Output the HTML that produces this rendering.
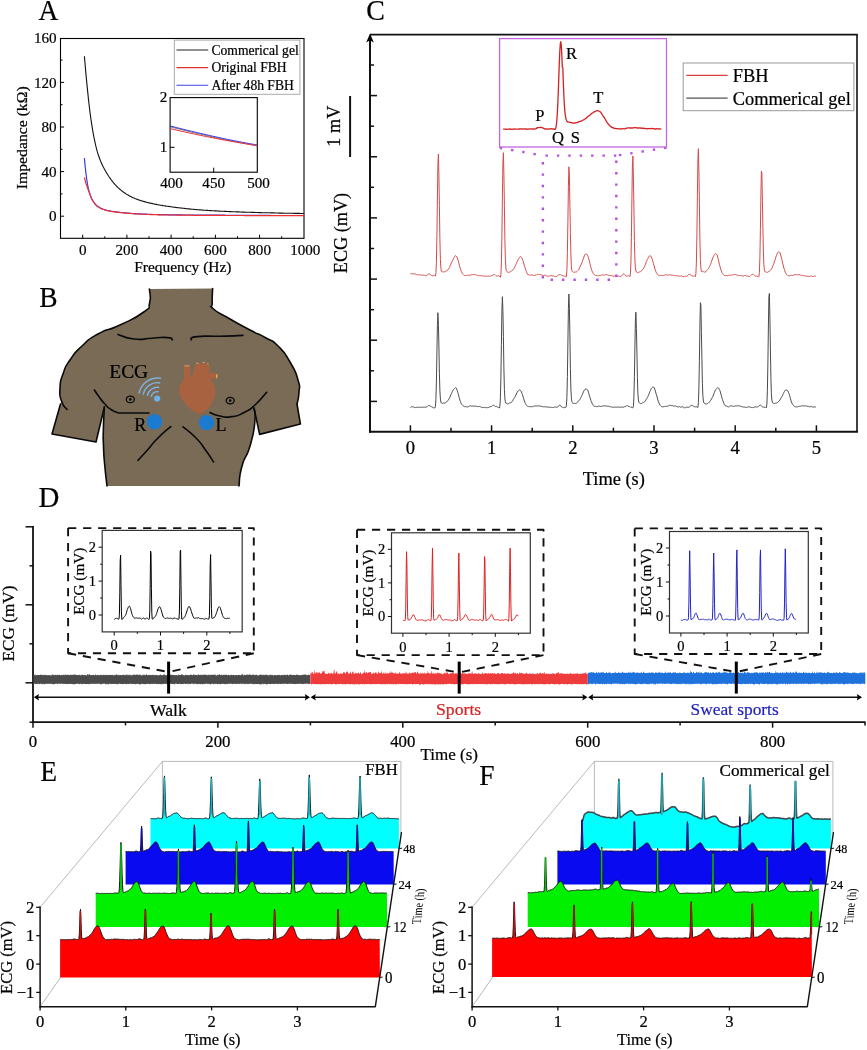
<!DOCTYPE html>
<html lang="en">
<head>
<meta charset="utf-8">
<title>Figure: FBH ECG electrodes</title>
<style>
html,body{margin:0;padding:0;background:#fff;}
body{width:867px;height:1050px;overflow:hidden;font-family:"Liberation Serif", "DejaVu Serif", serif;}
svg{display:block;}
svg text{font-family:"Liberation Serif", "DejaVu Serif", serif;stroke-width:0.22px;}
</style>
</head>
<body>
<svg width="867" height="1050" viewBox="0 0 867 1050" font-family='"Liberation Serif", "DejaVu Serif", serif'>
<rect width="867" height="1050" fill="#fff"/>
<!-- panel_a -->
<g>
<text transform="translate(38.6 19.8) scale(0.94 1)" font-size="29.2" text-anchor="start" fill="#000" stroke="#000" >A</text>
<rect x="60.5" y="38.5" width="243.5" height="199.8" fill="none" stroke="#000" stroke-width="1.1" />
<line x1="82.7" y1="238.3" x2="82.7" y2="234.7" stroke="#000" stroke-width="1" />
<text transform="translate(82.7 254.6) scale(0.97 1)" font-size="15.6" text-anchor="middle" fill="#000" stroke="#000" >0</text>
<line x1="104.8" y1="238.3" x2="104.8" y2="236.3" stroke="#000" stroke-width="1" />
<line x1="126.9" y1="238.3" x2="126.9" y2="234.7" stroke="#000" stroke-width="1" />
<text transform="translate(126.9 254.6) scale(0.97 1)" font-size="15.6" text-anchor="middle" fill="#000" stroke="#000" >200</text>
<line x1="149" y1="238.3" x2="149" y2="236.3" stroke="#000" stroke-width="1" />
<line x1="171.1" y1="238.3" x2="171.1" y2="234.7" stroke="#000" stroke-width="1" />
<text transform="translate(171.1 254.6) scale(0.97 1)" font-size="15.6" text-anchor="middle" fill="#000" stroke="#000" >400</text>
<line x1="193.2" y1="238.3" x2="193.2" y2="236.3" stroke="#000" stroke-width="1" />
<line x1="215.4" y1="238.3" x2="215.4" y2="234.7" stroke="#000" stroke-width="1" />
<text transform="translate(215.4 254.6) scale(0.97 1)" font-size="15.6" text-anchor="middle" fill="#000" stroke="#000" >600</text>
<line x1="237.5" y1="238.3" x2="237.5" y2="236.3" stroke="#000" stroke-width="1" />
<line x1="259.6" y1="238.3" x2="259.6" y2="234.7" stroke="#000" stroke-width="1" />
<text transform="translate(259.6 254.6) scale(0.97 1)" font-size="15.6" text-anchor="middle" fill="#000" stroke="#000" >800</text>
<line x1="281.7" y1="238.3" x2="281.7" y2="236.3" stroke="#000" stroke-width="1" />
<text transform="translate(305.3 254.6) scale(0.97 1)" font-size="15.6" text-anchor="middle" fill="#000" stroke="#000" >1000</text>
<line x1="60.5" y1="216.2" x2="64.1" y2="216.2" stroke="#000" stroke-width="1" />
<text transform="translate(56.6 221.4) scale(0.97 1)" font-size="15.6" text-anchor="end" fill="#000" stroke="#000" >0</text>
<line x1="60.5" y1="193.9" x2="62.5" y2="193.9" stroke="#000" stroke-width="1" />
<line x1="60.5" y1="171.6" x2="64.1" y2="171.6" stroke="#000" stroke-width="1" />
<text transform="translate(56.6 176.8) scale(0.97 1)" font-size="15.6" text-anchor="end" fill="#000" stroke="#000" >40</text>
<line x1="60.5" y1="149.3" x2="62.5" y2="149.3" stroke="#000" stroke-width="1" />
<line x1="60.5" y1="127" x2="64.1" y2="127" stroke="#000" stroke-width="1" />
<text transform="translate(56.6 132.2) scale(0.97 1)" font-size="15.6" text-anchor="end" fill="#000" stroke="#000" >80</text>
<line x1="60.5" y1="104.7" x2="62.5" y2="104.7" stroke="#000" stroke-width="1" />
<line x1="60.5" y1="82.4" x2="64.1" y2="82.4" stroke="#000" stroke-width="1" />
<text transform="translate(56.6 87.6) scale(0.97 1)" font-size="15.6" text-anchor="end" fill="#000" stroke="#000" >120</text>
<line x1="60.5" y1="60.1" x2="62.5" y2="60.1" stroke="#000" stroke-width="1" />
<text transform="translate(56.6 43) scale(0.97 1)" font-size="15.6" text-anchor="end" fill="#000" stroke="#000" >160</text>
<text transform="translate(182.8 272.1) scale(1.08 1)" font-size="14.3" text-anchor="middle" fill="#000" stroke="#000" >Frequency (Hz)</text>
<text transform="translate(27.2 137.8) rotate(-90) scale(1.1 1)" font-size="14.3" text-anchor="middle" fill="#000" stroke="#000" >Impedance (kΩ)</text>
<polyline points="84.4,56.2 85.2,65.6 86,74.6 86.8,82.9 87.6,90.9 88.4,98.6 89.2,105.8 90,112.4 90.8,118.3 91.6,123.7 92.4,128.7 93.2,133.3 94,137.5 94.8,141.4 95.6,145 96.4,148.3 97.2,151.4 98,154 98.8,156.3 99.6,158.5 100.4,160.6 101.2,162.5 102,164.3 102.8,166 103.6,167.6 104.4,169.1 105.2,170.5 106,171.9 106.8,173.2 107.6,174.5 108.4,175.8 109.2,177 110,178.1 110.8,179.3 111.6,180.3 112.4,181.4 113.2,182.4 114,183.3 114.8,184.3 115.6,185.1 116.4,186 117.2,186.8 118,187.6 118.8,188.3 119.6,189 120.4,189.7 121.2,190.4 122,191 122.8,191.6 123.6,192.2 124.4,192.8 125.2,193.3 126,193.9 126.8,194.4 127.6,194.8 128.4,195.3 129.2,195.8 130,196.2 130.8,196.6 131.6,197 132.4,197.4 133.2,197.8 134,198.1 134.8,198.5 135.6,198.8 136.4,199.1 137.2,199.4 138,199.6 138.8,199.9 139.6,200.2 140.4,200.4 141.2,200.7 142,200.9 142.8,201.2 143.6,201.4 144.4,201.6 145.2,201.9 146,202.1 146.8,202.3 147.6,202.5 148.4,202.7 149.2,202.9 150,203.1 150.8,203.3 151.6,203.4 152.4,203.6 153.2,203.8 154,204 154.8,204.1 155.6,204.3 156.4,204.4 157.2,204.6 158,204.7 158.8,204.9 159.6,205 160.4,205.2 161.2,205.3 162,205.4 162.8,205.6 163.6,205.7 164.4,205.8 165.2,205.9 166,206.1 166.8,206.2 167.6,206.3 168.4,206.4 169.2,206.5 170,206.6 170.8,206.7 171.6,206.8 172.4,207 173.2,207.1 174,207.2 174.8,207.3 175.6,207.4 176.4,207.5 177.2,207.6 178,207.7 178.8,207.8 179.6,207.9 180.4,208 181.2,208 182,208.1 182.8,208.2 183.6,208.3 184.4,208.4 185.2,208.5 186,208.6 186.8,208.7 187.6,208.8 188.4,208.9 189.2,208.9 190,209 190.8,209.1 191.6,209.2 192.4,209.3 193.2,209.3 194,209.4 194.8,209.5 195.6,209.5 196.4,209.6 197.2,209.7 198,209.7 198.8,209.8 199.6,209.9 200.4,209.9 201.2,210 202,210 202.8,210.1 203.6,210.2 204.4,210.2 205.2,210.3 206,210.3 206.8,210.4 207.6,210.4 208.4,210.5 209.2,210.5 210,210.6 210.8,210.6 211.6,210.7 212.4,210.7 213.2,210.8 214,210.8 214.8,210.9 215.6,210.9 216.4,210.9 217.2,211 218,211 218.8,211.1 219.6,211.1 220.4,211.2 221.2,211.2 222,211.2 222.8,211.3 223.6,211.3 224.4,211.4 225.2,211.4 226,211.4 226.8,211.5 227.6,211.5 228.4,211.5 229.2,211.6 230,211.6 230.8,211.6 231.6,211.7 232.4,211.7 233.2,211.7 234,211.8 234.8,211.8 235.6,211.8 236.4,211.9 237.2,211.9 238,211.9 238.8,211.9 239.6,212 240.4,212 241.2,212 242,212.1 242.8,212.1 243.6,212.1 244.4,212.1 245.2,212.2 246,212.2 246.8,212.2 247.6,212.2 248.4,212.3 249.2,212.3 250,212.3 250.8,212.3 251.6,212.4 252.4,212.4 253.2,212.4 254,212.4 254.8,212.5 255.6,212.5 256.4,212.5 257.2,212.5 258,212.5 258.8,212.6 259.6,212.6 260.4,212.6 261.2,212.6 262,212.7 262.8,212.7 263.6,212.7 264.4,212.7 265.2,212.7 266,212.8 266.8,212.8 267.6,212.8 268.4,212.8 269.2,212.8 270,212.8 270.8,212.9 271.6,212.9 272.4,212.9 273.2,212.9 274,212.9 274.8,213 275.6,213 276.4,213 277.2,213 278,213 278.8,213.1 279.6,213.1 280.4,213.1 281.2,213.1 282,213.1 282.8,213.1 283.6,213.2 284.4,213.2 285.2,213.2 286,213.2 286.8,213.2 287.6,213.2 288.4,213.2 289.2,213.3 290,213.3 290.8,213.3 291.6,213.3 292.4,213.3 293.2,213.3 294,213.4 294.8,213.4 295.6,213.4 296.4,213.4 297.2,213.4 298,213.4 298.8,213.4 299.6,213.4 300.4,213.5 301.2,213.5 302,213.5 302.8,213.5 303.6,213.5" fill="none" stroke="#111" stroke-width="1.1" stroke-linejoin="round" />
<polyline points="84.4,158.1 85.2,166.8 86,174 86.8,179.8 87.6,184.7 88.4,188.7 89.2,191.7 90,194.3 90.8,196.6 91.6,198.5 92.4,200 93.2,201.3 94,202.5 94.8,203.6 95.6,204.5 96.4,205.3 97.2,206.1 98,206.6 98.8,207.1 99.6,207.6 100.4,208 101.2,208.4 102,208.7 102.8,209.1 103.6,209.3 104.4,209.6 105.2,209.9 106,210.1 106.8,210.3 107.6,210.5 108.4,210.7 109.2,210.8 110,211 110.8,211.1 111.6,211.3 112.4,211.4 113.2,211.5 114,211.6 114.8,211.7 115.6,211.8 116.4,211.9 117.2,212 118,212.1 118.8,212.2 119.6,212.3 120.4,212.4 121.2,212.5 122,212.5 122.8,212.6 123.6,212.7 124.4,212.8 125.2,212.9 126,212.9 126.8,213 127.6,213.1 128.4,213.1 129.2,213.2 130,213.3 130.8,213.3 131.6,213.4 132.4,213.5 133.2,213.5 134,213.6 134.8,213.6 135.6,213.7 136.4,213.7 137.2,213.8 138,213.8 138.8,213.8 139.6,213.9 140.4,213.9 141.2,214 142,214 142.8,214.1 143.6,214.1 144.4,214.1 145.2,214.2 146,214.2 146.8,214.2 147.6,214.3 148.4,214.3 149.2,214.3 150,214.4 150.8,214.4 151.6,214.4 152.4,214.4 153.2,214.5 154,214.5 154.8,214.5 155.6,214.5 156.4,214.5 157.2,214.5 158,214.6 158.8,214.6 159.6,214.6 160.4,214.6 161.2,214.6 162,214.6 162.8,214.7 163.6,214.7 164.4,214.7 165.2,214.7 166,214.7 166.8,214.7 167.6,214.7 168.4,214.8 169.2,214.8 170,214.8 170.8,214.8 171.6,214.8 172.4,214.8 173.2,214.8 174,214.8 174.8,214.8 175.6,214.9 176.4,214.9 177.2,214.9 178,214.9 178.8,214.9 179.6,214.9 180.4,214.9 181.2,214.9 182,214.9 182.8,214.9 183.6,215 184.4,215 185.2,215 186,215 186.8,215 187.6,215 188.4,215 189.2,215 190,215 190.8,215 191.6,215 192.4,215 193.2,215.1 194,215.1 194.8,215.1 195.6,215.1 196.4,215.1 197.2,215.1 198,215.1 198.8,215.1 199.6,215.1 200.4,215.1 201.2,215.1 202,215.1 202.8,215.1 203.6,215.1 204.4,215.1 205.2,215.1 206,215.1 206.8,215.1 207.6,215.1 208.4,215.2 209.2,215.2 210,215.2 210.8,215.2 211.6,215.2 212.4,215.2 213.2,215.2 214,215.2 214.8,215.2 215.6,215.2 216.4,215.2 217.2,215.2 218,215.2 218.8,215.2 219.6,215.2 220.4,215.2 221.2,215.2 222,215.2 222.8,215.2 223.6,215.2 224.4,215.2 225.2,215.3 226,215.3 226.8,215.3 227.6,215.3 228.4,215.3 229.2,215.3 230,215.3 230.8,215.3 231.6,215.3 232.4,215.3 233.2,215.3 234,215.3 234.8,215.3 235.6,215.3 236.4,215.3 237.2,215.3 238,215.3 238.8,215.3 239.6,215.3 240.4,215.3 241.2,215.3 242,215.3 242.8,215.3 243.6,215.3 244.4,215.4 245.2,215.4 246,215.4 246.8,215.4 247.6,215.4 248.4,215.4 249.2,215.4 250,215.4 250.8,215.4 251.6,215.4 252.4,215.4 253.2,215.4 254,215.4 254.8,215.4 255.6,215.4 256.4,215.4 257.2,215.4 258,215.4 258.8,215.4 259.6,215.4 260.4,215.4 261.2,215.4 262,215.4 262.8,215.4 263.6,215.4 264.4,215.4 265.2,215.4 266,215.4 266.8,215.4 267.6,215.4 268.4,215.4 269.2,215.4 270,215.4 270.8,215.5 271.6,215.5 272.4,215.5 273.2,215.5 274,215.5 274.8,215.5 275.6,215.5 276.4,215.5 277.2,215.5 278,215.5 278.8,215.5 279.6,215.5 280.4,215.5 281.2,215.5 282,215.5 282.8,215.5 283.6,215.5 284.4,215.5 285.2,215.5 286,215.5 286.8,215.5 287.6,215.5 288.4,215.5 289.2,215.5 290,215.5 290.8,215.5 291.6,215.5 292.4,215.5 293.2,215.5 294,215.5 294.8,215.5 295.6,215.5 296.4,215.5 297.2,215.5 298,215.5 298.8,215.5 299.6,215.5 300.4,215.5 301.2,215.5 302,215.5 302.8,215.5 303.6,215.5" fill="none" stroke="#3a3ae8" stroke-width="1.2" stroke-linejoin="round" />
<polyline points="84.4,177.5 85.2,180.7 86,183.5 86.8,185.9 87.6,188.2 88.4,190.3 89.2,192.4 90,194.6 90.8,196.8 91.6,198.7 92.4,200.2 93.2,201.5 94,202.6 94.8,203.7 95.6,204.7 96.4,205.5 97.2,206.2 98,206.8 98.8,207.3 99.6,207.8 100.4,208.2 101.2,208.6 102,208.9 102.8,209.3 103.6,209.5 104.4,209.8 105.2,210.1 106,210.3 106.8,210.5 107.6,210.7 108.4,210.9 109.2,211 110,211.2 110.8,211.3 111.6,211.5 112.4,211.6 113.2,211.7 114,211.8 114.8,211.9 115.6,212 116.4,212.1 117.2,212.2 118,212.3 118.8,212.4 119.6,212.5 120.4,212.6 121.2,212.7 122,212.7 122.8,212.8 123.6,212.9 124.4,213 125.2,213.1 126,213.1 126.8,213.2 127.6,213.3 128.4,213.3 129.2,213.4 130,213.5 130.8,213.5 131.6,213.6 132.4,213.7 133.2,213.7 134,213.8 134.8,213.8 135.6,213.9 136.4,213.9 137.2,214 138,214 138.8,214 139.6,214.1 140.4,214.1 141.2,214.2 142,214.2 142.8,214.3 143.6,214.3 144.4,214.3 145.2,214.4 146,214.4 146.8,214.4 147.6,214.5 148.4,214.5 149.2,214.5 150,214.6 150.8,214.6 151.6,214.6 152.4,214.6 153.2,214.7 154,214.7 154.8,214.7 155.6,214.7 156.4,214.7 157.2,214.7 158,214.8 158.8,214.8 159.6,214.8 160.4,214.8 161.2,214.8 162,214.8 162.8,214.9 163.6,214.9 164.4,214.9 165.2,214.9 166,214.9 166.8,214.9 167.6,214.9 168.4,215 169.2,215 170,215 170.8,215 171.6,215 172.4,215 173.2,215 174,215 174.8,215 175.6,215.1 176.4,215.1 177.2,215.1 178,215.1 178.8,215.1 179.6,215.1 180.4,215.1 181.2,215.1 182,215.1 182.8,215.1 183.6,215.2 184.4,215.2 185.2,215.2 186,215.2 186.8,215.2 187.6,215.2 188.4,215.2 189.2,215.2 190,215.2 190.8,215.2 191.6,215.2 192.4,215.2 193.2,215.3 194,215.3 194.8,215.3 195.6,215.3 196.4,215.3 197.2,215.3 198,215.3 198.8,215.3 199.6,215.3 200.4,215.3 201.2,215.3 202,215.3 202.8,215.3 203.6,215.3 204.4,215.3 205.2,215.3 206,215.3 206.8,215.3 207.6,215.3 208.4,215.4 209.2,215.4 210,215.4 210.8,215.4 211.6,215.4 212.4,215.4 213.2,215.4 214,215.4 214.8,215.4 215.6,215.4 216.4,215.4 217.2,215.4 218,215.4 218.8,215.4 219.6,215.4 220.4,215.4 221.2,215.4 222,215.4 222.8,215.4 223.6,215.4 224.4,215.4 225.2,215.5 226,215.5 226.8,215.5 227.6,215.5 228.4,215.5 229.2,215.5 230,215.5 230.8,215.5 231.6,215.5 232.4,215.5 233.2,215.5 234,215.5 234.8,215.5 235.6,215.5 236.4,215.5 237.2,215.5 238,215.5 238.8,215.5 239.6,215.5 240.4,215.5 241.2,215.5 242,215.5 242.8,215.5 243.6,215.5 244.4,215.6 245.2,215.6 246,215.6 246.8,215.6 247.6,215.6 248.4,215.6 249.2,215.6 250,215.6 250.8,215.6 251.6,215.6 252.4,215.6 253.2,215.6 254,215.6 254.8,215.6 255.6,215.6 256.4,215.6 257.2,215.6 258,215.6 258.8,215.6 259.6,215.6 260.4,215.6 261.2,215.6 262,215.6 262.8,215.6 263.6,215.6 264.4,215.6 265.2,215.6 266,215.6 266.8,215.6 267.6,215.6 268.4,215.6 269.2,215.6 270,215.6 270.8,215.7 271.6,215.7 272.4,215.7 273.2,215.7 274,215.7 274.8,215.7 275.6,215.7 276.4,215.7 277.2,215.7 278,215.7 278.8,215.7 279.6,215.7 280.4,215.7 281.2,215.7 282,215.7 282.8,215.7 283.6,215.7 284.4,215.7 285.2,215.7 286,215.7 286.8,215.7 287.6,215.7 288.4,215.7 289.2,215.7 290,215.7 290.8,215.7 291.6,215.7 292.4,215.7 293.2,215.7 294,215.7 294.8,215.7 295.6,215.7 296.4,215.7 297.2,215.7 298,215.7 298.8,215.7 299.6,215.7 300.4,215.7 301.2,215.7 302,215.7 302.8,215.7 303.6,215.7" fill="none" stroke="#ee3030" stroke-width="1.2" stroke-linejoin="round" />
<rect x="174.3" y="40.1" width="125.6" height="54.2" fill="#fff" stroke="#aaa" stroke-width="1" />
<line x1="176.5" y1="50" x2="208.2" y2="50" stroke="#222" stroke-width="1.1" />
<text x="211.5" y="54.6" font-size="13.6" text-anchor="start" fill="#000" stroke="#000" >Commerical gel</text>
<line x1="176.5" y1="67.6" x2="208.2" y2="67.6" stroke="#e03030" stroke-width="1.1" />
<text x="211.5" y="72.2" font-size="13.6" text-anchor="start" fill="#000" stroke="#000" >Original FBH</text>
<line x1="176.5" y1="85.2" x2="208.2" y2="85.2" stroke="#4040e8" stroke-width="1.1" />
<text x="211.5" y="89.8" font-size="13.6" text-anchor="start" fill="#000" stroke="#000" >After 48h FBH</text>
<rect x="170.1" y="97.6" width="87.2" height="74.6" fill="#fff" stroke="#000" stroke-width="1.1" />
<line x1="213.7" y1="172.2" x2="213.7" y2="167.7" stroke="#000" stroke-width="1" />
<line x1="170.1" y1="147.3" x2="174.6" y2="147.3" stroke="#000" stroke-width="1" />
<text transform="translate(167.2 101.8) scale(0.97 1)" font-size="15.6" text-anchor="end" fill="#000" stroke="#000" >2</text>
<text transform="translate(167.2 152) scale(0.97 1)" font-size="15.6" text-anchor="end" fill="#000" stroke="#000" >1</text>
<text transform="translate(171.5 187.8) scale(0.97 1)" font-size="15.6" text-anchor="middle" fill="#000" stroke="#000" >400</text>
<text transform="translate(213.7 187.8) scale(0.97 1)" font-size="15.6" text-anchor="middle" fill="#000" stroke="#000" >450</text>
<text transform="translate(258.5 187.8) scale(0.97 1)" font-size="15.6" text-anchor="middle" fill="#000" stroke="#000" >500</text>
<polyline points="170.1,126.7 173.1,127.5 176.1,128.3 179.1,129 182.1,129.8 185.1,130.5 188.1,131.3 191.1,132 194.2,132.7 197.2,133.4 200.2,134.1 203.2,134.8 206.2,135.5 209.2,136.2 212.2,136.9 215.2,137.5 218.2,138.2 221.2,138.8 224.2,139.5 227.2,140.1 230.2,140.7 233.2,141.3 236.3,141.9 239.3,142.5 242.3,143.1 245.3,143.6 248.3,144.2 251.3,144.7 254.3,145.3 257.3,145.8" fill="none" stroke="#223" stroke-width="0.6" stroke-linejoin="round" />
<polyline points="170.1,125.9 173.1,126.7 176.1,127.5 179.1,128.2 182.1,129 185.1,129.7 188.1,130.5 191.1,131.2 194.2,131.9 197.2,132.6 200.2,133.3 203.2,134 206.2,134.7 209.2,135.4 212.2,136.1 215.2,136.7 218.2,137.4 221.2,138 224.2,138.7 227.2,139.3 230.2,139.9 233.2,140.5 236.3,141.1 239.3,141.7 242.3,142.3 245.3,142.8 248.3,143.4 251.3,143.9 254.3,144.5 257.3,145" fill="none" stroke="#3a3ae8" stroke-width="1.0" stroke-linejoin="round" />
<polyline points="170.1,128.6 173.1,129.3 176.1,130 179.1,130.7 182.1,131.4 185.1,132 188.1,132.7 191.1,133.4 194.2,134 197.2,134.6 200.2,135.3 203.2,135.9 206.2,136.5 209.2,137.1 212.2,137.7 215.2,138.3 218.2,138.9 221.2,139.5 224.2,140 227.2,140.6 230.2,141.1 233.2,141.7 236.3,142.2 239.3,142.7 242.3,143.2 245.3,143.7 248.3,144.2 251.3,144.7 254.3,145.2 257.3,145.7" fill="none" stroke="#ee3030" stroke-width="1.0" stroke-linejoin="round" />
</g>
<!-- panel_b -->
<g>
<text transform="translate(39.2 307.2) scale(0.94 1)" font-size="29.2" text-anchor="start" fill="#000" stroke="#000" >B</text>
<path d="M149.4 289 C149.5 293.7 151.7 295.2 149.6 303 C147.5 310.8 152.9 305.2 143 312.5 C133.1 319.8 135 317.8 120 325 C105 332.2 110.7 327 98 334 C85.3 341 91.3 337.3 82 346 C72.7 354.7 76.3 350.7 70 360 C63.7 369.3 66.3 364.7 63 374 C59.7 383.3 60.5 379 60 388 C59.5 397 61 396.7 61.5 401 L60.5 404 L52 434 L96 442 L104 408 L104.4 407 C104.1 414 103.7 415 103.4 428 C103.1 441 103 433.3 103.5 446 C104 458.7 103.6 452.7 104.8 466 C106 479.3 106.3 479.3 107 486 L239 486 L239 486 C240 479.3 238.3 479.3 242 466 C245.7 452.7 245.7 460.7 250 446 C254.3 431.3 253.5 434.7 254.8 422 C256.1 409.3 254.3 412.7 254 408 L259.6 434.4 L300.4 424 L297 404 L297 404 C297.7 400 298.7 400 299 392 C299.3 384 301 390 298 380 C295 370 296.7 373.3 290 362 C283.3 350.7 286 354 278 346 C270 338 275.3 343.3 266 338 C256.7 332.7 262 336.3 250 330 C238 323.7 242.2 326 230 319 C217.8 312 219.4 314.3 213.5 309 C207.6 303.7 212.5 309.8 212.2 303 C211.9 296.2 212.5 293.4 212.6 288.6 Z" fill="#7a6b56" stroke="none"/>
<path d="M149.4 289 C149.5 293.7 151.7 295.2 149.6 303 C147.5 310.8 152.9 305.2 143 312.5 C133.1 319.8 135 317.8 120 325 C105 332.2 110.7 327 98 334 C85.3 341 91.3 337.3 82 346 C72.7 354.7 76.3 350.7 70 360 C63.7 369.3 66.3 364.7 63 374 C59.7 383.3 60.5 379 60 388 C59.5 397 59.2 393.8 61.5 401 C63.8 408.2 65.2 406.7 67 409.5" fill="none" stroke="#0a0a0a" stroke-width="1.6" stroke-linecap="round" stroke-linejoin="round"/>
<path d="M60.5 404 L52 434 L96 442 L104.4 407" fill="none" stroke="#0a0a0a" stroke-width="1.6" stroke-linecap="round" stroke-linejoin="round"/>
<path d="M104.4 407 C104.1 414 103.7 415 103.4 428 C103.1 441 103 433.3 103.5 446 C104 458.7 103.6 452.7 104.8 466 C106 479.3 106.3 479.3 107 486" fill="none" stroke="#0a0a0a" stroke-width="1.6" stroke-linecap="round" stroke-linejoin="round"/>
<path d="M239 486 C240 479.3 238.3 479.3 242 466 C245.7 452.7 245.7 460.7 250 446 C254.3 431.3 253.5 434.7 254.8 422 C256.1 409.3 254.3 412.7 254 408" fill="none" stroke="#0a0a0a" stroke-width="1.6" stroke-linecap="round" stroke-linejoin="round"/>
<path d="M254 408 L259.6 434.4 L300.4 424 L297 404" fill="none" stroke="#0a0a0a" stroke-width="1.6" stroke-linecap="round" stroke-linejoin="round"/>
<path d="M297 404 C297.7 400 298.7 400 299 392 C299.3 384 301 390 298 380 C295 370 296.7 373.3 290 362 C283.3 350.7 286 354 278 346 C270 338 275.3 343.3 266 338 C256.7 332.7 262 336.3 250 330 C238 323.7 242.2 326 230 319 C217.8 312 219.4 314.3 213.5 309 C207.6 303.7 212.5 309.8 212.2 303 C211.9 296.2 212.5 293.4 212.6 288.6" fill="none" stroke="#0a0a0a" stroke-width="1.6" stroke-linecap="round" stroke-linejoin="round"/>
<path d="M118 334.4 C123.3 335.9 122.7 337.7 134 339 C145.3 340.3 140.8 338.7 152 338.2 C163.2 337.7 160.7 337 167.5 337.6 C174.3 338.2 170.8 339.2 172.4 340" fill="none" stroke="#0a0a0a" stroke-width="1.6" stroke-linecap="round" stroke-linejoin="round"/>
<path d="M191 339.8 C193 338.7 187.3 337.8 197 336.6 C206.7 335.4 204.7 336.6 220 336.2 C235.3 335.8 235.3 335.7 243 335.4" fill="none" stroke="#0a0a0a" stroke-width="1.6" stroke-linecap="round" stroke-linejoin="round"/>
<path d="M94.4 390 C95.8 392 95.2 391.5 98.5 396 C101.8 400.5 100.2 399 104.4 403.5 C108.6 408 106.3 406.3 111 409.5 C115.7 412.7 116 411.8 118.5 413 L149 413" fill="none" stroke="#0a0a0a" stroke-width="1.6" stroke-linecap="round" stroke-linejoin="round"/>
<path d="M210 412.6 C213.3 413.7 212.7 414.7 220 416 C227.3 417.3 224 417.8 232 416.6 C240 415.4 236.3 416.4 244 412.5 C251.7 408.6 247.5 411.7 255 405 C262.5 398.3 262.7 396.6 266.6 392.4" fill="none" stroke="#0a0a0a" stroke-width="1.6" stroke-linecap="round" stroke-linejoin="round"/>
<path d="M170.8 426.6 C166.5 430.4 165.9 430 158 438 C150.1 446 153.7 443 147 450.5 C140.3 458 141 457.1 138 460.4" fill="none" stroke="#0a0a0a" stroke-width="1.6" stroke-linecap="round" stroke-linejoin="round"/>
<path d="M183 426.8 C187.3 430.5 188.5 430.3 196 438 C203.5 445.7 199.6 442 205.5 450 C211.4 458 210.9 458 213.6 462" fill="none" stroke="#0a0a0a" stroke-width="1.6" stroke-linecap="round" stroke-linejoin="round"/>
<ellipse cx="130.3" cy="399.4" rx="4" ry="3.3" fill="none" stroke="#0a0a0a" stroke-width="1.3"/>
<circle cx="130.3" cy="399.4" r="1.3" fill="#0a0a0a"/>
<ellipse cx="230.2" cy="400.6" rx="4" ry="3.3" fill="none" stroke="#0a0a0a" stroke-width="1.3"/>
<circle cx="230.2" cy="400.6" r="1.3" fill="#0a0a0a"/>
<path d="M183.9 366.2 L190 365.4 L190.3 376.2 L192.2 377.3 L193.5 371 L195.6 364.2 L199 362.6 L201 365 L203 362.2 L205.6 363 L206.2 365.4 L208.4 363.8 L209.6 366.4 L209.4 372.6 L216.6 373.6 L217 378.4 L209.8 379 C213 382 215 386 215.2 390.5 C215.4 397 212.6 403.5 208.6 408 C205.6 411.2 202.4 413.4 199.8 413.9 C196.4 413.4 193 411.4 190 408.6 C185.4 404.2 181 398.8 179.4 393.4 C178.4 389.4 179.2 385 182.2 381.8 C183.2 380.6 184 379.4 184 377.8 Z" fill="#a8623f"/>
<rect x="184.3" y="365.2" width="5.2" height="1.3" rx="0.5" fill="#cf9468"/>
<rect x="196.2" y="362.8" width="2.4" height="1.1" rx="0.5" fill="#cf9468"/>
<rect x="202.4" y="362.0" width="2.6" height="1.1" rx="0.5" fill="#cf9468"/>
<rect x="206.6" y="363.4" width="2.2" height="1.1" rx="0.5" fill="#cf9468"/>
<rect x="216.0" y="374.0" width="1.4" height="4.2" rx="0.5" fill="#e8a848"/>
<circle cx="157.2" cy="398.5" r="3.1" fill="#6db1ea"/>
<path d="M151 396.8 A6.3 6.9 0 0 1 158.5 391.8" fill="none" stroke="#7cb2e0" stroke-width="1.4"/>
<path d="M147.2 395.8 A10.3 11.2 0 0 1 159.3 387.5" fill="none" stroke="#7cb2e0" stroke-width="1.4"/>
<path d="M143.1 394.7 A14.5 15.8 0 0 1 160.2 383" fill="none" stroke="#7cb2e0" stroke-width="1.4"/>
<path d="M138.9 393.5 A18.9 20.5 0 0 1 161.1 378.4" fill="none" stroke="#7cb2e0" stroke-width="1.4"/>
<circle cx="154.4" cy="421.7" r="7.7" fill="#1b7bd0"/>
<circle cx="206.6" cy="422.6" r="7.7" fill="#1b7bd0"/>
<text transform="translate(109.3 377.6) scale(1.08 1)" font-size="18" text-anchor="start" fill="#000" stroke="#000" >ECG</text>
<text x="134.2" y="430.5" font-size="18" text-anchor="start" fill="#000" stroke="#000" >R</text>
<text x="215.4" y="430.6" font-size="18" text-anchor="start" fill="#000" stroke="#000" >L</text>
</g>
<!-- panel_c -->
<g>
<text transform="translate(366.3 20.4) scale(0.95 1)" font-size="29.4" text-anchor="start" fill="#000" stroke="#000" >C</text>
<line x1="370" y1="432.7" x2="370" y2="37.6" stroke="#111" stroke-width="2" />
<path d="M370 33.5 L366.2 42.5 L370 40.3 L373.8 42.5 Z" fill="#000"/>
<line x1="369" y1="431.7" x2="858" y2="431.7" stroke="#111" stroke-width="2" />
<line x1="370" y1="34.6" x2="857.8" y2="34.6" stroke="#111" stroke-width="1.6" />
<line x1="857" y1="34.6" x2="857" y2="431.7" stroke="#111" stroke-width="1.6" />
<line x1="370" y1="401.4" x2="377" y2="401.4" stroke="#111" stroke-width="1.5" />
<line x1="370" y1="370.8" x2="374" y2="370.8" stroke="#111" stroke-width="1.5" />
<line x1="370" y1="340.2" x2="377" y2="340.2" stroke="#111" stroke-width="1.5" />
<line x1="370" y1="309.7" x2="374" y2="309.7" stroke="#111" stroke-width="1.5" />
<line x1="370" y1="279.1" x2="377" y2="279.1" stroke="#111" stroke-width="1.5" />
<line x1="370" y1="248.5" x2="374" y2="248.5" stroke="#111" stroke-width="1.5" />
<line x1="370" y1="217.9" x2="377" y2="217.9" stroke="#111" stroke-width="1.5" />
<line x1="370" y1="187.3" x2="374" y2="187.3" stroke="#111" stroke-width="1.5" />
<line x1="370" y1="156.8" x2="377" y2="156.8" stroke="#111" stroke-width="1.5" />
<line x1="370" y1="126.2" x2="374" y2="126.2" stroke="#111" stroke-width="1.5" />
<line x1="370" y1="95.6" x2="377" y2="95.6" stroke="#111" stroke-width="1.5" />
<line x1="370" y1="65" x2="374" y2="65" stroke="#111" stroke-width="1.5" />
<line x1="410.4" y1="431.7" x2="410.4" y2="425.3" stroke="#111" stroke-width="1.5" />
<text x="410.4" y="454.4" font-size="18.6" text-anchor="middle" fill="#000" stroke="#000" >0</text>
<line x1="451" y1="431.7" x2="451" y2="427.7" stroke="#111" stroke-width="1.5" />
<line x1="491.6" y1="431.7" x2="491.6" y2="425.3" stroke="#111" stroke-width="1.5" />
<text x="491.6" y="454.4" font-size="18.6" text-anchor="middle" fill="#000" stroke="#000" >1</text>
<line x1="532.2" y1="431.7" x2="532.2" y2="427.7" stroke="#111" stroke-width="1.5" />
<line x1="572.8" y1="431.7" x2="572.8" y2="425.3" stroke="#111" stroke-width="1.5" />
<text x="572.8" y="454.4" font-size="18.6" text-anchor="middle" fill="#000" stroke="#000" >2</text>
<line x1="613.4" y1="431.7" x2="613.4" y2="427.7" stroke="#111" stroke-width="1.5" />
<line x1="654" y1="431.7" x2="654" y2="425.3" stroke="#111" stroke-width="1.5" />
<text x="654" y="454.4" font-size="18.6" text-anchor="middle" fill="#000" stroke="#000" >3</text>
<line x1="694.6" y1="431.7" x2="694.6" y2="427.7" stroke="#111" stroke-width="1.5" />
<line x1="735.2" y1="431.7" x2="735.2" y2="425.3" stroke="#111" stroke-width="1.5" />
<text x="735.2" y="454.4" font-size="18.6" text-anchor="middle" fill="#000" stroke="#000" >4</text>
<line x1="775.8" y1="431.7" x2="775.8" y2="427.7" stroke="#111" stroke-width="1.5" />
<line x1="816.4" y1="431.7" x2="816.4" y2="425.3" stroke="#111" stroke-width="1.5" />
<text x="816.4" y="454.4" font-size="18.6" text-anchor="middle" fill="#000" stroke="#000" >5</text>
<text x="613.8" y="485" font-size="18.4" text-anchor="middle" fill="#000" stroke="#000" >Time (s)</text>
<text transform="translate(347.3 233) rotate(-90)" font-size="18.2" text-anchor="middle" fill="#000" stroke="#000" >ECG (mV)</text>
<line x1="350.1" y1="96" x2="350.1" y2="157" stroke="#111" stroke-width="2" />
<text transform="translate(340.4 126.2) rotate(-90)" font-size="18.2" text-anchor="middle" fill="#000" stroke="#000" >1 mV</text>
<rect x="683.2" y="63" width="170.7" height="47.7" fill="#fff" stroke="#999" stroke-width="1" />
<line x1="686.3" y1="75.4" x2="727.6" y2="75.4" stroke="#d84040" stroke-width="1.1" />
<line x1="686.3" y1="98.1" x2="727.6" y2="98.1" stroke="#555" stroke-width="1.1" />
<text x="732.8" y="81.6" font-size="18.4" text-anchor="start" fill="#000" stroke="#000" >FBH</text>
<text x="732.8" y="104.8" font-size="18.4" text-anchor="start" fill="#000" stroke="#000" >Commerical gel</text>
<polyline points="410.4,273.5 410.9,273.6 411.4,273.6 411.9,273.7 412.4,273.8 412.9,274 413.4,274 413.9,274 414.4,273.8 414.9,273.7 415.4,274 415.9,274.2 416.4,274.7 416.9,274.6 417.4,274.8 417.9,274.9 418.4,274.8 418.9,274.8 419.4,274.7 419.9,274.8 420.4,274.9 420.9,275 421.4,275.1 421.9,275.2 422.4,275.2 422.9,275.2 423.4,275 423.9,275.1 424.4,275.2 424.9,275.4 425.4,275.9 425.9,275.8 426.4,275.8 426.9,275.4 427.4,274.9 427.9,274.6 428.4,274 428.9,273.8 429.4,273.9 429.9,274 430.4,274.6 430.9,275.1 431.4,275.3 431.9,275.8 432.4,275.9 432.9,275.8 433.4,275.7 433.9,275.4 434.4,275.3 434.9,275.7 435.4,276.1 435.9,273.5 436.4,262.4 436.9,236.9 437.4,198.9 437.9,164.4 438.4,154 438.9,175.1 439.4,205.5 439.9,239.7 440.4,259.6 440.9,267.9 441.4,271 441.9,271.7 442.4,271.8 442.9,272.1 443.4,271.9 443.9,271.9 444.4,271.9 444.9,271.6 445.4,271.4 445.9,271.1 446.4,271 446.9,270.8 447.4,270.2 447.9,269.9 448.4,269.2 448.9,268.2 449.4,267.6 449.9,266.4 450.4,265.2 450.9,264.1 451.4,262.8 451.9,261.9 452.4,260.9 452.9,259.8 453.4,258.7 453.9,257.6 454.4,256.7 454.9,256.2 455.4,255.8 455.9,255.7 456.4,256.2 456.9,257.1 457.4,258 457.9,259.6 458.4,261.4 458.9,263.2 459.4,265.3 459.9,267.1 460.4,268.6 460.9,270.2 461.4,271.6 461.9,272.8 462.4,273.6 462.9,274.3 463.4,274.7 463.9,275.2 464.4,275.4 464.9,275.6 465.4,275.6 465.9,275.5 466.4,275.5 466.9,275.4 467.4,275.3 467.9,275.4 468.4,275.3 468.9,275.2 469.4,275.4 469.9,275.2 470.4,275.2 470.9,275 471.4,274.7 471.9,274.8 472.4,274.8 472.9,274.8 473.4,274.6 473.9,274.5 474.4,274.5 474.9,274.5 475.4,274.8 475.9,275 476.4,274.9 476.9,275.2 477.4,275.4 477.9,275.5 478.4,275.7 478.9,275.8 479.4,275.5 479.9,275.6 480.4,275.6 480.9,275.6 481.4,275.8 481.9,275.7 482.4,275.8 482.9,276 483.4,275.9 483.9,276.2 484.4,276.2 484.9,276.1 485.4,276.2 485.9,276.2 486.4,276.2 486.9,276.2 487.4,276.2 487.9,276.2 488.4,276.2 488.9,276.2 489.4,276.4 489.9,276.1 490.4,276.1 490.9,276.1 491.4,275.7 491.9,276 492.4,275.6 492.9,274.9 493.4,274.7 493.9,274.3 494.4,274.3 494.9,274.6 495.4,275.1 495.9,275.6 496.4,276 496.9,276.1 497.4,276 497.9,275.7 498.4,275.6 498.9,275.8 499.4,276 499.9,276.8 500.4,277.2 500.9,274.5 501.4,262.9 501.9,236.4 502.4,197.8 502.9,162.7 503.4,152.7 503.9,174.3 504.4,205.5 504.9,239.8 505.4,259.8 505.9,268 506.4,270.7 506.9,271.6 507.4,271.9 507.9,272.3 508.4,272.4 508.9,272.4 509.4,272.2 509.9,272 510.4,271.7 510.9,271.3 511.4,271.1 511.9,270.7 512.4,270.5 512.9,270.1 513.4,269.3 513.9,268.6 514.4,267.5 514.9,266.5 515.4,265.7 515.9,264.4 516.4,263.4 516.9,262.2 517.4,261.1 517.9,260.1 518.4,259.1 518.9,258.4 519.4,257.5 519.9,256.9 520.4,256.5 520.9,256.7 521.4,257.3 521.9,258 522.4,259.4 522.9,260.5 523.4,262.1 523.9,264 524.4,265.7 524.9,267.2 525.4,268.9 525.9,270.2 526.4,271.6 526.9,272.9 527.4,273.9 527.9,274.6 528.4,274.7 528.9,275 529.4,275 529.9,275 530.4,275.1 530.9,275.2 531.4,275 531.9,275 532.4,275.1 532.9,274.9 533.4,275.3 533.9,275.4 534.4,275.3 534.9,275.5 535.4,275.1 535.9,275.1 536.4,275.1 536.9,274.6 537.4,274.5 537.9,274.4 538.4,274.2 538.9,274.5 539.4,274.5 539.9,274.5 540.4,274.6 540.9,274.8 541.4,274.9 541.9,275 542.4,275.4 542.9,275.2 543.4,275.5 543.9,275.4 544.4,275.3 544.9,275.5 545.4,275.4 545.9,275.6 546.4,275.9 546.9,276 547.4,276.2 547.9,276.3 548.4,276.1 548.9,276.1 549.4,276.1 549.9,276 550.4,275.7 550.9,275.8 551.4,275.7 551.9,275.9 552.4,276 552.9,275.8 553.4,275.9 553.9,276 554.4,276.3 554.9,276.6 555.4,276.7 555.9,276.6 556.4,276.6 556.9,276.2 557.4,275.7 557.9,275.6 558.4,275.2 558.9,275 559.4,274.5 559.9,274.3 560.4,274.5 560.9,274.7 561.4,275.3 561.9,275.7 562.4,275.7 562.9,275.8 563.4,275.9 563.9,275.9 564.4,276.1 564.9,276.2 565.4,276.8 565.9,277.1 566.4,276.6 566.9,270.3 567.4,252.5 567.9,221.5 568.4,186.6 568.9,166.8 569.4,175 569.9,205.4 570.4,232.6 570.9,255.8 571.4,266.8 571.9,270.6 572.4,271.5 572.9,271.8 573.4,272.2 573.9,272.3 574.4,272.1 574.9,272.2 575.4,272.1 575.9,272 576.4,272 576.9,271.6 577.4,271.1 577.9,270.5 578.4,270.1 578.9,269.4 579.4,268.2 579.9,267.1 580.4,266 580.9,264.9 581.4,264.1 581.9,262.8 582.4,261.3 582.9,260 583.4,258.3 583.9,257 584.4,255.8 584.9,254.8 585.4,254.1 585.9,253.9 586.4,254.1 586.9,254.4 587.4,255.1 587.9,256.1 588.4,257.4 588.9,259.2 589.4,261.3 589.9,263.4 590.4,265.6 590.9,267.4 591.4,269.2 591.9,270.6 592.4,271.9 592.9,272.8 593.4,273.6 593.9,274.2 594.4,274.8 594.9,275.2 595.4,275.4 595.9,275.7 596.4,275.5 596.9,275.6 597.4,275.7 597.9,275.8 598.4,275.8 598.9,275.8 599.4,275.6 599.9,275.5 600.4,275.6 600.9,275.3 601.4,275.2 601.9,275 602.4,274.9 602.9,274.8 603.4,274.9 603.9,275.1 604.4,275.1 604.9,275.1 605.4,275 605.9,274.5 606.4,274.5 606.9,274.5 607.4,274.9 607.9,275.2 608.4,275.3 608.9,275.2 609.4,275.3 609.9,275.4 610.4,275.5 610.9,275.5 611.4,275.4 611.9,275.6 612.4,275.8 612.9,276.1 613.4,276.3 613.9,276.2 614.4,276 614.9,275.9 615.4,275.7 615.9,275.9 616.4,276 616.9,276.1 617.4,276.2 617.9,276 618.4,276.1 618.9,276.3 619.4,276.3 619.9,276.5 620.4,276.6 620.9,276.4 621.4,276.1 621.9,275.5 622.4,274.9 622.9,274.3 623.4,273.9 623.9,274.1 624.4,274.3 624.9,274.8 625.4,275.4 625.9,275.8 626.4,276.1 626.9,276.1 627.4,276 627.9,275.7 628.4,275.7 628.9,275.7 629.4,276.1 629.9,276.7 630.4,273.9 630.9,263 631.4,237.6 631.9,200 632.4,166 632.9,156 633.4,176.9 633.9,207 634.4,240.5 634.9,260.1 635.4,268.1 635.9,271 636.4,271.9 636.9,272.2 637.4,272.6 637.9,272.7 638.4,272.4 638.9,272.4 639.4,272 639.9,271.9 640.4,271.9 640.9,271.4 641.4,270.9 641.9,270.3 642.4,269.7 642.9,269.3 643.4,268.7 643.9,267.8 644.4,266.9 644.9,265.7 645.4,264.3 645.9,262.9 646.4,261.6 646.9,260.5 647.4,259.4 647.9,258.5 648.4,257.5 648.9,256.5 649.4,255.9 649.9,255.6 650.4,255.9 650.9,256.2 651.4,257 651.9,258.4 652.4,259.7 652.9,261.5 653.4,263.6 653.9,265.1 654.4,267 654.9,269 655.4,270.2 655.9,271.6 656.4,272.8 656.9,273.4 657.4,274.5 657.9,274.8 658.4,275.2 658.9,275.5 659.4,275.4 659.9,275.7 660.4,275.5 660.9,275.6 661.4,275.4 661.9,275.5 662.4,275.6 662.9,275.4 663.4,275.5 663.9,275.5 664.4,275.2 664.9,275.1 665.4,274.8 665.9,274.6 666.4,274.7 666.9,274.9 667.4,275.1 667.9,275.1 668.4,275 668.9,274.9 669.4,274.7 669.9,275 670.4,275.2 670.9,275.2 671.4,275.2 671.9,275 672.4,275.1 672.9,275.2 673.4,275.4 673.9,275.5 674.4,275.5 674.9,275.7 675.4,275.8 675.9,276 676.4,275.8 676.9,275.5 677.4,275.7 677.9,275.8 678.4,276 678.9,276.3 679.4,276.2 679.9,276.1 680.4,276.1 680.9,275.9 681.4,276 681.9,276.1 682.4,276.4 682.9,276.6 683.4,276.7 683.9,276.8 684.4,276.6 684.9,276.4 685.4,276.3 685.9,276.2 686.4,276.3 686.9,276.3 687.4,275.7 687.9,275.4 688.4,274.8 688.9,274.2 689.4,274.3 689.9,274.3 690.4,274.6 690.9,275.3 691.4,275.6 691.9,275.7 692.4,276 692.9,276.1 693.4,276.1 693.9,276.2 694.4,276 694.9,276.2 695.4,276.4 695.9,273.8 696.4,262 696.9,235.1 697.4,195.5 697.9,159.2 698.4,148.7 698.9,170.8 699.4,203.3 699.9,238.7 700.4,259.5 700.9,268.4 701.4,271.1 701.9,271.9 702.4,271.7 702.9,271.7 703.4,271.7 703.9,271.7 704.4,272.1 704.9,271.9 705.4,271.9 705.9,271.6 706.4,270.9 706.9,270.5 707.4,269.9 707.9,269.2 708.4,268.6 708.9,267.8 709.4,266.6 709.9,265.9 710.4,264.6 710.9,263.2 711.4,261.8 711.9,260.2 712.4,259 712.9,257.7 713.4,256.5 713.9,255.5 714.4,254.6 714.9,254 715.4,253.6 715.9,253.6 716.4,253.9 716.9,254.7 717.4,256 717.9,257.8 718.4,259.8 718.9,262.1 719.4,264.3 719.9,266.3 720.4,268 720.9,269.7 721.4,271.1 721.9,272.5 722.4,273.4 722.9,274.1 723.4,274.6 723.9,275 724.4,275.5 724.9,275.7 725.4,275.6 725.9,275.5 726.4,275.5 726.9,275.5 727.4,275.7 727.9,275.6 728.4,275.3 728.9,275.2 729.4,275.2 729.9,275.2 730.4,275.3 730.9,275.3 731.4,275.1 731.9,274.9 732.4,275 732.9,274.8 733.4,274.7 733.9,274.6 734.4,274.5 734.9,274.4 735.4,274.5 735.9,274.7 736.4,274.7 736.9,275.1 737.4,275.2 737.9,275.4 738.4,275.5 738.9,275.5 739.4,275.6 739.9,275.4 740.4,275.6 740.9,275.6 741.4,275.6 741.9,276 742.4,276 742.9,276 743.4,276.1 743.9,275.8 744.4,275.5 744.9,275.6 745.4,275.5 745.9,275.6 746.4,275.9 746.9,276.1 747.4,276 747.9,276.1 748.4,276.6 748.9,276.4 749.4,276.6 749.9,276.3 750.4,275.8 750.9,275.3 751.4,274.8 751.9,274.4 752.4,274.4 752.9,274.4 753.4,274.6 753.9,275.1 754.4,275.5 754.9,276 755.4,276.2 755.9,276.3 756.4,276.2 756.9,276.1 757.4,276.3 757.9,276.5 758.4,277 758.9,276.8 759.4,272.3 759.9,257.5 760.4,229.5 760.9,194.8 761.4,171.1 761.9,173.8 762.4,200.2 762.9,227.1 763.4,252.2 763.9,264.9 764.4,269.9 764.9,271.4 765.4,272 765.9,272.2 766.4,272.2 766.9,272.2 767.4,272.3 767.9,272.1 768.4,271.8 768.9,271.7 769.4,271 769.9,270.6 770.4,270.3 770.9,269.7 771.4,269 771.9,268.2 772.4,267.2 772.9,265.8 773.4,264.7 773.9,263.3 774.4,261.9 774.9,260.4 775.4,258.7 775.9,257 776.4,255.5 776.9,254.2 777.4,253.2 777.9,252.5 778.4,251.8 778.9,251.6 779.4,252 779.9,252.7 780.4,254 780.9,255.8 781.4,257.6 781.9,259.6 782.4,262.1 782.9,264.1 783.4,266 783.9,268.1 784.4,269.5 784.9,271.2 785.4,272.7 785.9,273.5 786.4,274.4 786.9,274.9 787.4,275 787.9,275.5 788.4,275.8 788.9,275.9 789.4,275.9 789.9,275.6 790.4,275.4 790.9,275.4 791.4,275.4 791.9,275.3 792.4,275.5 792.9,275.3 793.4,275.2 793.9,275.1 794.4,274.8 794.9,274.6 795.4,274.5 795.9,274.6 796.4,274.6 796.9,274.8 797.4,274.8 797.9,274.9 798.4,274.7 798.9,274.7 799.4,274.7 799.9,274.8 800.4,275.2 800.9,275.3 801.4,275.3 801.9,275.4 802.4,275.4 802.9,275.6 803.4,275.7 803.9,275.6 804.4,275.9 804.9,275.9 805.4,276 805.9,276.1 806.4,276.1 806.9,276.4 807.4,276.3 807.9,276.4 808.4,276.5 808.9,276.2 809.4,276.5 809.9,276.3 810.4,276.2 810.9,276.2 811.4,276 811.9,276.2 812.4,276.5 812.9,276.4 813.4,276.4 813.9,276.4 814.4,276 814.9,276.2 815.4,276.2 815.9,276.1" fill="none" stroke="#d44a4a" stroke-width="1.0" stroke-linejoin="round" />
<polyline points="410.4,407.7 410.9,407.2 411.4,406.8 411.9,406.5 412.4,406.7 412.9,407 413.4,407 413.9,407.2 414.4,407.4 414.9,407.3 415.4,407.6 415.9,407.4 416.4,407.4 416.9,407.3 417.4,407.3 417.9,407.2 418.4,407.2 418.9,407.3 419.4,407.2 419.9,407.5 420.4,407.5 420.9,407.4 421.4,407.3 421.9,407.1 422.4,407.2 422.9,407.1 423.4,407.2 423.9,407.2 424.4,407.1 424.9,407.3 425.4,407.3 425.9,407.2 426.4,407.1 426.9,406.9 427.4,406.4 427.9,406.1 428.4,405.6 428.9,405.4 429.4,405.5 429.9,405.8 430.4,406.2 430.9,406.4 431.4,406.6 431.9,407.1 432.4,407.1 432.9,407.5 433.4,407.8 433.9,407.5 434.4,408.1 434.9,408 435.4,406.5 435.9,399.6 436.4,382.1 436.9,354 437.4,325.4 437.9,312.7 438.4,324.3 438.9,345 439.4,373.2 439.9,390.9 440.4,399.1 440.9,402 441.4,403.1 441.9,403.2 442.4,403.4 442.9,403.4 443.4,403 443.9,403.2 444.4,403.1 444.9,402.9 445.4,402.9 445.9,402.5 446.4,402.1 446.9,401.8 447.4,401 447.9,400.5 448.4,400 448.9,399.1 449.4,398.2 449.9,397.2 450.4,396 450.9,394.7 451.4,393.7 451.9,392.5 452.4,391.6 452.9,390.5 453.4,389.6 453.9,389.2 454.4,388.6 454.9,388.1 455.4,387.7 455.9,387.8 456.4,388.2 456.9,389.6 457.4,391.2 457.9,392.7 458.4,394.7 458.9,396.5 459.4,398.3 459.9,400.1 460.4,401.4 460.9,402.9 461.4,403.9 461.9,404.6 462.4,405.2 462.9,405.7 463.4,406 463.9,406.2 464.4,406.6 464.9,406.6 465.4,406.5 465.9,406.8 466.4,406.8 466.9,406.7 467.4,406.9 467.9,407 468.4,406.7 468.9,406.4 469.4,406.1 469.9,405.8 470.4,405.8 470.9,405.9 471.4,406.1 471.9,406.1 472.4,406.1 472.9,406.1 473.4,406.1 473.9,406.2 474.4,406.2 474.9,406.3 475.4,406.1 475.9,406 476.4,406.3 476.9,406.2 477.4,406.5 477.9,406.6 478.4,406.5 478.9,406.4 479.4,406.4 479.9,406.6 480.4,406.7 480.9,407.1 481.4,407.3 481.9,407.3 482.4,407.5 482.9,407.5 483.4,407.4 483.9,407.5 484.4,407.4 484.9,407.5 485.4,407.6 485.9,407.6 486.4,407.7 486.9,407.7 487.4,407.6 487.9,407.7 488.4,407.5 488.9,407.4 489.4,407.1 489.9,406.9 490.4,406.6 490.9,406.5 491.4,406.5 491.9,406 492.4,405.8 492.9,405.3 493.4,405.2 493.9,405.5 494.4,405.7 494.9,406 495.4,406.4 495.9,406.7 496.4,406.6 496.9,406.7 497.4,406.9 497.9,407.1 498.4,407.4 498.9,407.8 499.4,408 499.9,406.2 500.4,397.8 500.9,377.2 501.4,344.3 501.9,311.1 502.4,296.7 502.9,310.6 503.4,336.3 503.9,368.7 504.4,389.4 504.9,398.8 505.4,401.8 505.9,403.2 506.4,403.3 506.9,403.5 507.4,403.9 507.9,403.7 508.4,403.7 508.9,403.4 509.4,403.1 509.9,403 510.4,402.9 510.9,402.6 511.4,402.5 511.9,401.9 512.4,401.2 512.9,400.5 513.4,399.3 513.9,398.7 514.4,397.8 514.9,397.1 515.4,396.3 515.9,395 516.4,394 516.9,392.8 517.4,391.9 517.9,391.1 518.4,390.7 518.9,390.3 519.4,390 519.9,390.1 520.4,390.4 520.9,390.9 521.4,391.9 521.9,393.2 522.4,394.5 522.9,396.1 523.4,397.8 523.9,399.4 524.4,400.9 524.9,402.5 525.4,403.5 525.9,404.4 526.4,405.3 526.9,405.8 527.4,406.2 527.9,406.5 528.4,406.6 528.9,406.5 529.4,406.7 529.9,406.5 530.4,406.5 530.9,406.7 531.4,406.7 531.9,406.7 532.4,406.8 532.9,406.5 533.4,406.3 533.9,406.3 534.4,406.1 534.9,406 535.4,406 535.9,405.7 536.4,405.9 536.9,406 537.4,406 537.9,405.9 538.4,405.9 538.9,405.9 539.4,405.8 539.9,406.2 540.4,406.2 540.9,406.3 541.4,406.3 541.9,406.4 542.4,406.5 542.9,406.5 543.4,406.9 543.9,406.6 544.4,406.7 544.9,406.9 545.4,406.8 545.9,406.9 546.4,407 546.9,406.9 547.4,407 547.9,407.1 548.4,407.2 548.9,407.2 549.4,407.2 549.9,407.3 550.4,407.3 550.9,407.2 551.4,407.3 551.9,407.5 552.4,407.4 552.9,407.6 553.4,407.5 553.9,407.3 554.4,407 554.9,407.1 555.4,407.2 555.9,407 556.4,407.1 556.9,407.3 557.4,407 557.9,406.8 558.4,406.5 558.9,405.6 559.4,405.2 559.9,405.2 560.4,405.4 560.9,406.1 561.4,406.7 561.9,407.1 562.4,407.3 562.9,407.5 563.4,407.6 563.9,407.7 564.4,407.7 564.9,407.2 565.4,407.4 565.9,407.4 566.4,405.6 566.9,397.4 567.4,376.4 567.9,343 568.4,308.7 568.9,294 569.4,308.4 569.9,334.7 570.4,368.3 570.9,389 571.4,398.3 571.9,401.6 572.4,402.6 572.9,403.4 573.4,403.4 573.9,403.5 574.4,403.4 574.9,403.3 575.4,403.5 575.9,403.3 576.4,403.2 576.9,402.8 577.4,402.4 577.9,401.7 578.4,401.1 578.9,400.7 579.4,400 579.9,399.4 580.4,398.5 580.9,397.5 581.4,396.5 581.9,395.5 582.4,394.3 582.9,393.1 583.4,391.8 583.9,391 584.4,390.1 584.9,389.4 585.4,389.2 585.9,388.9 586.4,389.1 586.9,389.3 587.4,389.7 587.9,390.6 588.4,392.1 588.9,393.7 589.4,395.6 589.9,397.3 590.4,398.9 590.9,400.6 591.4,401.6 591.9,402.9 592.4,404.1 592.9,404.8 593.4,405.6 593.9,406 594.4,406.3 594.9,406.3 595.4,406.3 595.9,406.6 596.4,406.6 596.9,406.6 597.4,406.6 597.9,406.4 598.4,406.2 598.9,406.3 599.4,406.2 599.9,406.2 600.4,406.5 600.9,406.2 601.4,406.3 601.9,406.3 602.4,406 602.9,406 603.4,406 603.9,405.9 604.4,405.8 604.9,405.8 605.4,405.9 605.9,405.9 606.4,406.1 606.9,406.3 607.4,406.2 607.9,406.1 608.4,406.2 608.9,406.3 609.4,406.6 609.9,406.7 610.4,406.7 610.9,406.8 611.4,406.8 611.9,407.1 612.4,407.3 612.9,407.4 613.4,407.3 613.9,407.2 614.4,407.1 614.9,407 615.4,407.2 615.9,407.1 616.4,407.2 616.9,407.1 617.4,407 617.9,407 618.4,407 618.9,407.2 619.4,407.3 619.9,407.3 620.4,407.3 620.9,407.1 621.4,407.1 621.9,407.1 622.4,407.1 622.9,407.2 623.4,407.2 623.9,407.2 624.4,406.8 624.9,406.7 625.4,406.6 625.9,406.1 626.4,405.9 626.9,405.6 627.4,405.7 627.9,406.2 628.4,406.2 628.9,406.5 629.4,406.6 629.9,406.7 630.4,406.9 630.9,407.4 631.4,407.2 631.9,407.3 632.4,407.9 632.9,407.8 633.4,406.1 633.9,397.2 634.4,376.8 634.9,347.1 635.4,320.1 635.9,312.2 636.4,328.6 636.9,351 637.4,377.6 637.9,393.4 638.4,399.9 638.9,402.3 639.4,402.9 639.9,403.2 640.4,403.6 640.9,403.6 641.4,403.6 641.9,403.3 642.4,402.9 642.9,402.6 643.4,402.4 643.9,402.2 644.4,401.8 644.9,401.5 645.4,400.8 645.9,399.9 646.4,399.1 646.9,398.4 647.4,397.5 647.9,396.7 648.4,395.4 648.9,394.2 649.4,392.8 649.9,391.5 650.4,390.6 650.9,389.2 651.4,388.4 651.9,387.8 652.4,387.4 652.9,387.1 653.4,387.1 653.9,387.2 654.4,387.9 654.9,389.5 655.4,391.2 655.9,393 656.4,394.7 656.9,396.4 657.4,398.1 657.9,399.9 658.4,401.6 658.9,402.9 659.4,404 659.9,404.8 660.4,405.6 660.9,406.1 661.4,406.5 661.9,406.8 662.4,406.8 662.9,406.8 663.4,406.8 663.9,406.6 664.4,406.5 664.9,406.6 665.4,406.3 665.9,406.2 666.4,406.4 666.9,406.3 667.4,406.3 667.9,406.1 668.4,405.9 668.9,405.5 669.4,405.3 669.9,405.4 670.4,405.4 670.9,405.4 671.4,405.5 671.9,405.6 672.4,405.6 672.9,405.8 673.4,406 673.9,405.9 674.4,406 674.9,406.1 675.4,406 675.9,406.1 676.4,406.4 676.9,406.6 677.4,406.8 677.9,406.9 678.4,406.9 678.9,406.7 679.4,406.6 679.9,406.8 680.4,407 680.9,407.1 681.4,407 681.9,406.9 682.4,406.8 682.9,406.9 683.4,407.2 683.9,407.6 684.4,407.8 684.9,407.9 685.4,407.8 685.9,407.3 686.4,407.1 686.9,407.2 687.4,407.3 687.9,407.4 688.4,407.3 688.9,407.3 689.4,407.1 689.9,406.6 690.4,406.2 690.9,405.6 691.4,405.4 691.9,405.4 692.4,405.5 692.9,405.9 693.4,406.1 693.9,406.5 694.4,406.8 694.9,406.9 695.4,406.8 695.9,406.6 696.4,406.7 696.9,406.9 697.4,407.5 697.9,407.4 698.4,402.7 698.9,388.2 699.4,360.4 699.9,326.1 700.4,302.7 700.9,305.2 701.4,331.7 701.9,358.3 702.4,383.5 702.9,396.3 703.4,401.2 703.9,403 704.4,403.3 704.9,403.7 705.4,403.9 705.9,403.9 706.4,404 706.9,403.8 707.4,403.6 707.9,403.4 708.4,403 708.9,402.5 709.4,402.1 709.9,401.4 710.4,400.7 710.9,400.1 711.4,399.1 711.9,398.1 712.4,397.4 712.9,396.2 713.4,395.1 713.9,393.7 714.4,392.4 714.9,391.2 715.4,390.1 715.9,389.4 716.4,388.7 716.9,388.2 717.4,387.9 717.9,387.8 718.4,387.9 718.9,388.5 719.4,389.6 719.9,390.6 720.4,392.1 720.9,394 721.4,395.7 721.9,397.7 722.4,399.4 722.9,400.8 723.4,402.2 723.9,403.4 724.4,404.6 724.9,405.4 725.4,405.7 725.9,406 726.4,406 726.9,406.2 727.4,406.5 727.9,406.9 728.4,407 728.9,406.7 729.4,406.4 729.9,406.1 730.4,405.8 730.9,405.9 731.4,405.9 731.9,405.8 732.4,406.1 732.9,406.2 733.4,406.3 733.9,406.5 734.4,406.3 734.9,406.1 735.4,405.9 735.9,405.8 736.4,405.8 736.9,406 737.4,405.9 737.9,405.8 738.4,405.7 738.9,405.5 739.4,405.9 739.9,406 740.4,406.2 740.9,406.4 741.4,406.5 741.9,406.6 742.4,406.9 742.9,406.8 743.4,407 743.9,407.1 744.4,407 744.9,407.3 745.4,407.3 745.9,407.4 746.4,407.4 746.9,407.3 747.4,407.1 747.9,407.1 748.4,406.8 748.9,406.9 749.4,407 749.9,406.9 750.4,407.2 750.9,407.3 751.4,407.4 751.9,407.5 752.4,407.6 752.9,407.5 753.4,407.4 753.9,407.2 754.4,407.1 754.9,407.1 755.4,406.9 755.9,406.9 756.4,407 756.9,407 757.4,407.1 757.9,406.6 758.4,406.6 758.9,405.9 759.4,405.4 759.9,405.4 760.4,405.1 760.9,405.5 761.4,406.1 761.9,406.5 762.4,406.8 762.9,407.1 763.4,407.1 763.9,407.1 764.4,407.3 764.9,407 765.4,407.3 765.9,407.7 766.4,407.6 766.9,403.8 767.4,390.3 767.9,363 768.4,326 768.9,296.6 769.4,293.4 769.9,318.2 770.4,348 770.9,377.6 771.4,393.8 771.9,400.2 772.4,402.2 772.9,403.1 773.4,403.4 773.9,403.5 774.4,403.5 774.9,403.5 775.4,403.2 775.9,403.3 776.4,403.1 776.9,402.8 777.4,402.6 777.9,402.2 778.4,401.8 778.9,401.5 779.4,400.9 779.9,400 780.4,399.1 780.9,398.2 781.4,397.4 781.9,396.6 782.4,395.7 782.9,394.5 783.4,393.6 783.9,392.4 784.4,391.4 784.9,391 785.4,390.2 785.9,390 786.4,390.1 786.9,390 787.4,390.4 787.9,391.1 788.4,392.2 788.9,393.4 789.4,394.8 789.9,396.6 790.4,398.3 790.9,400.1 791.4,401.8 791.9,403 792.4,404.2 792.9,404.7 793.4,405.3 793.9,405.9 794.4,406.2 794.9,406.6 795.4,406.8 795.9,406.8 796.4,406.8 796.9,406.9 797.4,406.8 797.9,406.8 798.4,406.6 798.9,406.5 799.4,406.3 799.9,406.4 800.4,406.2 800.9,406.1 801.4,406 801.9,405.8 802.4,405.7 802.9,405.7 803.4,405.9 803.9,405.9 804.4,406 804.9,406.1 805.4,405.9 805.9,405.9 806.4,406.1 806.9,406 807.4,406.2 807.9,406.4 808.4,406.4 808.9,406.6 809.4,406.8 809.9,406.7 810.4,406.7 810.9,406.6 811.4,406.4 811.9,406.7 812.4,407.1 812.9,407.2 813.4,407.1 813.9,407 814.4,406.9 814.9,406.8 815.4,407 815.9,407" fill="none" stroke="#4a4a4a" stroke-width="1.0" stroke-linejoin="round" />
<polyline points="616.3,155.6 542.9,155.6 542.9,279.7 616.3,279.7 616.3,155.6" fill="none" stroke="#b450e0" stroke-width="2.4" stroke-linejoin="round" stroke-dasharray="2.4 9"/>
<line x1="499.8" y1="147.8" x2="542.9" y2="155.6" stroke="#b450e0" stroke-width="2.4" stroke-dasharray="2.4 9"/>
<line x1="666.4" y1="147.8" x2="616.3" y2="155.6" stroke="#b450e0" stroke-width="2.4" stroke-dasharray="2.4 9"/>
<rect x="499.6" y="38.6" width="166.9" height="108.4" fill="#fff" stroke="#c465e2" stroke-width="1.3" />
<polyline points="503.3,128.8 503.8,129.1 504.3,129.1 504.8,129.1 505.3,129.2 505.8,129.3 506.3,129.2 506.8,129.3 507.3,129.2 507.8,129.2 508.3,129.3 508.8,129.2 509.3,129 509.8,129 510.3,128.9 510.8,129.1 511.3,129.3 511.8,129.3 512.3,129.4 512.8,129.2 513.3,129.1 513.8,129 514.3,129 514.8,129.1 515.3,129.1 515.8,129.1 516.3,129.1 516.8,129.1 517.3,129.1 517.8,129.2 518.3,129.1 518.8,129.1 519.3,128.9 519.8,129 520.3,128.8 520.8,128.9 521.3,129 521.8,129 522.3,129.1 522.8,129.1 523.3,128.9 523.8,128.8 524.3,128.8 524.8,128.9 525.3,129 525.8,129 526.3,129 526.8,129.1 527.3,129.1 527.8,129.3 528.3,129.2 528.8,129.1 529.3,128.9 529.8,128.8 530.3,128.8 530.8,128.9 531.3,129 531.8,129.1 532.3,129.1 532.8,129 533.3,129.1 533.8,128.9 534.3,128.8 534.8,129 535.3,128.8 535.8,128.9 536.3,128.6 536.8,128 537.3,127.9 537.8,127.6 538.3,127.7 538.8,127.6 539.3,127.5 539.8,127.4 540.3,127.4 540.8,127.4 541.3,127.5 541.8,127.6 542.3,127.7 542.8,128 543.3,128.1 543.8,128.4 544.3,128.6 544.8,128.9 545.3,129.1 545.8,129 546.3,129.1 546.8,129 547.3,129 547.8,129.2 548.3,129 548.8,129.1 549.3,129 549.8,128.9 550.3,128.9 550.8,128.8 551.3,128.7 551.8,128.9 552.3,128.9 552.8,129 553.3,129 553.8,129.1 554.3,129.1 554.8,129.4 555.3,129.1 555.8,127.9 556.3,125.6 556.8,120.8 557.3,113.6 557.8,103.7 558.3,91.2 558.8,77.2 559.3,63.1 559.8,51.3 560.3,43.7 560.8,41.7 561.3,45.7 561.8,54.6 562.3,67 562.8,67.5 563.3,82 563.8,94.3 564.3,103.8 564.8,110.7 565.3,115.2 565.8,118.1 566.3,119.8 566.8,120.8 567.3,121.6 567.8,122 568.3,122.1 568.8,122.2 569.3,122.2 569.8,122.4 570.3,122.5 570.8,122.6 571.3,122.6 571.8,122.6 572.3,122.8 572.8,123.1 573.3,123.1 573.8,123.2 574.3,123.1 574.8,122.9 575.3,123 575.8,122.8 576.3,122.7 576.8,122.6 577.3,122.3 577.8,122.3 578.3,122.1 578.8,121.7 579.3,121.6 579.8,121.5 580.3,121.4 580.8,121.4 581.3,121.2 581.8,120.8 582.3,120.5 582.8,120.2 583.3,120 583.8,119.7 584.3,119.4 584.8,119 585.3,118.8 585.8,118.4 586.3,118.1 586.8,117.5 587.3,117 587.8,116.6 588.3,116.1 588.8,115.8 589.3,115.6 589.8,115.1 590.3,114.8 590.8,114.3 591.3,113.7 591.8,113.4 592.3,113 592.8,112.8 593.3,112.4 593.8,112.1 594.3,111.8 594.8,111.6 595.3,111.4 595.8,111.2 596.3,111 596.8,110.7 597.3,110.6 597.8,110.7 598.3,110.8 598.8,111 599.3,111.3 599.8,111.5 600.3,111.9 600.8,112.4 601.3,113.1 601.8,113.9 602.3,114.8 602.8,115.6 603.3,116.3 603.8,117 604.3,117.7 604.8,118.6 605.3,119.2 605.8,120.2 606.3,121.2 606.8,122 607.3,122.8 607.8,123.5 608.3,124 608.8,124.7 609.3,125.2 609.8,125.7 610.3,126.2 610.8,126.5 611.3,127.1 611.8,127.4 612.3,127.5 612.8,127.7 613.3,127.9 613.8,128.1 614.3,128.3 614.8,128.4 615.3,128.4 615.8,128.5 616.3,128.6 616.8,128.7 617.3,128.8 617.8,128.7 618.3,128.7 618.8,128.8 619.3,128.8 619.8,128.9 620.3,129 620.8,128.9 621.3,129 621.8,128.8 622.3,128.7 622.8,128.7 623.3,128.7 623.8,128.8 624.3,128.8 624.8,128.8 625.3,128.6 625.8,128.5 626.3,128.3 626.8,128.1 627.3,128.1 627.8,127.9 628.3,127.9 628.8,127.9 629.3,127.9 629.8,128 630.3,128.1 630.8,127.9 631.3,128.1 631.8,127.9 632.3,127.9 632.8,128 633.3,127.9 633.8,127.9 634.3,127.7 634.8,127.7 635.3,127.7 635.8,127.7 636.3,127.8 636.8,127.9 637.3,128 637.8,127.9 638.3,128.1 638.8,127.9 639.3,127.9 639.8,128 640.3,128 640.8,128.1 641.3,128.2 641.8,128.4 642.3,128.2 642.8,128.4 643.3,128.2 643.8,128.3 644.3,128.4 644.8,128.5 645.3,128.6 645.8,128.6 646.3,128.7 646.8,128.6 647.3,128.8 647.8,128.7 648.3,128.7 648.8,128.6 649.3,128.5 649.8,128.6 650.3,128.7 650.8,128.7 651.3,128.5 651.8,128.5 652.3,128.5 652.8,128.6 653.3,128.7 653.8,128.7 654.3,128.9 654.8,129 655.3,128.9 655.8,129 656.3,128.9 656.8,128.7 657.3,128.8 657.8,128.8 658.3,128.8 658.8,128.7 659.3,128.8 659.8,129 660.3,129 660.8,129.2 661.3,129.2" fill="none" stroke="#d42020" stroke-width="1.3" stroke-linejoin="round" />
<text x="566" y="58.8" font-size="16.5" text-anchor="start" fill="#000" stroke="#000" >R</text>
<text x="593.3" y="102.6" font-size="16.5" text-anchor="start" fill="#000" stroke="#000" >T</text>
<text x="535.2" y="121.2" font-size="16.5" text-anchor="start" fill="#000" stroke="#000" >P</text>
<text x="552" y="143" font-size="16.5" text-anchor="start" fill="#000" stroke="#000" >Q</text>
<text x="570.8" y="143" font-size="16.5" text-anchor="start" fill="#000" stroke="#000" >S</text>
</g>
<!-- panel_d -->
<g>
<text transform="translate(38.6 506.5) scale(0.99 1)" font-size="29.2" text-anchor="start" fill="#000" stroke="#000" >D</text>
<line x1="33" y1="525.9" x2="33" y2="723.1" stroke="#111" stroke-width="1.8" />
<line x1="32.1" y1="722.2" x2="865.6" y2="722.2" stroke="#111" stroke-width="1.8" />
<line x1="25.5" y1="526.8" x2="33" y2="526.8" stroke="#111" stroke-width="1.5" />
<line x1="29.5" y1="565.8" x2="33" y2="565.8" stroke="#111" stroke-width="1.5" />
<line x1="25.5" y1="604.8" x2="33" y2="604.8" stroke="#111" stroke-width="1.5" />
<line x1="29.5" y1="643.8" x2="33" y2="643.8" stroke="#111" stroke-width="1.5" />
<line x1="25.5" y1="682.8" x2="33" y2="682.8" stroke="#111" stroke-width="1.5" />
<line x1="29.5" y1="722.2" x2="33" y2="722.2" stroke="#111" stroke-width="1.5" />
<line x1="33" y1="722.2" x2="33" y2="727.7" stroke="#111" stroke-width="1.5" />
<text transform="translate(33 747) scale(1.03 1)" font-size="16.3" text-anchor="middle" fill="#000" stroke="#000" >0</text>
<line x1="125.5" y1="722.2" x2="125.5" y2="725.4" stroke="#111" stroke-width="1.5" />
<line x1="217.9" y1="722.2" x2="217.9" y2="727.7" stroke="#111" stroke-width="1.5" />
<text transform="translate(217.9 747) scale(1.03 1)" font-size="16.3" text-anchor="middle" fill="#000" stroke="#000" >200</text>
<line x1="310.4" y1="722.2" x2="310.4" y2="725.4" stroke="#111" stroke-width="1.5" />
<line x1="402.8" y1="722.2" x2="402.8" y2="727.7" stroke="#111" stroke-width="1.5" />
<text transform="translate(402.8 747) scale(1.03 1)" font-size="16.3" text-anchor="middle" fill="#000" stroke="#000" >400</text>
<line x1="495.2" y1="722.2" x2="495.2" y2="725.4" stroke="#111" stroke-width="1.5" />
<line x1="587.7" y1="722.2" x2="587.7" y2="727.7" stroke="#111" stroke-width="1.5" />
<text transform="translate(587.7 747) scale(1.03 1)" font-size="16.3" text-anchor="middle" fill="#000" stroke="#000" >600</text>
<line x1="680.1" y1="722.2" x2="680.1" y2="725.4" stroke="#111" stroke-width="1.5" />
<line x1="772.6" y1="722.2" x2="772.6" y2="727.7" stroke="#111" stroke-width="1.5" />
<text transform="translate(772.6 747) scale(1.03 1)" font-size="16.3" text-anchor="middle" fill="#000" stroke="#000" >800</text>
<line x1="865" y1="722.2" x2="865" y2="725.4" stroke="#111" stroke-width="1.5" />
<text x="449.3" y="759.6" font-size="17" text-anchor="middle" fill="#000" stroke="#000" >Time (s)</text>
<text transform="translate(13.6 623.5) rotate(-90)" font-size="17.2" text-anchor="middle" fill="#000" stroke="#000" >ECG (mV)</text>
<polygon points="33.6,674.4 34.1,675.2 34.6,675.1 35.1,673.8 35.6,675.4 36.1,675.2 36.6,675.1 37.1,675.2 37.6,675.1 38.1,674.8 38.6,674.9 39.1,675.1 39.6,675 40.1,675.1 40.6,674.6 41.1,674.7 41.6,675 42.1,674.5 42.6,675.4 43.1,675 43.6,674.7 44.1,675.2 44.6,675 45.1,674.5 45.6,675 46.1,675.4 46.6,675 47.1,675 47.6,675.3 48.1,675.1 48.6,675.3 49.1,675.1 49.6,675.3 50.1,675.2 50.6,675.3 51.1,675.4 51.6,675.2 52.1,674.6 52.6,674.5 53.1,674.6 53.6,675.3 54.1,674.7 54.6,675.3 55.1,675.3 55.6,674.8 56.1,674.8 56.6,675.3 57.1,675.3 57.6,674.4 58.1,674.7 58.6,675 59.1,675 59.6,674.7 60.1,675.1 60.6,675.2 61.1,675.3 61.6,674.7 62.1,674.9 62.6,675.3 63.1,675.2 63.6,674.5 64.1,674.6 64.6,674.9 65.1,675.4 65.6,674.1 66.1,674.9 66.6,675.1 67.1,674.5 67.6,674.8 68.1,675.1 68.6,675.1 69.1,675.1 69.6,675 70.1,675.2 70.6,674.6 71.1,674.8 71.6,675 72.1,675 72.6,675 73.1,674.3 73.6,675 74.1,674.3 74.6,674.9 75.1,674.3 75.6,674.8 76.1,675 76.6,675.1 77.1,674.9 77.6,674.9 78.1,675.3 78.6,675.1 79.1,675.2 79.6,674.6 80.1,674.8 80.6,675.4 81.1,675.2 81.6,674.9 82.1,674.6 82.6,674.7 83.1,675.1 83.6,674.9 84.1,675.4 84.6,674.4 85.1,675 85.6,674.9 86.1,675.4 86.6,675.4 87.1,674.3 87.6,674.1 88.1,675.4 88.6,674.2 89.1,674.2 89.6,674.2 90.1,674.9 90.6,675.2 91.1,675.1 91.6,675.1 92.1,675.3 92.6,675 93.1,675.3 93.6,674.5 94.1,675.3 94.6,675.3 95.1,674.3 95.6,674.7 96.1,675.4 96.6,675.1 97.1,675.3 97.6,674.4 98.1,675.2 98.6,675.1 99.1,675.3 99.6,674.9 100.1,674.8 100.6,675.2 101.1,674.5 101.6,674.9 102.1,675.4 102.6,675.1 103.1,675.3 103.6,674.5 104.1,674.8 104.6,675.2 105.1,675.3 105.6,674.6 106.1,675 106.6,675.1 107.1,675.2 107.6,675.1 108.1,675.1 108.6,674.8 109.1,675 109.6,675.1 110.1,674.9 110.6,674.7 111.1,674.9 111.6,675.1 112.1,675.2 112.6,674.7 113.1,674.8 113.6,675.4 114.1,675.2 114.6,675.3 115.1,675 115.6,675 116.1,674.3 116.6,674.5 117.1,674.4 117.6,675.4 118.1,674.8 118.6,675.2 119.1,674.8 119.6,675.2 120.1,675.1 120.6,675 121.1,675 121.6,675.2 122.1,675.3 122.6,674.7 123.1,675.3 123.6,674.5 124.1,674.5 124.6,675.3 125.1,675.3 125.6,675.3 126.1,674.4 126.6,674.6 127.1,675.4 127.6,674.5 128.1,674.7 128.6,675 129.1,675.4 129.6,674.4 130.1,674.4 130.6,675.2 131.1,675.4 131.6,675.2 132.1,674.5 132.6,675.3 133.1,675.2 133.6,674.4 134.1,674.4 134.6,674.4 135.1,675.2 135.6,674.7 136.1,674.6 136.6,674.8 137.1,674.6 137.6,674.6 138.1,674.7 138.6,675.3 139.1,674.6 139.6,674.5 140.1,675.4 140.6,674.2 141.1,675.4 141.6,675.2 142.1,675.2 142.6,675.3 143.1,674.3 143.6,675.2 144.1,674.2 144.6,675 145.1,675.2 145.6,675.2 146.1,674.5 146.6,674 147.1,675.2 147.6,675 148.1,675.2 148.6,675 149.1,674.7 149.6,675 150.1,675.1 150.6,674.8 151.1,675 151.6,675.3 152.1,675 152.6,674.8 153.1,675.3 153.6,674.6 154.1,674.7 154.6,675.4 155.1,675.3 155.6,674.8 156.1,674.9 156.6,674.9 157.1,675.2 157.6,674.9 158.1,675.4 158.6,675.3 159.1,675.1 159.6,675.3 160.1,674.5 160.6,674.4 161.1,674.9 161.6,675.3 162.1,675.2 162.6,675.2 163.1,674.5 163.6,675 164.1,674.6 164.6,674.3 165.1,675.1 165.6,675.3 166.1,675.4 166.6,674.8 167.1,675.3 167.6,675 168.1,674.7 168.6,674.7 169.1,675.1 169.6,674.9 170.1,674.5 170.6,674.7 171.1,675.1 171.6,674.8 172.1,675.1 172.6,675.1 173.1,674.4 173.6,675.2 174.1,674.9 174.6,675.2 175.1,675 175.6,675.3 176.1,675.1 176.6,675.1 177.1,675.4 177.6,675.4 178.1,674.3 178.6,675.3 179.1,674.4 179.6,674.9 180.1,675 180.6,675.3 181.1,675 181.6,673.8 182.1,674.4 182.6,674.7 183.1,674.8 183.6,675.3 184.1,675.4 184.6,675.2 185.1,675.2 185.6,674.5 186.1,674.9 186.6,674.9 187.1,675.3 187.6,675.1 188.1,674.7 188.6,675.3 189.1,675.2 189.6,675.3 190.1,674.3 190.6,674.9 191.1,674.8 191.6,674.7 192.1,675.3 192.6,675.2 193.1,674.4 193.6,674.5 194.1,674.3 194.6,675.3 195.1,674.8 195.6,675.1 196.1,675.3 196.6,674.8 197.1,675.2 197.6,674.9 198.1,675.2 198.6,673.9 199.1,674.7 199.6,674.9 200.1,675.1 200.6,674.8 201.1,674.4 201.6,675.3 202.1,674.6 202.6,675.2 203.1,674.4 203.6,674.7 204.1,675 204.6,674.6 205.1,675.1 205.6,674.4 206.1,674.4 206.6,674.9 207.1,675.3 207.6,675.3 208.1,674.6 208.6,674.7 209.1,675.4 209.6,674.6 210.1,675.2 210.6,674.7 211.1,675.1 211.6,674.6 212.1,674.6 212.6,675.1 213.1,675 213.6,674.8 214.1,674.9 214.6,674.5 215.1,674.1 215.6,675.3 216.1,675.4 216.6,675.4 217.1,675.3 217.6,674.8 218.1,675.2 218.6,674.6 219.1,674.6 219.6,673.9 220.1,675.1 220.6,675.2 221.1,675 221.6,674.4 222.1,675 222.6,675.3 223.1,675.1 223.6,674.7 224.1,674.8 224.6,674.9 225.1,674.6 225.6,675.2 226.1,674.4 226.6,674.7 227.1,675.2 227.6,675.2 228.1,674.9 228.6,674.5 229.1,675.2 229.6,675.2 230.1,675 230.6,675.3 231.1,675 231.6,674.6 232.1,675.2 232.6,675.1 233.1,675.1 233.6,674.7 234.1,675 234.6,675.4 235.1,675 235.6,675.2 236.1,674.8 236.6,675 237.1,675.4 237.6,675.1 238.1,675.1 238.6,674.9 239.1,674.9 239.6,674.7 240.1,675.3 240.6,675.3 241.1,674.3 241.6,675.4 242.1,673.3 242.6,674.6 243.1,675.3 243.6,675.4 244.1,674.5 244.6,674.7 245.1,675 245.6,675.3 246.1,675.1 246.6,674.6 247.1,675 247.6,674.3 248.1,674.8 248.6,674.7 249.1,674.9 249.6,674.2 250.1,674.2 250.6,675 251.1,675 251.6,675.1 252.1,675.2 252.6,674.5 253.1,674.3 253.6,674.6 254.1,675.3 254.6,675.2 255.1,674.8 255.6,674.9 256.1,674.7 256.6,674.6 257.1,675.2 257.6,675.4 258.1,675.3 258.6,675.4 259.1,674.8 259.6,675.1 260.1,675.2 260.6,674.1 261.1,674.9 261.6,674.4 262.1,675.4 262.6,674.8 263.1,674.4 263.6,675.2 264.1,674.5 264.6,675.2 265.1,675.1 265.6,674.6 266.1,674.9 266.6,675 267.1,673.9 267.6,675.4 268.1,675.3 268.6,675.2 269.1,675.2 269.6,675.3 270.1,674.6 270.6,675 271.1,674.4 271.6,675.2 272.1,675.2 272.6,674.6 273.1,675.4 273.6,675.4 274.1,675 274.6,674.9 275.1,675 275.6,675.3 276.1,674.9 276.6,675.3 277.1,674.7 277.6,675.3 278.1,675.1 278.6,675.1 279.1,675.3 279.6,674.7 280.1,675.2 280.6,675.4 281.1,675.1 281.6,675 282.1,674.7 282.6,675.3 283.1,675.2 283.6,674.7 284.1,675.1 284.6,674.8 285.1,674.6 285.6,675.4 286.1,674.8 286.6,675.2 287.1,674.7 287.6,674.2 288.1,675.4 288.6,675.3 289.1,675.3 289.6,674.5 290.1,675 290.6,674 291.1,674.8 291.6,675.2 292.1,674.8 292.6,675.2 293.1,674.7 293.6,675.1 294.1,675.1 294.6,675 295.1,675.2 295.6,675.2 296.1,675.1 296.6,674.5 297.1,674.2 297.6,675.2 298.1,675 298.6,675 299.1,675.1 299.6,675.2 300.1,675.3 300.6,675.3 301.1,675.1 301.6,675 302.1,674.7 302.6,675.2 303.1,674.6 303.6,674.8 304.1,674.8 304.6,674.2 305.1,675.3 305.6,674 306.1,675.3 306.6,674.4 307.1,675.4 307.6,674.7 308.1,675.2 308.6,674.2 309.1,675.1 309.6,675.1 310.1,674.8 310.1,684.2 309.6,683.7 309.1,683.8 308.6,684 308.1,683.9 307.6,683.6 307.1,684 306.6,683.6 306.1,683.6 305.6,684 305.1,683.8 304.6,683.8 304.1,683.7 303.6,684.3 303.1,683.8 302.6,684.1 302.1,683.9 301.6,683.9 301.1,683.7 300.6,683.6 300.1,683.9 299.6,683.8 299.1,683.7 298.6,683.8 298.1,684.1 297.6,684 297.1,683.8 296.6,683.8 296.1,684 295.6,684.2 295.1,683.8 294.6,684.1 294.1,684.1 293.6,683.9 293.1,683.7 292.6,683.9 292.1,683.9 291.6,683.7 291.1,683.6 290.6,683.8 290.1,684.1 289.6,683.7 289.1,683.8 288.6,683.7 288.1,683.9 287.6,683.9 287.1,684.1 286.6,683.9 286.1,683.6 285.6,683.7 285.1,683.8 284.6,684 284.1,683.6 283.6,683.8 283.1,684.3 282.6,683.8 282.1,683.7 281.6,684 281.1,683.8 280.6,684.1 280.1,683.9 279.6,683.7 279.1,683.7 278.6,683.8 278.1,684.3 277.6,684 277.1,684 276.6,683.7 276.1,683.7 275.6,684 275.1,683.7 274.6,683.9 274.1,683.7 273.6,684.2 273.1,684 272.6,683.7 272.1,684 271.6,683.8 271.1,684 270.6,684.3 270.1,683.9 269.6,684 269.1,684 268.6,683.8 268.1,683.9 267.6,683.9 267.1,684.3 266.6,684.4 266.1,684.5 265.6,684.1 265.1,683.8 264.6,684 264.1,683.7 263.6,684.4 263.1,683.8 262.6,683.7 262.1,683.7 261.6,684.4 261.1,684.2 260.6,684.5 260.1,684 259.6,684.5 259.1,684 258.6,684.1 258.1,683.8 257.6,684 257.1,684.1 256.6,683.9 256.1,684 255.6,683.9 255.1,683.7 254.6,683.9 254.1,684.2 253.6,684.3 253.1,684.2 252.6,683.9 252.1,683.6 251.6,683.8 251.1,683.9 250.6,683.8 250.1,683.8 249.6,683.7 249.1,683.7 248.6,684.3 248.1,683.8 247.6,683.8 247.1,684.2 246.6,683.8 246.1,684 245.6,683.8 245.1,684 244.6,684.4 244.1,683.6 243.6,683.8 243.1,683.7 242.6,683.6 242.1,684.4 241.6,684.1 241.1,683.6 240.6,683.7 240.1,683.8 239.6,684 239.1,683.8 238.6,684 238.1,683.8 237.6,683.9 237.1,683.8 236.6,683.8 236.1,684.3 235.6,683.7 235.1,683.9 234.6,683.7 234.1,683.9 233.6,683.6 233.1,683.9 232.6,684.3 232.1,683.9 231.6,683.8 231.1,683.7 230.6,683.9 230.1,683.6 229.6,684 229.1,683.6 228.6,683.7 228.1,683.7 227.6,683.9 227.1,684.2 226.6,683.7 226.1,683.9 225.6,683.9 225.1,684.5 224.6,684.1 224.1,683.8 223.6,683.8 223.1,684 222.6,683.8 222.1,683.9 221.6,683.8 221.1,684 220.6,684.2 220.1,684.2 219.6,684 219.1,683.9 218.6,683.8 218.1,684 217.6,684.4 217.1,684 216.6,683.7 216.1,683.7 215.6,683.9 215.1,683.7 214.6,683.8 214.1,684.3 213.6,684.4 213.1,683.6 212.6,683.9 212.1,683.6 211.6,684.3 211.1,683.8 210.6,684.5 210.1,684.3 209.6,684.1 209.1,683.7 208.6,684 208.1,683.8 207.6,684 207.1,683.7 206.6,683.6 206.1,683.8 205.6,684.1 205.1,683.6 204.6,684.5 204.1,683.8 203.6,683.9 203.1,684 202.6,684.5 202.1,683.9 201.6,683.9 201.1,683.7 200.6,684.4 200.1,684 199.6,683.7 199.1,684.2 198.6,683.8 198.1,684.2 197.6,684 197.1,683.9 196.6,684.5 196.1,683.7 195.6,683.8 195.1,683.6 194.6,683.7 194.1,683.9 193.6,684.3 193.1,683.8 192.6,683.7 192.1,683.6 191.6,683.8 191.1,683.6 190.6,684.1 190.1,684.3 189.6,683.7 189.1,684.1 188.6,684.4 188.1,683.6 187.6,683.7 187.1,683.9 186.6,683.7 186.1,684.1 185.6,683.9 185.1,683.9 184.6,683.6 184.1,683.7 183.6,683.8 183.1,684.3 182.6,683.9 182.1,684.1 181.6,683.9 181.1,683.9 180.6,684.2 180.1,683.9 179.6,683.7 179.1,683.8 178.6,683.9 178.1,684 177.6,684.1 177.1,684 176.6,683.7 176.1,683.6 175.6,683.8 175.1,683.7 174.6,684.6 174.1,684.2 173.6,683.9 173.1,683.7 172.6,684 172.1,684.2 171.6,683.7 171.1,683.9 170.6,684 170.1,683.6 169.6,683.7 169.1,683.7 168.6,684.7 168.1,683.8 167.6,684.6 167.1,683.9 166.6,683.8 166.1,684.3 165.6,683.8 165.1,683.8 164.6,684 164.1,683.7 163.6,684 163.1,684.3 162.6,684 162.1,683.7 161.6,684.2 161.1,684.5 160.6,684 160.1,684.1 159.6,683.9 159.1,683.9 158.6,684.3 158.1,683.8 157.6,684.1 157.1,683.9 156.6,683.7 156.1,684.4 155.6,683.6 155.1,683.9 154.6,683.9 154.1,683.7 153.6,683.8 153.1,683.8 152.6,684 152.1,684.2 151.6,683.9 151.1,683.8 150.6,683.8 150.1,684.2 149.6,684.2 149.1,683.7 148.6,683.7 148.1,684 147.6,683.9 147.1,683.8 146.6,683.7 146.1,684.3 145.6,684 145.1,684.5 144.6,684 144.1,684.1 143.6,684.1 143.1,684.3 142.6,683.7 142.1,683.9 141.6,683.7 141.1,684.1 140.6,683.9 140.1,684.7 139.6,684.5 139.1,684.2 138.6,683.8 138.1,684 137.6,683.7 137.1,684.3 136.6,683.8 136.1,683.8 135.6,683.9 135.1,684.7 134.6,683.8 134.1,683.8 133.6,684.1 133.1,684.1 132.6,683.9 132.1,684.1 131.6,684.3 131.1,683.6 130.6,683.7 130.1,683.8 129.6,683.8 129.1,684.2 128.6,684 128.1,683.9 127.6,684.1 127.1,683.7 126.6,684 126.1,684.4 125.6,683.7 125.1,684.1 124.6,683.8 124.1,683.8 123.6,684.2 123.1,683.9 122.6,683.9 122.1,684 121.6,684.1 121.1,684.1 120.6,683.9 120.1,683.8 119.6,683.8 119.1,683.6 118.6,684.1 118.1,684.1 117.6,684.2 117.1,683.9 116.6,684.2 116.1,683.9 115.6,683.8 115.1,684 114.6,683.7 114.1,684.3 113.6,683.7 113.1,684.1 112.6,684.1 112.1,683.7 111.6,684.1 111.1,684 110.6,684.1 110.1,683.7 109.6,683.8 109.1,683.7 108.6,683.9 108.1,684.9 107.6,683.8 107.1,683.8 106.6,684.4 106.1,683.8 105.6,684.5 105.1,684 104.6,683.6 104.1,683.6 103.6,683.7 103.1,683.9 102.6,683.7 102.1,683.7 101.6,684.5 101.1,684.1 100.6,684.5 100.1,683.8 99.6,683.7 99.1,683.8 98.6,683.6 98.1,683.7 97.6,683.9 97.1,683.7 96.6,683.9 96.1,683.6 95.6,684 95.1,683.7 94.6,684 94.1,683.7 93.6,683.8 93.1,683.7 92.6,683.8 92.1,683.8 91.6,683.7 91.1,684.1 90.6,683.8 90.1,683.9 89.6,684.3 89.1,683.8 88.6,684.2 88.1,683.9 87.6,683.9 87.1,683.9 86.6,684 86.1,684.1 85.6,684.2 85.1,683.7 84.6,684 84.1,683.7 83.6,683.7 83.1,684.1 82.6,684 82.1,684.3 81.6,684.2 81.1,683.8 80.6,683.6 80.1,684.1 79.6,683.9 79.1,684.2 78.6,683.7 78.1,683.8 77.6,683.8 77.1,683.6 76.6,684.1 76.1,683.8 75.6,683.9 75.1,684.1 74.6,684.6 74.1,684.2 73.6,684.1 73.1,684.5 72.6,684.1 72.1,683.9 71.6,683.9 71.1,683.9 70.6,683.8 70.1,684.1 69.6,684 69.1,683.7 68.6,683.9 68.1,683.7 67.6,684.2 67.1,683.9 66.6,683.9 66.1,683.9 65.6,683.9 65.1,683.8 64.6,683.9 64.1,683.7 63.6,684.2 63.1,683.6 62.6,683.9 62.1,683.8 61.6,683.6 61.1,683.6 60.6,683.9 60.1,683.9 59.6,683.7 59.1,683.6 58.6,683.8 58.1,683.7 57.6,683.9 57.1,684 56.6,683.6 56.1,683.7 55.6,683.7 55.1,683.7 54.6,683.9 54.1,684.4 53.6,683.8 53.1,684.4 52.6,683.9 52.1,683.9 51.6,683.7 51.1,683.8 50.6,684.1 50.1,683.7 49.6,683.8 49.1,684.1 48.6,683.7 48.1,683.8 47.6,683.9 47.1,683.7 46.6,683.8 46.1,683.8 45.6,684 45.1,683.8 44.6,684.5 44.1,683.8 43.6,683.7 43.1,684.2 42.6,684.1 42.1,684.5 41.6,683.9 41.1,683.6 40.6,683.7 40.1,683.8 39.6,684.5 39.1,683.8 38.6,683.8 38.1,683.7 37.6,684.5 37.1,683.6 36.6,683.9 36.1,684.1 35.6,684.1 35.1,683.8 34.6,683.7 34.1,683.8 33.6,683.9" fill="#4b4b4b" stroke="none" stroke-width="1" />
<polygon points="310.3,673.4 310.8,673.1 311.3,673.9 311.8,671.2 312.3,672.9 312.8,671.6 313.3,674.3 313.8,674.1 314.3,672.9 314.8,669.2 315.3,673.2 315.8,673.5 316.3,672.4 316.8,672.1 317.3,671.9 317.8,674.1 318.3,672.5 318.8,672.7 319.3,672.5 319.8,672.2 320.3,673.4 320.8,674.1 321.3,673.2 321.8,673.4 322.3,672.3 322.8,670.4 323.3,671.4 323.8,671.2 324.3,670.4 324.8,673.2 325.3,673.4 325.8,674.2 326.3,673.9 326.8,673.6 327.3,673.9 327.8,674.2 328.3,672.6 328.8,673.1 329.3,674.2 329.8,673.1 330.3,673.3 330.8,674.1 331.3,672 331.8,673.8 332.3,673.7 332.8,673.3 333.3,674.1 333.8,670.5 334.3,668.9 334.8,673.4 335.3,673.9 335.8,672.8 336.3,672.3 336.8,670.7 337.3,672.6 337.8,674.2 338.3,674 338.8,673.1 339.3,674.2 339.8,674.1 340.3,672.7 340.8,673.7 341.3,674.2 341.8,673.2 342.3,673.4 342.8,673.9 343.3,671.7 343.8,672.6 344.3,672.3 344.8,672.6 345.3,674.1 345.8,673.4 346.3,671.9 346.8,671.5 347.3,671.8 347.8,671.6 348.3,673.5 348.8,674 349.3,673.4 349.8,673.3 350.3,672.1 350.8,671.5 351.3,674 351.8,673.9 352.3,671.3 352.8,672.6 353.3,670.9 353.8,674.1 354.3,673.5 354.8,673.7 355.3,673.6 355.8,672.2 356.3,673.2 356.8,673 357.3,673.9 357.8,672.7 358.3,672.9 358.8,671.9 359.3,673.4 359.8,674 360.3,672.1 360.8,672.4 361.3,674.3 361.8,674.2 362.3,673.9 362.8,673.4 363.3,672.5 363.8,673 364.3,669.4 364.8,673.3 365.3,671.9 365.8,673.4 366.3,672.1 366.8,672.3 367.3,673.6 367.8,673.3 368.3,672.1 368.8,672.8 369.3,672.3 369.8,672.3 370.3,671.9 370.8,672 371.3,674.2 371.8,673.9 372.3,673.3 372.8,673.7 373.3,673.5 373.8,671.9 374.3,673.1 374.8,673.9 375.3,671.8 375.8,672.8 376.3,674.1 376.8,671.7 377.3,674 377.8,674.3 378.3,671.3 378.8,672.6 379.3,673.2 379.8,673 380.3,672.6 380.8,673.6 381.3,670.2 381.8,673.2 382.3,673.3 382.8,674.2 383.3,673.3 383.8,672.1 384.3,674.2 384.8,672.9 385.3,671.5 385.8,674.2 386.3,673.2 386.8,673.4 387.3,672.6 387.8,673.9 388.3,673.2 388.8,673.6 389.3,672.6 389.8,673 390.3,673.8 390.8,670.5 391.3,673.4 391.8,671.2 392.3,672.6 392.8,672.7 393.3,673.3 393.8,673.3 394.3,673 394.8,673.8 395.3,671.6 395.8,673.7 396.3,673.9 396.8,673.2 397.3,674.1 397.8,672.7 398.3,674 398.8,673.8 399.3,672.2 399.8,672.6 400.3,672.8 400.8,674.2 401.3,673.2 401.8,674.3 402.3,672.5 402.8,673.7 403.3,673.5 403.8,672.7 404.3,672.9 404.8,673.9 405.3,673.7 405.8,671.2 406.3,672.4 406.8,673.5 407.3,673.5 407.8,673.7 408.3,673.4 408.8,673.8 409.3,672.9 409.8,672 410.3,673.6 410.8,673.4 411.3,673.2 411.8,673.1 412.3,672.4 412.8,672.5 413.3,672.6 413.8,673.3 414.3,671.8 414.8,673.2 415.3,672.1 415.8,672.1 416.3,673.2 416.8,674 417.3,671.2 417.8,672.1 418.3,673.2 418.8,673.6 419.3,674 419.8,673.4 420.3,674.2 420.8,672 421.3,673.8 421.8,673 422.3,672.5 422.8,674.1 423.3,673.2 423.8,673.6 424.3,672.1 424.8,674.1 425.3,672.9 425.8,674.1 426.3,672.7 426.8,673.8 427.3,673.6 427.8,670.7 428.3,673.3 428.8,672.8 429.3,673.9 429.8,672.7 430.3,674 430.8,672.7 431.3,670.2 431.8,673.5 432.3,673.8 432.8,672.8 433.3,672.5 433.8,674.2 434.3,673.7 434.8,673 435.3,672.7 435.8,673.7 436.3,673.6 436.8,673.7 437.3,673.2 437.8,672 438.3,673.3 438.8,673.1 439.3,673.4 439.8,672.5 440.3,673.4 440.8,673.6 441.3,673.2 441.8,674.1 442.3,674.3 442.8,674.2 443.3,673.5 443.8,674 444.3,672.2 444.8,673.4 445.3,672.2 445.8,674.1 446.3,671.2 446.8,674.1 447.3,672.1 447.8,672.8 448.3,674.2 448.8,674 449.3,673.5 449.8,674.1 450.3,673.7 450.8,672.2 451.3,673.8 451.8,673 452.3,672.3 452.8,673.3 453.3,672.8 453.8,673.8 454.3,673.5 454.8,673.5 455.3,673.1 455.8,674.1 456.3,673.1 456.8,673.5 457.3,673.5 457.8,674.3 458.3,673.5 458.8,673.9 459.3,672.6 459.8,671 460.3,673.4 460.8,672.1 461.3,674.1 461.8,673.3 462.3,673.1 462.8,673.6 463.3,674 463.8,672.7 464.3,672.9 464.8,674.1 465.3,673.5 465.8,673.2 466.3,674.1 466.8,674.1 467.3,674.2 467.8,673.5 468.3,672.7 468.8,673.9 469.3,673.4 469.8,672.7 470.3,673.7 470.8,673.4 471.3,674.1 471.8,672.2 472.3,671.2 472.8,674.1 473.3,673.8 473.8,674.1 474.3,673.6 474.8,673.2 475.3,673.8 475.8,673 476.3,673.5 476.8,674.1 477.3,673.9 477.8,673.9 478.3,673.1 478.8,673.5 479.3,673.2 479.8,674.2 480.3,674.2 480.8,673.8 481.3,674 481.8,673.7 482.3,673.8 482.8,671.7 483.3,674.1 483.8,673.7 484.3,674.1 484.8,672.7 485.3,673.4 485.8,672.9 486.3,672.9 486.8,673.4 487.3,674 487.8,673.4 488.3,672.8 488.8,673.8 489.3,673.6 489.8,673.8 490.3,673.6 490.8,672.7 491.3,674.1 491.8,673.1 492.3,673.6 492.8,673 493.3,673.6 493.8,673.5 494.3,673 494.8,673.6 495.3,674 495.8,673.8 496.3,673.7 496.8,674.3 497.3,673.6 497.8,673.1 498.3,672.7 498.8,673.2 499.3,673.5 499.8,674 500.3,674.2 500.8,673.4 501.3,673.1 501.8,672.9 502.3,673.2 502.8,673 503.3,673.9 503.8,673.4 504.3,673.3 504.8,673.4 505.3,674.2 505.8,673.1 506.3,674.1 506.8,673.8 507.3,673.7 507.8,672.7 508.3,673.8 508.8,673.6 509.3,673.7 509.8,674.2 510.3,674 510.8,673.4 511.3,673.5 511.8,673.9 512.3,673.4 512.8,673 513.3,672 513.8,673.1 514.3,672.7 514.8,674.1 515.3,672.1 515.8,673.8 516.3,674 516.8,673.7 517.3,672.8 517.8,673.6 518.3,674.2 518.8,674.3 519.3,672.9 519.8,672.2 520.3,673.1 520.8,673.4 521.3,672.3 521.8,673.6 522.3,674 522.8,672.7 523.3,673.2 523.8,674 524.3,673.5 524.8,674.2 525.3,673 525.8,674.1 526.3,673.1 526.8,672.6 527.3,673.7 527.8,674.1 528.3,674 528.8,674.1 529.3,673.6 529.8,672.9 530.3,674.3 530.8,673.1 531.3,674.2 531.8,673.7 532.3,674.1 532.8,672.5 533.3,674.3 533.8,673.6 534.3,674 534.8,674.1 535.3,674 535.8,674.2 536.3,674.2 536.8,673.4 537.3,672.7 537.8,673.6 538.3,673.7 538.8,674.2 539.3,673.4 539.8,673.1 540.3,672.3 540.8,673.1 541.3,673.9 541.8,673.6 542.3,673 542.8,673.8 543.3,673.2 543.8,673.4 544.3,671.8 544.8,673.6 545.3,674.1 545.8,674.2 546.3,673.3 546.8,673.6 547.3,673.8 547.8,674.2 548.3,673.5 548.8,673.9 549.3,674.2 549.8,673.8 550.3,673.7 550.8,674.1 551.3,674 551.8,673.8 552.3,674.2 552.8,672.4 553.3,673.8 553.8,673.2 554.3,673.4 554.8,674.3 555.3,674.3 555.8,673.7 556.3,672.7 556.8,673.6 557.3,673 557.8,672.8 558.3,671.4 558.8,673 559.3,674.2 559.8,673.5 560.3,673.7 560.8,673 561.3,673 561.8,674 562.3,673.3 562.8,673.6 563.3,674.2 563.8,673.3 564.3,673.9 564.8,673.4 565.3,674.1 565.8,673.4 566.3,674.1 566.8,674.2 567.3,673.3 567.8,673.8 568.3,674.2 568.8,673.5 569.3,673.8 569.8,674 570.3,672.4 570.8,673.5 571.3,674.1 571.8,673.5 572.3,674.3 572.8,673.6 573.3,673.5 573.8,673.9 574.3,673.2 574.8,674.3 575.3,673.7 575.8,673.5 576.3,673.4 576.8,673.8 577.3,673.2 577.8,673.4 578.3,674 578.8,674 579.3,674 579.8,674.2 580.3,673 580.8,673.9 581.3,673.4 581.8,673.9 582.3,673.2 582.8,673.6 583.3,672.8 583.8,674 584.3,672.8 584.8,673.5 585.3,673.6 585.8,671.3 586.3,674.3 586.8,673.3 587.3,674.1 587.8,673.7 587.8,684.5 587.3,684 586.8,684.4 586.3,684.4 585.8,684.3 585.3,683.8 584.8,683.9 584.3,684.2 583.8,684.1 583.3,684.4 582.8,683.9 582.3,683.9 581.8,684.4 581.3,684.3 580.8,684.1 580.3,684.1 579.8,683.9 579.3,684.6 578.8,684.3 578.3,684 577.8,684.1 577.3,684.3 576.8,684.3 576.3,683.9 575.8,684.2 575.3,684 574.8,683.9 574.3,684.1 573.8,683.9 573.3,683.8 572.8,684.4 572.3,684.2 571.8,684.2 571.3,684.4 570.8,684.4 570.3,683.8 569.8,684.3 569.3,683.9 568.8,683.9 568.3,683.9 567.8,684.7 567.3,684.2 566.8,683.9 566.3,684.2 565.8,684.1 565.3,684.1 564.8,684.4 564.3,684.2 563.8,684.3 563.3,683.9 562.8,684 562.3,683.8 561.8,684 561.3,684 560.8,684.3 560.3,684.1 559.8,683.9 559.3,685 558.8,684 558.3,684.4 557.8,683.9 557.3,683.9 556.8,684.2 556.3,684.3 555.8,684 555.3,684.1 554.8,684.2 554.3,684.4 553.8,684.2 553.3,684.2 552.8,684 552.3,683.9 551.8,683.8 551.3,683.9 550.8,684 550.3,683.9 549.8,684.7 549.3,683.9 548.8,684.2 548.3,683.9 547.8,683.8 547.3,683.9 546.8,684.3 546.3,683.9 545.8,684.1 545.3,684.4 544.8,684.5 544.3,683.9 543.8,684.6 543.3,684.2 542.8,684 542.3,684 541.8,684 541.3,684.3 540.8,684 540.3,683.9 539.8,684.2 539.3,684 538.8,684 538.3,684.2 537.8,684.2 537.3,684.3 536.8,684 536.3,684 535.8,684 535.3,683.9 534.8,684.5 534.3,684.2 533.8,683.9 533.3,683.8 532.8,684.5 532.3,684.6 531.8,684.3 531.3,684.2 530.8,684.1 530.3,684.1 529.8,684 529.3,684.2 528.8,684 528.3,684.1 527.8,684.4 527.3,684 526.8,683.9 526.3,684.3 525.8,684 525.3,683.9 524.8,684.8 524.3,683.9 523.8,684.5 523.3,683.9 522.8,684.2 522.3,684.3 521.8,684.2 521.3,684.3 520.8,683.8 520.3,684.3 519.8,684.1 519.3,683.9 518.8,683.9 518.3,683.9 517.8,684 517.3,684 516.8,684.4 516.3,684.1 515.8,684.2 515.3,684.1 514.8,684.4 514.3,684.3 513.8,684.1 513.3,684.5 512.8,684.1 512.3,684 511.8,684.2 511.3,683.8 510.8,684 510.3,684.3 509.8,684 509.3,684.2 508.8,684 508.3,684.1 507.8,684.1 507.3,683.8 506.8,683.8 506.3,684.3 505.8,684.4 505.3,684.2 504.8,683.8 504.3,684.8 503.8,684.2 503.3,683.9 502.8,683.8 502.3,684.3 501.8,683.8 501.3,684.1 500.8,684.2 500.3,684.1 499.8,683.9 499.3,684.2 498.8,684.2 498.3,684.2 497.8,683.9 497.3,684.2 496.8,684.2 496.3,683.9 495.8,684 495.3,684 494.8,684 494.3,684.3 493.8,683.8 493.3,684.3 492.8,684.4 492.3,683.8 491.8,684 491.3,684.1 490.8,684.7 490.3,684.2 489.8,683.8 489.3,684.1 488.8,684.1 488.3,683.9 487.8,684.7 487.3,683.9 486.8,684.2 486.3,684.1 485.8,684.3 485.3,684.3 484.8,684 484.3,684.2 483.8,684 483.3,684.2 482.8,684.1 482.3,683.9 481.8,683.8 481.3,684.2 480.8,684.3 480.3,684 479.8,684 479.3,683.9 478.8,684.1 478.3,684.3 477.8,683.9 477.3,684.1 476.8,684.2 476.3,684.1 475.8,684 475.3,684.1 474.8,683.8 474.3,684.6 473.8,684.1 473.3,683.8 472.8,684.3 472.3,684.3 471.8,684.2 471.3,683.9 470.8,683.9 470.3,684.2 469.8,683.9 469.3,684 468.8,684.8 468.3,684.2 467.8,684.1 467.3,684.2 466.8,684.4 466.3,683.8 465.8,684.1 465.3,684 464.8,683.8 464.3,684.1 463.8,684.2 463.3,683.9 462.8,684.3 462.3,684.5 461.8,684.8 461.3,684 460.8,683.9 460.3,683.9 459.8,685 459.3,683.9 458.8,684.3 458.3,683.9 457.8,684.4 457.3,684.5 456.8,684.1 456.3,684 455.8,683.9 455.3,684.3 454.8,684.2 454.3,684.6 453.8,683.9 453.3,684.3 452.8,683.9 452.3,683.9 451.8,684 451.3,684.2 450.8,684 450.3,683.8 449.8,683.8 449.3,684 448.8,683.8 448.3,684.3 447.8,683.8 447.3,684.3 446.8,684.1 446.3,684.3 445.8,684.5 445.3,683.8 444.8,684.1 444.3,684.3 443.8,684.5 443.3,684 442.8,685 442.3,683.9 441.8,684.3 441.3,684 440.8,684.1 440.3,684.8 439.8,684.3 439.3,684 438.8,684.7 438.3,683.9 437.8,684.6 437.3,684.2 436.8,683.9 436.3,684.2 435.8,684.3 435.3,684.9 434.8,684.3 434.3,684.5 433.8,684.2 433.3,684.1 432.8,684.2 432.3,684.5 431.8,684 431.3,684.4 430.8,684.3 430.3,684.3 429.8,684 429.3,684.1 428.8,684.3 428.3,684.3 427.8,684.2 427.3,683.9 426.8,684.2 426.3,683.8 425.8,683.9 425.3,684.4 424.8,684 424.3,684.2 423.8,684.7 423.3,684.3 422.8,684.4 422.3,684.2 421.8,684.1 421.3,684.1 420.8,684.2 420.3,684.4 419.8,684.9 419.3,684.8 418.8,684 418.3,684 417.8,684 417.3,684 416.8,683.9 416.3,683.9 415.8,683.9 415.3,684.5 414.8,683.9 414.3,683.9 413.8,683.9 413.3,684.1 412.8,684.4 412.3,684.8 411.8,684.1 411.3,684 410.8,684.1 410.3,684.1 409.8,684 409.3,684.1 408.8,684 408.3,684.2 407.8,683.9 407.3,684.3 406.8,684 406.3,684.5 405.8,684.3 405.3,684.1 404.8,684 404.3,684.3 403.8,684 403.3,684 402.8,684.3 402.3,683.9 401.8,683.9 401.3,683.9 400.8,683.9 400.3,684.1 399.8,684.3 399.3,683.8 398.8,683.8 398.3,684.7 397.8,683.9 397.3,683.8 396.8,684.1 396.3,684.4 395.8,684.3 395.3,684.4 394.8,684.1 394.3,683.9 393.8,684 393.3,684.6 392.8,684.2 392.3,684 391.8,684.6 391.3,684 390.8,684.1 390.3,683.9 389.8,684.3 389.3,684.2 388.8,683.8 388.3,684.2 387.8,684.4 387.3,683.9 386.8,683.8 386.3,684.2 385.8,684.3 385.3,684.2 384.8,684.3 384.3,684.3 383.8,683.9 383.3,684.2 382.8,684.1 382.3,684.6 381.8,684.4 381.3,684 380.8,684.3 380.3,684 379.8,684.2 379.3,684 378.8,683.9 378.3,684.1 377.8,683.9 377.3,684 376.8,684 376.3,684.2 375.8,684.1 375.3,684.5 374.8,683.8 374.3,684 373.8,684 373.3,684.3 372.8,683.9 372.3,684.1 371.8,684.4 371.3,684 370.8,684.2 370.3,684.6 369.8,684 369.3,684 368.8,683.9 368.3,684 367.8,684.3 367.3,683.9 366.8,684.1 366.3,683.9 365.8,684 365.3,684.2 364.8,684.5 364.3,684.3 363.8,683.8 363.3,683.9 362.8,684.2 362.3,684.6 361.8,684.1 361.3,684.1 360.8,683.9 360.3,684 359.8,684.3 359.3,684.2 358.8,684.6 358.3,684.4 357.8,683.8 357.3,683.9 356.8,684.2 356.3,684.2 355.8,684.4 355.3,683.8 354.8,684.2 354.3,684.5 353.8,684.7 353.3,684 352.8,684.3 352.3,683.9 351.8,684.1 351.3,684 350.8,684.3 350.3,684.2 349.8,684.5 349.3,684 348.8,684 348.3,684.1 347.8,684.2 347.3,684 346.8,684.1 346.3,684 345.8,684.3 345.3,684.7 344.8,684.3 344.3,684 343.8,683.9 343.3,684.6 342.8,684.1 342.3,684.5 341.8,683.9 341.3,683.9 340.8,683.9 340.3,683.8 339.8,684.1 339.3,684 338.8,684.4 338.3,683.9 337.8,683.8 337.3,684.1 336.8,684.3 336.3,684.6 335.8,684.3 335.3,684.4 334.8,684.1 334.3,684.1 333.8,683.8 333.3,684 332.8,683.9 332.3,683.9 331.8,685.1 331.3,684 330.8,684.1 330.3,684.3 329.8,683.9 329.3,683.8 328.8,684.2 328.3,684.2 327.8,684.1 327.3,684.1 326.8,683.9 326.3,683.9 325.8,684.2 325.3,684.2 324.8,684.4 324.3,683.9 323.8,684 323.3,683.9 322.8,684.3 322.3,683.9 321.8,683.9 321.3,684.5 320.8,684.2 320.3,684.2 319.8,684.3 319.3,684 318.8,683.9 318.3,684.3 317.8,684.2 317.3,683.9 316.8,683.9 316.3,684.5 315.8,684.2 315.3,683.9 314.8,683.9 314.3,683.9 313.8,684.1 313.3,684.4 312.8,683.8 312.3,683.8 311.8,684.3 311.3,684.4 310.8,683.9 310.3,684.1" fill="#ee3c3c" stroke="none" stroke-width="1" />
<polygon points="587.8,672.7 588.3,672.6 588.8,673.4 589.3,672.9 589.8,672.1 590.3,672.9 590.8,672 591.3,672.5 591.8,671.9 592.3,672.4 592.8,672.6 593.3,672.1 593.8,672.8 594.3,673.2 594.8,672.5 595.3,673.1 595.8,673.3 596.3,671.2 596.8,672.8 597.3,673.4 597.8,672.4 598.3,672.2 598.8,672.4 599.3,672.3 599.8,673.3 600.3,673.2 600.8,671.8 601.3,673.1 601.8,672 602.3,671.8 602.8,672.9 603.3,671.5 603.8,672.8 604.3,672.9 604.8,673.2 605.3,672.9 605.8,673 606.3,671.9 606.8,672.6 607.3,673.3 607.8,673.1 608.3,672.3 608.8,673.1 609.3,673 609.8,671.6 610.3,673.3 610.8,672.4 611.3,673.4 611.8,673.2 612.3,672.7 612.8,672.9 613.3,673.1 613.8,673 614.3,672.9 614.8,672 615.3,671.4 615.8,673.3 616.3,672.8 616.8,673 617.3,672.9 617.8,672.9 618.3,672.9 618.8,671.5 619.3,672.6 619.8,672.9 620.3,672.5 620.8,673.2 621.3,673 621.8,672.8 622.3,671.3 622.8,672.5 623.3,672.6 623.8,673 624.3,672.9 624.8,672.5 625.3,672.9 625.8,672.7 626.3,672.8 626.8,673.1 627.3,673 627.8,672.6 628.3,672.2 628.8,672.6 629.3,672.7 629.8,672.6 630.3,673.2 630.8,671.2 631.3,672.7 631.8,673.1 632.3,673.1 632.8,671.5 633.3,672.6 633.8,671.7 634.3,672.9 634.8,672.1 635.3,672.7 635.8,673.2 636.3,672.7 636.8,672.3 637.3,673.1 637.8,672.5 638.3,672.7 638.8,672.6 639.3,673 639.8,673.1 640.3,673.3 640.8,672.2 641.3,673.1 641.8,671.6 642.3,673.3 642.8,673.3 643.3,671.1 643.8,673.1 644.3,672.3 644.8,672.9 645.3,672.9 645.8,672.9 646.3,673.1 646.8,673.2 647.3,672.6 647.8,673.3 648.3,672.5 648.8,673 649.3,672.6 649.8,672.4 650.3,672.9 650.8,673 651.3,672.5 651.8,672.5 652.3,671.9 652.8,673.1 653.3,672.5 653.8,673.1 654.3,673.3 654.8,673.2 655.3,672.2 655.8,672.5 656.3,672.7 656.8,672.4 657.3,672.8 657.8,672.9 658.3,672.5 658.8,672.6 659.3,672.9 659.8,671.2 660.3,673 660.8,672.7 661.3,672.5 661.8,673 662.3,672.6 662.8,673 663.3,673 663.8,673.2 664.3,672.7 664.8,673 665.3,671 665.8,672.9 666.3,672.7 666.8,673.2 667.3,673.1 667.8,672.6 668.3,672.6 668.8,672.3 669.3,672.4 669.8,672.7 670.3,672.3 670.8,672.6 671.3,672.9 671.8,673.4 672.3,672.4 672.8,672.9 673.3,672.5 673.8,672.2 674.3,673 674.8,672.2 675.3,672.3 675.8,672.3 676.3,673.4 676.8,672.9 677.3,672.5 677.8,673.3 678.3,673.2 678.8,672.8 679.3,672.6 679.8,672.8 680.3,673.2 680.8,672.6 681.3,673.1 681.8,673.1 682.3,673 682.8,672.9 683.3,673.3 683.8,672.1 684.3,673.1 684.8,671.7 685.3,673.3 685.8,673 686.3,672.4 686.8,673.4 687.3,672.5 687.8,672.7 688.3,672.7 688.8,673.1 689.3,673.4 689.8,672.3 690.3,670 690.8,672.9 691.3,672.1 691.8,672 692.3,673.3 692.8,673 693.3,671.8 693.8,671.7 694.3,673.4 694.8,672.9 695.3,673 695.8,673.3 696.3,672.3 696.8,671.6 697.3,672.8 697.8,672.6 698.3,672.5 698.8,672.4 699.3,671.5 699.8,673.3 700.3,673 700.8,672.2 701.3,671.9 701.8,673 702.3,672.9 702.8,673.4 703.3,673.3 703.8,673.2 704.3,671.9 704.8,672.9 705.3,671.5 705.8,672.5 706.3,672.4 706.8,672 707.3,672.2 707.8,673.2 708.3,671.9 708.8,672.7 709.3,672.8 709.8,673.3 710.3,672.3 710.8,672.7 711.3,673.2 711.8,672.9 712.3,672.1 712.8,672.9 713.3,672.6 713.8,672.3 714.3,673.1 714.8,673.1 715.3,673.2 715.8,672.3 716.3,671.4 716.8,673.1 717.3,672.5 717.8,673.1 718.3,671.3 718.8,673 719.3,671.6 719.8,672.4 720.3,673.4 720.8,672.3 721.3,673.3 721.8,672.5 722.3,672.7 722.8,672.8 723.3,672 723.8,672.7 724.3,672.4 724.8,670.9 725.3,672.1 725.8,672.7 726.3,672.6 726.8,672 727.3,673.4 727.8,672.5 728.3,673 728.8,673.2 729.3,673 729.8,671.1 730.3,673 730.8,670.8 731.3,673 731.8,672.4 732.3,673.1 732.8,673.1 733.3,672.6 733.8,672.7 734.3,673 734.8,673.2 735.3,672.7 735.8,672.6 736.3,672.6 736.8,672.2 737.3,672.3 737.8,673.2 738.3,671.8 738.8,672.5 739.3,673 739.8,672.9 740.3,672.6 740.8,672.9 741.3,673.3 741.8,672.8 742.3,672.2 742.8,673.3 743.3,673.4 743.8,672.7 744.3,670.9 744.8,672.3 745.3,671.9 745.8,673.4 746.3,673.3 746.8,672.8 747.3,672.4 747.8,671.7 748.3,672.6 748.8,672.5 749.3,673 749.8,672.5 750.3,672.9 750.8,673.2 751.3,673.2 751.8,672.4 752.3,672.7 752.8,673.4 753.3,672.5 753.8,673 754.3,672.5 754.8,672.6 755.3,672 755.8,673.1 756.3,672.1 756.8,672.5 757.3,672.9 757.8,672.1 758.3,673.4 758.8,673 759.3,673.4 759.8,671.7 760.3,672.8 760.8,673 761.3,672.6 761.8,672.4 762.3,672.6 762.8,672.8 763.3,672.2 763.8,672.4 764.3,673.2 764.8,673 765.3,671.9 765.8,672.6 766.3,672.3 766.8,673.2 767.3,672.3 767.8,671.8 768.3,673.2 768.8,672.1 769.3,672.1 769.8,671.8 770.3,673.1 770.8,672.7 771.3,672.4 771.8,673.4 772.3,672.7 772.8,673.2 773.3,673.2 773.8,673.1 774.3,673.3 774.8,672.7 775.3,673.3 775.8,670.2 776.3,672.9 776.8,672.4 777.3,672.1 777.8,673.2 778.3,672.8 778.8,672.7 779.3,672.7 779.8,673.3 780.3,672.7 780.8,672 781.3,673.2 781.8,672.9 782.3,672 782.8,673.3 783.3,672 783.8,673.4 784.3,673.2 784.8,672 785.3,672.8 785.8,673.2 786.3,672.1 786.8,671.6 787.3,672.3 787.8,673.2 788.3,672.9 788.8,672.1 789.3,672.9 789.8,672.8 790.3,672.6 790.8,671.2 791.3,673.3 791.8,672.7 792.3,672.3 792.8,673 793.3,672 793.8,672.5 794.3,672.9 794.8,672.9 795.3,672.2 795.8,671.4 796.3,671.2 796.8,672.5 797.3,672.5 797.8,673.2 798.3,672.7 798.8,672.8 799.3,673.2 799.8,671.9 800.3,673 800.8,673.1 801.3,672.5 801.8,673 802.3,673.1 802.8,673.2 803.3,671.9 803.8,671.5 804.3,673.3 804.8,672.7 805.3,672.9 805.8,672.2 806.3,672.8 806.8,672.7 807.3,673.4 807.8,672.5 808.3,672.8 808.8,673.1 809.3,672.4 809.8,672.8 810.3,673.2 810.8,673.2 811.3,673.1 811.8,672.9 812.3,670.7 812.8,672.9 813.3,673.1 813.8,673.3 814.3,671.6 814.8,673 815.3,673.4 815.8,673.2 816.3,673.3 816.8,671.2 817.3,672.8 817.8,672.9 818.3,672.8 818.8,672.1 819.3,673.2 819.8,672.1 820.3,672.1 820.8,672.8 821.3,673.1 821.8,672 822.3,672.9 822.8,672.8 823.3,672.7 823.8,673 824.3,672.6 824.8,672.6 825.3,672.7 825.8,673.4 826.3,673.3 826.8,672.7 827.3,671.6 827.8,672.6 828.3,672.2 828.8,672.5 829.3,672.3 829.8,673.2 830.3,672.9 830.8,673 831.3,672.7 831.8,673.1 832.3,672.9 832.8,673.3 833.3,673.1 833.8,671.9 834.3,673.3 834.8,672.3 835.3,673.4 835.8,672.2 836.3,672.5 836.8,672.3 837.3,672.8 837.8,673 838.3,673.1 838.8,673 839.3,672.3 839.8,672 840.3,672.9 840.8,672.4 841.3,673.3 841.8,672.8 842.3,672.7 842.8,673.4 843.3,671.9 843.8,672.6 844.3,671.8 844.8,672.5 845.3,672.5 845.8,672.5 846.3,673.3 846.8,671.8 847.3,672.8 847.8,672.6 848.3,672.6 848.8,672.9 849.3,673.2 849.8,672.8 850.3,673.4 850.8,672.3 851.3,673.2 851.8,673.3 852.3,672.7 852.8,672.6 853.3,672.7 853.8,672.6 854.3,672.1 854.8,673.2 855.3,672.7 855.8,672.7 856.3,672.7 856.8,673.3 857.3,673.3 857.8,672.9 858.3,673.3 858.8,673.4 859.3,672.4 859.8,672.8 860.3,672.5 860.8,672.9 861.3,673.2 861.8,672.1 862.3,672.3 862.8,673.3 863.3,673.4 863.8,672.1 864.3,671.8 864.8,673.3 865.3,673.2 865.3,683.6 864.8,683.8 864.3,684.3 863.8,683.7 863.3,683.6 862.8,683.7 862.3,683.5 861.8,683.7 861.3,683.8 860.8,684.6 860.3,683.9 859.8,683.7 859.3,683.8 858.8,683.7 858.3,684 857.8,683.6 857.3,683.7 856.8,683.7 856.3,684 855.8,683.7 855.3,683.6 854.8,683.7 854.3,683.5 853.8,684.2 853.3,683.8 852.8,684.2 852.3,684 851.8,683.9 851.3,683.6 850.8,684.2 850.3,683.6 849.8,683.6 849.3,683.8 848.8,683.5 848.3,684.2 847.8,684 847.3,684.2 846.8,683.8 846.3,683.5 845.8,684.2 845.3,683.8 844.8,684.4 844.3,684.3 843.8,684.2 843.3,684.5 842.8,683.9 842.3,684 841.8,683.6 841.3,683.8 840.8,683.6 840.3,684.4 839.8,683.8 839.3,684 838.8,684.6 838.3,683.7 837.8,683.8 837.3,683.7 836.8,683.6 836.3,683.8 835.8,684.1 835.3,683.9 834.8,683.6 834.3,683.9 833.8,684 833.3,683.7 832.8,683.8 832.3,683.9 831.8,683.7 831.3,683.9 830.8,684.4 830.3,683.9 829.8,683.6 829.3,683.8 828.8,683.7 828.3,683.8 827.8,683.9 827.3,684.3 826.8,684.6 826.3,683.9 825.8,683.7 825.3,684.1 824.8,683.7 824.3,684 823.8,684.7 823.3,683.6 822.8,683.8 822.3,684.5 821.8,684.1 821.3,684.7 820.8,683.7 820.3,684.1 819.8,683.8 819.3,683.6 818.8,683.6 818.3,683.6 817.8,683.6 817.3,684 816.8,683.5 816.3,683.8 815.8,683.6 815.3,683.8 814.8,683.9 814.3,683.9 813.8,683.5 813.3,683.7 812.8,684.2 812.3,683.6 811.8,683.8 811.3,683.7 810.8,684.6 810.3,683.9 809.8,683.9 809.3,683.8 808.8,684.3 808.3,684.2 807.8,683.6 807.3,683.7 806.8,683.5 806.3,684 805.8,683.7 805.3,683.7 804.8,683.5 804.3,684.1 803.8,684 803.3,684.3 802.8,683.5 802.3,683.5 801.8,684 801.3,684.1 800.8,683.6 800.3,684 799.8,683.8 799.3,683.7 798.8,683.8 798.3,683.9 797.8,683.8 797.3,683.7 796.8,684.4 796.3,683.8 795.8,683.7 795.3,684.1 794.8,683.5 794.3,683.6 793.8,684.4 793.3,683.8 792.8,683.8 792.3,683.8 791.8,684.2 791.3,683.6 790.8,683.8 790.3,683.9 789.8,683.9 789.3,684.2 788.8,683.9 788.3,683.6 787.8,684.3 787.3,684.8 786.8,683.5 786.3,683.7 785.8,684.4 785.3,684.5 784.8,683.6 784.3,683.6 783.8,683.9 783.3,683.9 782.8,683.6 782.3,684.2 781.8,684 781.3,683.6 780.8,684.2 780.3,683.7 779.8,683.6 779.3,684.4 778.8,683.8 778.3,683.7 777.8,684 777.3,684.9 776.8,684.1 776.3,684.4 775.8,684.2 775.3,683.7 774.8,683.6 774.3,684 773.8,684 773.3,683.7 772.8,683.7 772.3,684.5 771.8,684.1 771.3,683.9 770.8,684.4 770.3,683.6 769.8,683.8 769.3,684.2 768.8,683.9 768.3,684.2 767.8,684.2 767.3,684.3 766.8,683.7 766.3,683.5 765.8,683.9 765.3,683.8 764.8,683.9 764.3,683.9 763.8,683.9 763.3,683.7 762.8,684.2 762.3,683.8 761.8,683.9 761.3,683.6 760.8,683.6 760.3,683.6 759.8,684.6 759.3,684.4 758.8,684.1 758.3,684.5 757.8,683.8 757.3,683.8 756.8,684.1 756.3,684.1 755.8,683.7 755.3,683.8 754.8,684.3 754.3,684.5 753.8,684.4 753.3,684.2 752.8,683.9 752.3,683.9 751.8,683.6 751.3,683.9 750.8,684 750.3,684.3 749.8,683.6 749.3,683.6 748.8,684.3 748.3,683.9 747.8,683.8 747.3,683.9 746.8,683.7 746.3,684.1 745.8,684.3 745.3,684.1 744.8,683.8 744.3,684.2 743.8,683.5 743.3,684.1 742.8,683.7 742.3,684.2 741.8,684.3 741.3,684.2 740.8,683.7 740.3,684.3 739.8,684.1 739.3,684.1 738.8,683.9 738.3,683.8 737.8,683.8 737.3,684.5 736.8,683.6 736.3,684.4 735.8,683.7 735.3,684 734.8,684 734.3,683.8 733.8,684 733.3,683.7 732.8,683.5 732.3,683.6 731.8,683.8 731.3,683.9 730.8,683.9 730.3,683.7 729.8,683.7 729.3,683.6 728.8,683.5 728.3,683.7 727.8,684.4 727.3,684.2 726.8,684.3 726.3,683.7 725.8,683.9 725.3,684.1 724.8,683.5 724.3,684 723.8,683.9 723.3,683.5 722.8,683.6 722.3,683.8 721.8,684.2 721.3,684.2 720.8,684 720.3,683.6 719.8,683.8 719.3,683.9 718.8,683.9 718.3,683.7 717.8,684.1 717.3,683.9 716.8,683.9 716.3,684.4 715.8,683.7 715.3,684.4 714.8,684.3 714.3,683.7 713.8,684.1 713.3,684.5 712.8,684.4 712.3,683.9 711.8,684.1 711.3,683.7 710.8,683.6 710.3,683.8 709.8,683.7 709.3,684 708.8,683.6 708.3,684.3 707.8,683.5 707.3,683.6 706.8,684.4 706.3,684.1 705.8,684.3 705.3,683.8 704.8,683.6 704.3,683.9 703.8,683.6 703.3,684.1 702.8,683.5 702.3,683.8 701.8,684.1 701.3,684.2 700.8,683.6 700.3,684.7 699.8,683.7 699.3,684 698.8,683.7 698.3,683.5 697.8,683.7 697.3,683.9 696.8,683.9 696.3,683.6 695.8,684.1 695.3,683.7 694.8,683.6 694.3,684.2 693.8,684.2 693.3,683.7 692.8,684 692.3,683.8 691.8,684.6 691.3,683.7 690.8,684.5 690.3,683.8 689.8,684.8 689.3,683.5 688.8,684.7 688.3,683.6 687.8,684.2 687.3,683.6 686.8,684.2 686.3,683.9 685.8,684.5 685.3,684 684.8,683.6 684.3,683.9 683.8,683.5 683.3,683.7 682.8,683.7 682.3,684.3 681.8,683.5 681.3,684.1 680.8,684.4 680.3,683.8 679.8,683.7 679.3,684 678.8,683.9 678.3,684.5 677.8,683.8 677.3,683.9 676.8,684.6 676.3,683.7 675.8,684.3 675.3,683.6 674.8,683.9 674.3,683.6 673.8,683.7 673.3,683.6 672.8,683.9 672.3,683.6 671.8,684.2 671.3,683.9 670.8,684 670.3,683.8 669.8,684.3 669.3,683.6 668.8,684 668.3,683.6 667.8,683.6 667.3,683.7 666.8,683.5 666.3,683.8 665.8,683.7 665.3,684 664.8,683.8 664.3,684 663.8,683.6 663.3,683.7 662.8,683.8 662.3,684.3 661.8,683.6 661.3,683.6 660.8,683.7 660.3,683.6 659.8,683.6 659.3,684 658.8,683.6 658.3,683.8 657.8,683.9 657.3,683.7 656.8,683.7 656.3,683.6 655.8,683.8 655.3,685.1 654.8,684.2 654.3,683.8 653.8,683.6 653.3,684.7 652.8,683.6 652.3,683.7 651.8,683.8 651.3,684.1 650.8,683.7 650.3,683.6 649.8,683.7 649.3,684.6 648.8,683.8 648.3,684.6 647.8,684 647.3,684.2 646.8,683.8 646.3,684.3 645.8,684.4 645.3,683.5 644.8,683.8 644.3,683.6 643.8,683.8 643.3,684.1 642.8,684.4 642.3,683.7 641.8,683.9 641.3,683.9 640.8,684.3 640.3,684.1 639.8,683.7 639.3,684 638.8,683.7 638.3,683.6 637.8,683.9 637.3,683.8 636.8,684 636.3,684.2 635.8,684 635.3,685 634.8,684 634.3,683.7 633.8,684.4 633.3,683.8 632.8,684.1 632.3,683.8 631.8,684.3 631.3,683.6 630.8,683.8 630.3,684.4 629.8,683.5 629.3,683.7 628.8,684.2 628.3,684 627.8,683.5 627.3,683.7 626.8,683.6 626.3,683.9 625.8,683.5 625.3,684.2 624.8,684.4 624.3,684.1 623.8,684.2 623.3,683.8 622.8,683.7 622.3,684.4 621.8,683.9 621.3,683.7 620.8,684.2 620.3,683.9 619.8,684.8 619.3,683.6 618.8,683.6 618.3,683.6 617.8,684.3 617.3,683.7 616.8,683.7 616.3,683.5 615.8,683.8 615.3,683.6 614.8,683.6 614.3,683.9 613.8,684 613.3,683.6 612.8,683.7 612.3,683.6 611.8,684 611.3,684.7 610.8,684.1 610.3,683.8 609.8,684.2 609.3,683.9 608.8,683.5 608.3,684 607.8,683.7 607.3,683.6 606.8,683.9 606.3,684.5 605.8,683.9 605.3,683.7 604.8,684 604.3,684.5 603.8,684 603.3,683.6 602.8,684.3 602.3,684.5 601.8,683.8 601.3,683.7 600.8,683.8 600.3,684.2 599.8,684.1 599.3,683.9 598.8,683.8 598.3,684 597.8,683.8 597.3,684.1 596.8,683.6 596.3,683.8 595.8,684.3 595.3,684.8 594.8,683.6 594.3,683.7 593.8,683.5 593.3,683.6 592.8,684.2 592.3,683.9 591.8,683.9 591.3,684.3 590.8,683.6 590.3,683.5 589.8,683.9 589.3,683.6 588.8,684.6 588.3,683.9 587.8,683.7" fill="#1f72dc" stroke="none" stroke-width="1" />
<line x1="35.8" y1="697.2" x2="308" y2="697.2" stroke="#111" stroke-width="1.4" />
<path d="M33.8 697.2 l5.2 -3.3 l-0.9 3.3 l0.9 3.3 Z" fill="#000"/>
<path d="M310 697.2 l-5.2 -3.3 l0.9 3.3 l-0.9 3.3 Z" fill="#000"/>
<line x1="312.6" y1="697.2" x2="585.5" y2="697.2" stroke="#111" stroke-width="1.4" />
<path d="M310.6 697.2 l5.2 -3.3 l-0.9 3.3 l0.9 3.3 Z" fill="#000"/>
<path d="M587.5 697.2 l-5.2 -3.3 l0.9 3.3 l-0.9 3.3 Z" fill="#000"/>
<line x1="590.1" y1="697.2" x2="860" y2="697.2" stroke="#111" stroke-width="1.4" />
<path d="M588.1 697.2 l5.2 -3.3 l-0.9 3.3 l0.9 3.3 Z" fill="#000"/>
<path d="M862 697.2 l-5.2 -3.3 l0.9 3.3 l-0.9 3.3 Z" fill="#000"/>
<text transform="translate(168.3 715.6) scale(1.04 1)" font-size="17" text-anchor="middle" fill="#000" stroke="#000" >Walk</text>
<text transform="translate(458.6 715.4) scale(1.04 1)" font-size="17" text-anchor="middle" fill="#d82424" stroke="#d82424" >Sports</text>
<text transform="translate(734.6 715.4) scale(1.02 1)" font-size="17" text-anchor="middle" fill="#2222c4" stroke="#2222c4" >Sweat sports</text>
<rect x="102.2" y="530.4" width="140" height="101.5" fill="#fff" stroke="#333" stroke-width="1.2" />
<line x1="114.2" y1="631.9" x2="114.2" y2="635.5" stroke="#111" stroke-width="1.0" />
<text transform="translate(114.2 650) scale(0.93 1)" font-size="15.6" text-anchor="middle" fill="#000" stroke="#000" >0</text>
<line x1="137.3" y1="631.9" x2="137.3" y2="633.9" stroke="#111" stroke-width="1.0" />
<line x1="160.5" y1="631.9" x2="160.5" y2="635.5" stroke="#111" stroke-width="1.0" />
<text transform="translate(160.5 650) scale(0.93 1)" font-size="15.6" text-anchor="middle" fill="#000" stroke="#000" >1</text>
<line x1="183.6" y1="631.9" x2="183.6" y2="633.9" stroke="#111" stroke-width="1.0" />
<line x1="206.8" y1="631.9" x2="206.8" y2="635.5" stroke="#111" stroke-width="1.0" />
<text transform="translate(206.8 650) scale(0.93 1)" font-size="15.6" text-anchor="middle" fill="#000" stroke="#000" >2</text>
<line x1="229.9" y1="631.9" x2="229.9" y2="633.9" stroke="#111" stroke-width="1.0" />
<line x1="102.2" y1="615" x2="98.6" y2="615" stroke="#111" stroke-width="1.0" />
<text transform="translate(96 619.6) scale(0.93 1)" font-size="15.6" text-anchor="end" fill="#000" stroke="#000" >0</text>
<line x1="102.2" y1="598" x2="100.2" y2="598" stroke="#111" stroke-width="1.0" />
<line x1="102.2" y1="581.1" x2="98.6" y2="581.1" stroke="#111" stroke-width="1.0" />
<text transform="translate(96 585.7) scale(0.93 1)" font-size="15.6" text-anchor="end" fill="#000" stroke="#000" >1</text>
<line x1="102.2" y1="564.2" x2="100.2" y2="564.2" stroke="#111" stroke-width="1.0" />
<line x1="102.2" y1="547.2" x2="98.6" y2="547.2" stroke="#111" stroke-width="1.0" />
<text transform="translate(96 551.8) scale(0.93 1)" font-size="15.6" text-anchor="end" fill="#000" stroke="#000" >2</text>
<text transform="translate(84 581.3) rotate(-90) scale(1.04 1)" font-size="14.6" text-anchor="middle" fill="#000" stroke="#000" >ECG (mV)</text>
<polyline points="114.2,619.1 114.6,619.2 115,618.8 115.4,618.6 115.8,618.2 116.2,618.3 116.6,618.3 117,618.4 117.4,618.7 117.8,618.6 118.2,618.9 118.6,619.2 119,618.9 119.4,614.2 119.8,592.8 120.2,560.5 120.6,555.2 121,584.7 121.4,611.1 121.8,619.3 122.2,619.5 122.6,618.8 123,618.2 123.4,617.9 123.8,617.5 124.2,617 124.6,616.5 125,615.9 125.4,615.5 125.8,614.7 126.2,613.6 126.6,612.2 127,610.6 127.4,609.4 127.8,608.4 128.2,607.4 128.6,606.7 129,606.4 129.4,606.2 129.8,606.6 130.2,607.5 130.6,608.6 131,610.4 131.4,611.9 131.8,613.4 132.2,614.7 132.6,615.6 133,616.5 133.4,617 133.8,617.6 134.2,617.9 134.6,618.2 135,618.2 135.4,618.1 135.8,618 136.2,617.9 136.6,617.9 137,617.9 137.4,618.1 137.8,618.2 138.2,618.2 138.6,618.2 139,618.2 139.4,618.1 139.8,618.2 140.2,618.2 140.6,618.3 141,618.7 141.4,619 141.8,619 142.2,618.7 142.6,618.4 143,617.9 143.4,617.9 143.8,618.4 144.2,618.5 144.6,618.9 145,619.2 145.4,618.9 145.8,618.7 146.2,618.3 146.6,617.9 147,618 147.4,618.3 147.8,618.7 148.2,619 148.6,619.3 149,619.5 149.4,618.6 149.8,611 150.2,584.1 150.6,551.1 151,553.6 151.4,588.3 151.8,612.8 152.2,618.9 152.6,619.3 153,618.6 153.4,618.2 153.8,618 154.2,617.5 154.6,617.1 155,616.6 155.4,616.2 155.8,615.5 156.2,614.6 156.6,613.5 157,612.2 157.4,611 157.8,609.6 158.2,608.6 158.6,607.7 159,607 159.4,606.8 159.8,606.8 160.2,607.4 160.6,608.1 161,609.5 161.4,610.8 161.8,612.2 162.2,613.8 162.6,615 163,616.2 163.4,617 163.8,617.4 164.2,617.8 164.6,618.2 165,618.5 165.4,618.6 165.8,618.4 166.2,618.3 166.6,617.9 167,618 167.4,618.1 167.8,617.9 168.2,618.2 168.6,618.3 169,618.4 169.4,618.4 169.8,618.3 170.2,618.3 170.6,618.1 171,618.4 171.4,618.5 171.8,618.6 172.2,618.9 172.6,618.8 173,618.7 173.4,618.4 173.8,618.2 174.2,618.2 174.6,618.1 175,618.4 175.4,618 175.8,618.2 176.2,618.6 176.6,618.7 177,619.2 177.4,619 177.8,619.1 178.2,619.1 178.6,619.2 179,619 179.4,612 179.8,586.2 180.2,551.3 180.6,550.2 181,584.5 181.4,611.4 181.8,619.2 182.2,619.3 182.6,619 183,618.7 183.4,618.2 183.8,618 184.2,617.5 184.6,617 185,616.4 185.4,615.4 185.8,614.5 186.2,613.3 186.6,612 187,610.9 187.4,609.5 187.8,608.4 188.2,607.5 188.6,606.7 189,606.5 189.4,606.6 189.8,607.1 190.2,608.1 190.6,609 191,610.2 191.4,611.6 191.8,613 192.2,614 192.6,615.3 193,616.3 193.4,617.2 193.8,618 194.2,618.2 194.6,618.3 195,618.4 195.4,618.2 195.8,618.2 196.2,618 196.6,618 197,618.2 197.4,618.1 197.8,618 198.2,617.8 198.6,617.7 199,618 199.4,618.3 199.8,618.4 200.2,618.6 200.6,618.6 201,618.6 201.4,618.6 201.8,618.7 202.2,618.6 202.6,618.6 203,618.8 203.4,618.8 203.8,619.2 204.2,619.3 204.6,619.1 205,619 205.4,618.7 205.8,618.4 206.2,618.7 206.6,618.6 207,618.6 207.4,619 207.8,619.1 208.2,619.1 208.6,619.1 209,619 209.4,615.3 209.8,597.3 210.2,565.4 210.6,554.6 211,580.6 211.4,608.3 211.8,617.9 212.2,618.6 212.6,618.4 213,618 213.4,617.9 213.8,618 214.2,617.5 214.6,617 215,616.7 215.4,615.7 215.8,614.7 216.2,613.8 216.6,612.6 217,611.4 217.4,610.1 217.8,608.8 218.2,607.9 218.6,607.2 219,606.8 219.4,606.7 219.8,607.1 220.2,607.6 220.6,608.8 221,610 221.4,611.3 221.8,613 222.2,614.2 222.6,615.6 223,616.5 223.4,617.2 223.8,617.7 224.2,618 224.6,618.2 225,618.1 225.4,618.5 225.8,618.5 226.2,618.6 226.6,618.7 227,618.1 227.4,618.2 227.8,618.2 228.2,618.3 228.6,618.4 229,618.1 229.4,618.2 229.8,618.1" fill="none" stroke="#000" stroke-width="1.0" stroke-linejoin="round" />
<polyline points="68.1,528.1 253.8,528.1 253.8,653.3" fill="none" stroke="#111" stroke-width="1.9" stroke-linejoin="round" stroke-dasharray="8.2 6.8"/>
<polyline points="68.1,528.1 68.1,653.3 253.8,653.3" fill="none" stroke="#111" stroke-width="1.9" stroke-linejoin="round" stroke-dasharray="8.2 6.8"/>
<line x1="68.1" y1="653.3" x2="168.5" y2="672" stroke="#111" stroke-width="1.9" stroke-dasharray="8.2 6.8"/>
<line x1="253.8" y1="653.3" x2="168.5" y2="672" stroke="#111" stroke-width="1.9" stroke-dasharray="8.2 6.8"/>
<rect x="391.5" y="532.8" width="138.8" height="100.4" fill="#fff" stroke="#333" stroke-width="1.2" />
<line x1="402.9" y1="633.2" x2="402.9" y2="636.8" stroke="#111" stroke-width="1.0" />
<text transform="translate(402.9 651.6) scale(0.93 1)" font-size="15.6" text-anchor="middle" fill="#000" stroke="#000" >0</text>
<line x1="426" y1="633.2" x2="426" y2="635.2" stroke="#111" stroke-width="1.0" />
<line x1="449.1" y1="633.2" x2="449.1" y2="636.8" stroke="#111" stroke-width="1.0" />
<text transform="translate(449.1 651.6) scale(0.93 1)" font-size="15.6" text-anchor="middle" fill="#000" stroke="#000" >1</text>
<line x1="472.2" y1="633.2" x2="472.2" y2="635.2" stroke="#111" stroke-width="1.0" />
<line x1="495.3" y1="633.2" x2="495.3" y2="636.8" stroke="#111" stroke-width="1.0" />
<text transform="translate(495.3 651.6) scale(0.93 1)" font-size="15.6" text-anchor="middle" fill="#000" stroke="#000" >2</text>
<line x1="518.4" y1="633.2" x2="518.4" y2="635.2" stroke="#111" stroke-width="1.0" />
<line x1="391.5" y1="616.5" x2="387.9" y2="616.5" stroke="#111" stroke-width="1.0" />
<text transform="translate(385.3 621.1) scale(0.93 1)" font-size="15.6" text-anchor="end" fill="#000" stroke="#000" >0</text>
<line x1="391.5" y1="599.7" x2="389.5" y2="599.7" stroke="#111" stroke-width="1.0" />
<line x1="391.5" y1="582.9" x2="387.9" y2="582.9" stroke="#111" stroke-width="1.0" />
<text transform="translate(385.3 587.5) scale(0.93 1)" font-size="15.6" text-anchor="end" fill="#000" stroke="#000" >1</text>
<line x1="391.5" y1="566.1" x2="389.5" y2="566.1" stroke="#111" stroke-width="1.0" />
<line x1="391.5" y1="549.3" x2="387.9" y2="549.3" stroke="#111" stroke-width="1.0" />
<text transform="translate(385.3 553.9) scale(0.93 1)" font-size="15.6" text-anchor="end" fill="#000" stroke="#000" >2</text>
<text transform="translate(373.2 583.1) rotate(-90) scale(1.04 1)" font-size="14.6" text-anchor="middle" fill="#000" stroke="#000" >ECG (mV)</text>
<polyline points="402.9,620.1 403.3,620.4 403.7,620.6 404.1,620.6 404.5,620.5 404.9,620.8 405.3,619.7 405.7,609.3 406.1,579.6 406.5,551.7 406.9,563 407.3,597 407.7,616.5 408.1,620.1 408.5,620.1 408.9,619.6 409.3,619.8 409.7,619.9 410.1,619.5 410.5,619.3 410.9,618.6 411.3,617.9 411.7,617.1 412.1,616.6 412.5,615.8 412.9,614.9 413.3,614.9 413.7,614.8 414.1,615.3 414.5,616.6 414.9,617.3 415.3,618.2 415.7,619.1 416.1,619.6 416.5,620.1 416.9,620.3 417.3,620.4 417.7,620.5 418.1,620 418.5,620.1 418.9,619.9 419.3,619.9 419.7,620 420.1,620 420.5,620 420.9,619.7 421.3,619.8 421.7,619.8 422.1,619.8 422.5,620 422.9,620.2 423.3,620.3 423.7,620.4 424.1,620.7 424.5,620.7 424.9,620.6 425.3,620.8 425.7,620.7 426.1,620.4 426.5,620.6 426.9,620.3 427.3,619.9 427.7,620 428.1,619.7 428.5,619.7 428.9,619.8 429.3,620.1 429.7,620.4 430.1,620.6 430.5,620.7 430.9,620.7 431.3,617.6 431.7,600.9 432.1,566.6 432.5,548.2 432.9,572.5 433.3,605.3 433.7,618.7 434.1,620.3 434.5,620 434.9,619.9 435.3,619.8 435.7,619.8 436.1,619.3 436.5,619 436.9,618.6 437.3,618.3 437.7,617.7 438.1,616.7 438.5,616 438.9,615 439.3,614.7 439.7,614.9 440.1,615.3 440.5,616.5 440.9,617.3 441.3,618.3 441.7,619.1 442.1,619.5 442.5,620.1 442.9,620.1 443.3,620.2 443.7,620.2 444.1,619.8 444.5,619.9 444.9,619.8 445.3,619.5 445.7,619.6 446.1,619.3 446.5,619.5 446.9,619.7 447.3,619.8 447.7,619.9 448.1,619.9 448.5,620 448.9,619.9 449.3,620.1 449.7,620 450.1,620.1 450.5,620.2 450.9,620.5 451.3,620.7 451.7,620.8 452.1,620.9 452.5,620.6 452.9,620.7 453.3,620.4 453.7,620.3 454.1,619.8 454.5,619.5 454.9,619.6 455.3,619.8 455.7,620.4 456.1,620.5 456.5,620.6 456.9,620.5 457.3,620.6 457.7,616.6 458.1,597.6 458.5,564.2 458.9,553.1 459.3,580.4 459.7,609.4 460.1,619.7 460.5,620.5 460.9,620.3 461.3,619.8 461.7,619.6 462.1,619 462.5,618.8 462.9,618.6 463.3,618 463.7,617.7 464.1,616.9 464.5,615.8 464.9,615 465.3,614.7 465.7,614.5 466.1,614.8 466.5,615.7 466.9,616.3 467.3,617.3 467.7,618.3 468.1,618.9 468.5,619.8 468.9,620.1 469.3,620.3 469.7,620.4 470.1,620.1 470.5,619.9 470.9,619.7 471.3,619.5 471.7,619.4 472.1,619.4 472.5,619.4 472.9,619.3 473.3,619.6 473.7,619.9 474.1,619.7 474.5,620 474.9,620.1 475.3,620 475.7,620.3 476.1,620 476.5,619.9 476.9,619.9 477.3,620.1 477.7,620.3 478.1,620.7 478.5,620.7 478.9,620.2 479.3,620 479.7,619.4 480.1,619.3 480.5,619.6 480.9,619.9 481.3,620.2 481.7,620.6 482.1,620.6 482.5,620.7 482.9,620.7 483.3,620.2 483.7,613.2 484.1,587.5 484.5,556.6 484.9,559.4 485.3,591.6 485.7,614.9 486.1,620.9 486.5,620.6 486.9,620.1 487.3,619.8 487.7,619.7 488.1,619.5 488.5,619.1 488.9,618.5 489.3,618 489.7,617.4 490.1,616.9 490.5,616.2 490.9,615.3 491.3,614.5 491.7,614.3 492.1,614.7 492.5,615.6 492.9,616.8 493.3,618.1 493.7,618.9 494.1,619.3 494.5,620 494.9,619.8 495.3,619.7 495.7,619.9 496.1,619.6 496.5,619.8 496.9,620 497.3,619.7 497.7,619.7 498.1,619.7 498.5,619.8 498.9,619.9 499.3,620.2 499.7,620.3 500.1,620.2 500.5,620.4 500.9,620.3 501.3,620 501.7,620.2 502.1,620 502.5,620.3 502.9,620.6 503.3,620.3 503.7,620.1 504.1,620.1 504.5,619.7 504.9,619.6 505.3,619.7 505.7,619.4 506.1,619.5 506.5,619.4 506.9,619.6 507.3,619.9 507.7,620.3 508.1,620.9 508.5,621.3 508.9,618.6 509.3,602.8 509.7,568.4 510.1,548.2 510.5,571.4 510.9,604.7 511.3,619.1 511.7,621.1 512.1,620.3 512.5,619.8 512.9,619.6 513.3,619.4 513.7,619.4 514.1,619.1 514.5,618.8 514.9,618.2 515.3,617.4 515.7,616.7 516.1,615.9 516.5,615.1 516.9,614.9 517.3,615.1 517.7,615.4 518.1,616.2" fill="none" stroke="#e02020" stroke-width="1.0" stroke-linejoin="round" />
<polyline points="357,529.7 543.5,529.7 543.5,655.1" fill="none" stroke="#111" stroke-width="1.9" stroke-linejoin="round" stroke-dasharray="8.2 6.8"/>
<polyline points="357,529.7 357,655.1 543.5,655.1" fill="none" stroke="#111" stroke-width="1.9" stroke-linejoin="round" stroke-dasharray="8.2 6.8"/>
<line x1="357" y1="655.1" x2="459.2" y2="672.5" stroke="#111" stroke-width="1.9" stroke-dasharray="8.2 6.8"/>
<line x1="543.5" y1="655.1" x2="459.2" y2="672.5" stroke="#111" stroke-width="1.9" stroke-dasharray="8.2 6.8"/>
<rect x="669.5" y="531.5" width="138.8" height="101.5" fill="#fff" stroke="#333" stroke-width="1.2" />
<line x1="680.9" y1="633" x2="680.9" y2="636.6" stroke="#111" stroke-width="1.0" />
<text transform="translate(680.9 650.9) scale(0.93 1)" font-size="15.6" text-anchor="middle" fill="#000" stroke="#000" >0</text>
<line x1="704" y1="633" x2="704" y2="635" stroke="#111" stroke-width="1.0" />
<line x1="727.1" y1="633" x2="727.1" y2="636.6" stroke="#111" stroke-width="1.0" />
<text transform="translate(727.1 650.9) scale(0.93 1)" font-size="15.6" text-anchor="middle" fill="#000" stroke="#000" >1</text>
<line x1="750.2" y1="633" x2="750.2" y2="635" stroke="#111" stroke-width="1.0" />
<line x1="773.3" y1="633" x2="773.3" y2="636.6" stroke="#111" stroke-width="1.0" />
<text transform="translate(773.3 650.9) scale(0.93 1)" font-size="15.6" text-anchor="middle" fill="#000" stroke="#000" >2</text>
<line x1="796.4" y1="633" x2="796.4" y2="635" stroke="#111" stroke-width="1.0" />
<line x1="669.5" y1="616" x2="665.9" y2="616" stroke="#111" stroke-width="1.0" />
<text transform="translate(663.3 620.6) scale(0.93 1)" font-size="15.6" text-anchor="end" fill="#000" stroke="#000" >0</text>
<line x1="669.5" y1="599" x2="667.5" y2="599" stroke="#111" stroke-width="1.0" />
<line x1="669.5" y1="582" x2="665.9" y2="582" stroke="#111" stroke-width="1.0" />
<text transform="translate(663.3 586.6) scale(0.93 1)" font-size="15.6" text-anchor="end" fill="#000" stroke="#000" >1</text>
<line x1="669.5" y1="565" x2="667.5" y2="565" stroke="#111" stroke-width="1.0" />
<line x1="669.5" y1="548" x2="665.9" y2="548" stroke="#111" stroke-width="1.0" />
<text transform="translate(663.3 552.6) scale(0.93 1)" font-size="15.6" text-anchor="end" fill="#000" stroke="#000" >2</text>
<text transform="translate(651 582.2) rotate(-90) scale(1.04 1)" font-size="14.6" text-anchor="middle" fill="#000" stroke="#000" >ECG (mV)</text>
<polyline points="680.9,620.1 681.3,620.1 681.7,620.3 682.1,620.6 682.5,620.2 682.9,620.2 683.3,619.9 683.7,619.6 684.1,619.7 684.5,619.5 684.9,619.5 685.3,619.5 685.7,619.5 686.1,619.8 686.5,620 686.9,620.2 687.3,620.3 687.7,620.1 688.1,619.9 688.5,617.4 688.9,602.2 689.3,569.4 689.7,550.7 690.1,573.1 690.5,604.9 690.9,618.2 691.3,620 691.7,619.4 692.1,618.7 692.5,618.6 692.9,618.4 693.3,618.3 693.7,617.8 694.1,616.7 694.5,615.6 694.9,614.3 695.3,613.5 695.7,613.1 696.1,613 696.5,613.6 696.9,614.7 697.3,615.9 697.7,617.1 698.1,618.1 698.5,618.9 698.9,619.5 699.3,619.6 699.7,619.6 700.1,619.5 700.5,619.4 700.9,619.5 701.3,619.4 701.7,619.5 702.1,619.5 702.5,619.1 702.9,619.2 703.3,619.3 703.7,619.3 704.1,619.6 704.5,619.8 704.9,619.6 705.3,619.7 705.7,619.4 706.1,619.5 706.5,619.7 706.9,619.7 707.3,619.9 707.7,619.7 708.1,619.4 708.5,619.2 708.9,619.2 709.3,619.2 709.7,619.5 710.1,619.8 710.5,620 710.9,620.1 711.3,620 711.7,620 712.1,619.8 712.5,617.9 712.9,604.3 713.3,572.9 713.7,553 714.1,572.5 714.5,603.8 714.9,618.1 715.3,620.1 715.7,619.7 716.1,619 716.5,618.9 716.9,618.5 717.3,618.2 717.7,617.6 718.1,616.7 718.5,615.5 718.9,614.5 719.3,613.6 719.7,613.1 720.1,613.5 720.5,613.9 720.9,615 721.3,616.2 721.7,617.3 722.1,618.7 722.5,619.5 722.9,619.7 723.3,620.1 723.7,619.8 724.1,619.6 724.5,619.7 724.9,619.3 725.3,619.2 725.7,619.4 726.1,619.1 726.5,619.3 726.9,619.4 727.3,619.2 727.7,619.4 728.1,619.4 728.5,619.9 728.9,619.9 729.3,619.7 729.7,619.8 730.1,619.6 730.5,619.8 730.9,619.8 731.3,619.7 731.7,619.4 732.1,619.5 732.5,619.6 732.9,619.7 733.3,619.8 733.7,619.7 734.1,619.9 734.5,620 734.9,620.4 735.3,620.2 735.7,616 736.1,596.1 736.5,561.2 736.9,549.9 737.3,578.6 737.7,608.7 738.1,619.2 738.5,620 738.9,619.5 739.3,619 739.7,618.8 740.1,618.4 740.5,617.9 740.9,617.1 741.3,616.1 741.7,615.2 742.1,614.2 742.5,613.6 742.9,613.3 743.3,613.3 743.7,613.9 744.1,615.1 744.5,616.3 744.9,617.5 745.3,618.7 745.7,619.1 746.1,619.5 746.5,619.7 746.9,619.9 747.3,620 747.7,619.9 748.1,619.5 748.5,619.3 748.9,619.3 749.3,619.1 749.7,619.3 750.1,619.2 750.5,619.1 750.9,619.3 751.3,619.4 751.7,619.8 752.1,619.9 752.5,620 752.9,620.3 753.3,620 753.7,620 754.1,619.9 754.5,619.7 754.9,619.6 755.3,619.2 755.7,619.4 756.1,619.4 756.5,619.6 756.9,620 757.3,619.7 757.7,619.6 758.1,619.8 758.5,619.9 758.9,619.9 759.3,615.1 759.7,592.6 760.1,557.3 760.5,549.9 760.9,581.2 761.3,610.3 761.7,619.8 762.1,620.2 762.5,619.7 762.9,619.2 763.3,618.5 763.7,618.3 764.1,617.7 764.5,616.9 764.9,616.2 765.3,615.1 765.7,614.1 766.1,613.6 766.5,613.2 766.9,613.4 767.3,614.1 767.7,615.2 768.1,616.5 768.5,617.5 768.9,618.6 769.3,619.4 769.7,619.6 770.1,619.8 770.5,619.6 770.9,619.4 771.3,619.4 771.7,619.1 772.1,619 772.5,618.9 772.9,618.8 773.3,619 773.7,619.2 774.1,619.5 774.5,619.5 774.9,619.7 775.3,619.7 775.7,619.8 776.1,620.2 776.5,620.3 776.9,620.3 777.3,620.4 777.7,620.4 778.1,620.2 778.5,620.1 778.9,620 779.3,619.9 779.7,619.7 780.1,619.5 780.5,619.5 780.9,619.4 781.3,619.9 781.7,620.4 782.1,620.3 782.5,620.1 782.9,620.2 783.3,620 783.7,620.3 784.1,618.4 784.5,603.9 784.9,571 785.3,548.8 785.7,568.9 786.1,602.3 786.5,617.6 786.9,620.1 787.3,619.6 787.7,619.4 788.1,619.4 788.5,618.9 788.9,618.2 789.3,617.4 789.7,616.5 790.1,615.4 790.5,614.6 790.9,613.8 791.3,613.4 791.7,613.5 792.1,614 792.5,615.1 792.9,616 793.3,617 793.7,618 794.1,618.5 794.5,619.1 794.9,619.2 795.3,619.2 795.7,619.3 796.1,619.4" fill="none" stroke="#2222c8" stroke-width="1.0" stroke-linejoin="round" />
<polyline points="634.7,528.4 821.2,528.4 821.2,654" fill="none" stroke="#111" stroke-width="1.9" stroke-linejoin="round" stroke-dasharray="8.2 6.8"/>
<polyline points="634.7,528.4 634.7,654 821.2,654" fill="none" stroke="#111" stroke-width="1.9" stroke-linejoin="round" stroke-dasharray="8.2 6.8"/>
<line x1="634.7" y1="654" x2="736.2" y2="672" stroke="#111" stroke-width="1.9" stroke-dasharray="8.2 6.8"/>
<line x1="821.2" y1="654" x2="736.2" y2="672" stroke="#111" stroke-width="1.9" stroke-dasharray="8.2 6.8"/>
<line x1="168.6" y1="661.6" x2="168.6" y2="693.6" stroke="#000" stroke-width="3.0" />
<line x1="459.2" y1="661.6" x2="459.2" y2="693.6" stroke="#000" stroke-width="3.0" />
<line x1="736.3" y1="661.6" x2="736.3" y2="693.6" stroke="#000" stroke-width="3.0" />
</g>
<!-- panel_ef -->
<g>
<text transform="translate(40.2 781.4) scale(0.94 1)" font-size="29.2" text-anchor="start" fill="#000" stroke="#000" >E</text>
<text transform="translate(479.2 784.6) scale(0.94 1)" font-size="29.2" text-anchor="start" fill="#000" stroke="#000" >F</text>
<polyline points="40.1,907.3 162.4,761.4 400.9,761.4 400.9,833" fill="none" stroke="#b2b2b2" stroke-width="0.9" stroke-linejoin="round" />
<line x1="162.4" y1="761.4" x2="162.4" y2="832" stroke="#b2b2b2" stroke-width="0.9" />
<line x1="40.1" y1="1006.7" x2="61" y2="976.8" stroke="#b2b2b2" stroke-width="0.9" />
<text transform="translate(397.8 775.3) scale(1.03 1)" font-size="16.2" text-anchor="end" fill="#000" stroke="#000" >FBH</text>
<polygon points="150.5,848.5 150.5,818.7 150.9,818.8 151.3,818.6 151.7,818.6 152.1,818.6 152.5,818.5 152.9,818.6 153.3,818.7 153.7,818.7 154.1,818.7 154.5,818.7 154.9,818.7 155.3,818.7 155.7,818.8 156.1,818.8 156.5,818.7 156.9,818.5 157.3,818.1 157.7,818 158.1,817.8 158.5,817.9 158.9,818.2 159.3,818.3 159.7,818.3 160.1,818.5 160.5,818.4 160.9,818.4 161.3,818.4 161.7,818.4 162.1,818.5 162.5,818 162.9,814.9 163.3,806.6 163.7,792.7 164.1,779.3 164.5,775.9 164.9,785 165.3,799.6 165.7,810.7 166.1,816.2 166.5,817.7 166.9,817.6 167.3,817.3 167.7,816.9 168.1,816.7 168.5,816.4 168.9,816.3 169.3,816.3 169.7,816.2 170.1,816.1 170.5,815.8 170.9,815.4 171.3,815 171.7,814.7 172.1,814.7 172.5,814.3 172.9,814.2 173.3,813.9 173.7,813.5 174.1,813.4 174.5,813.2 174.9,813.1 175.3,813.2 175.7,813.1 176.1,812.9 176.5,812.9 176.9,812.8 177.3,813 177.7,813.5 178.1,813.8 178.5,814.3 178.9,814.7 179.3,815.1 179.7,815.6 180.1,816.1 180.5,816.5 180.9,817 181.3,817.5 181.7,817.6 182.1,817.9 182.5,817.9 182.9,818.1 183.3,818.2 183.7,818.3 184.1,818.2 184.5,818.2 184.9,818.3 185.3,818.3 185.7,818.5 186.1,818.5 186.5,818.5 186.9,818.6 187.3,818.8 187.7,818.8 188.1,818.8 188.5,818.5 188.9,818.4 189.3,818.4 189.7,818.5 190.1,818.5 190.5,818.5 190.9,818.2 191.3,818.2 191.7,818.2 192.1,818.2 192.5,818.4 192.9,818.3 193.3,818.5 193.7,818.5 194.1,818.5 194.5,818.5 194.9,818.4 195.3,818.6 195.7,818.6 196.1,818.7 196.5,818.8 196.9,818.6 197.3,818.6 197.7,818.6 198.1,818.5 198.5,818.5 198.9,818.6 199.3,818.5 199.7,818.6 200.1,818.5 200.5,818.5 200.9,818.7 201.3,818.7 201.7,818.7 202.1,818.8 202.5,818.8 202.9,818.7 203.3,818.7 203.7,818.6 204.1,818.5 204.5,818.3 204.9,818.1 205.3,818 205.7,817.9 206.1,818 206.5,818.3 206.9,818.4 207.3,818.6 207.7,818.8 208.1,818.7 208.5,818.8 208.9,818.7 209.3,818.5 209.7,816.9 210.1,811.6 210.5,800.3 210.9,785.9 211.3,776.8 211.7,779.9 212.1,792.9 212.5,806.3 212.9,814.2 213.3,817.3 213.7,817.9 214.1,817.5 214.5,817.4 214.9,817.1 215.3,816.8 215.7,816.5 216.1,816.2 216.5,816 216.9,815.8 217.3,815.6 217.7,815.5 218.1,815.3 218.5,815.1 218.9,814.8 219.3,814.6 219.7,814.3 220.1,814.2 220.5,814 220.9,813.5 221.3,813.4 221.7,813.1 222.1,812.9 222.5,812.9 222.9,812.8 223.3,812.8 223.7,812.6 224.1,812.7 224.5,812.9 224.9,813.3 225.3,813.9 225.7,814.3 226.1,814.7 226.5,815.2 226.9,815.6 227.3,816.1 227.7,816.6 228.1,817 228.5,817.2 228.9,817.6 229.3,817.8 229.7,817.8 230.1,818 230.5,818 230.9,818.1 231.3,818.3 231.7,818.5 232.1,818.5 232.5,818.5 232.9,818.4 233.3,818.4 233.7,818.5 234.1,818.4 234.5,818.4 234.9,818.4 235.3,818.3 235.7,818.2 236.1,818.2 236.5,818.3 236.9,818.2 237.3,818.2 237.7,818.3 238.1,818.4 238.5,818.5 238.9,818.5 239.3,818.7 239.7,818.6 240.1,818.4 240.5,818.5 240.9,818.3 241.3,818.3 241.7,818.5 242.1,818.6 242.5,818.6 242.9,818.7 243.3,818.6 243.7,818.5 244.1,818.5 244.5,818.4 244.9,818.6 245.3,818.4 245.7,818.6 246.1,818.5 246.5,818.4 246.9,818.4 247.3,818.4 247.7,818.5 248.1,818.6 248.5,818.6 248.9,818.6 249.3,818.6 249.7,818.5 250.1,818.4 250.5,818.5 250.9,818.5 251.3,818.5 251.7,818.6 252.1,818.5 252.5,818.6 252.9,818.5 253.3,818.3 253.7,818 254.1,817.8 254.5,817.9 254.9,817.9 255.3,818.2 255.7,818.5 256.1,818.5 256.5,818.5 256.9,818.5 257.3,818.7 257.7,818.8 258.1,817.6 258.5,812.5 258.9,801.7 259.3,787.7 259.7,778.9 260.1,781.7 260.5,794 260.9,806.8 261.3,814.4 261.7,817.4 262.1,817.8 262.5,817.7 262.9,817.4 263.3,817.2 263.7,816.9 264.1,816.7 264.5,816.4 264.9,816.1 265.3,815.9 265.7,815.7 266.1,815.6 266.5,815.3 266.9,815 267.3,814.7 267.7,814.4 268.1,814.2 268.5,813.9 268.9,813.7 269.3,813.6 269.7,813.5 270.1,813.4 270.5,813.1 270.9,813 271.3,813.1 271.7,812.8 272.1,812.8 272.5,812.7 272.9,812.6 273.3,813.2 273.7,813.7 274.1,814.2 274.5,814.9 274.9,815.3 275.3,815.7 275.7,816.4 276.1,816.9 276.5,817.3 276.9,817.6 277.3,817.8 277.7,817.9 278.1,818.2 278.5,818.3 278.9,818.5 279.3,818.4 279.7,818.4 280.1,818.5 280.5,818.4 280.9,818.4 281.3,818.3 281.7,818.2 282.1,818.2 282.5,818.2 282.9,818.4 283.3,818.3 283.7,818.2 284.1,818.3 284.5,818.1 284.9,818.3 285.3,818.4 285.7,818.3 286.1,818.3 286.5,818.3 286.9,818.4 287.3,818.7 287.7,818.6 288.1,818.6 288.5,818.4 288.9,818.1 289.3,818.4 289.7,818.5 290.1,818.6 290.5,818.7 290.9,818.7 291.3,818.6 291.7,818.6 292.1,818.8 292.5,818.8 292.9,818.8 293.3,818.9 293.7,818.7 294.1,818.7 294.5,818.8 294.9,818.8 295.3,818.9 295.7,818.8 296.1,818.7 296.5,818.7 296.9,818.6 297.3,818.5 297.7,818.6 298.1,818.6 298.5,818.7 298.9,818.9 299.3,818.8 299.7,818.8 300.1,818.8 300.5,818.9 300.9,818.7 301.3,818.5 301.7,818.4 302.1,818.1 302.5,818 302.9,818 303.3,817.9 303.7,818.1 304.1,818.1 304.5,818.2 304.9,818.4 305.3,818.5 305.7,818.4 306.1,818.5 306.5,818.5 306.9,818.4 307.3,818.3 307.7,816.2 308.1,809.1 308.5,796.3 308.9,781.7 309.3,774.9 309.7,781.4 310.1,795.7 310.5,808.4 310.9,815.2 311.3,817.6 311.7,817.7 312.1,817.5 312.5,817.3 312.9,817.1 313.3,816.7 313.7,816.5 314.1,816.2 314.5,815.9 314.9,815.8 315.3,815.6 315.7,815.6 316.1,815.2 316.5,814.9 316.9,814.6 317.3,814.2 317.7,814 318.1,813.9 318.5,813.7 318.9,813.4 319.3,813.3 319.7,813.2 320.1,813.2 320.5,813.1 320.9,812.9 321.3,812.9 321.7,812.7 322.1,812.8 322.5,813.1 322.9,813.4 323.3,813.9 323.7,814.3 324.1,814.8 324.5,815.2 324.9,815.9 325.3,816.5 325.7,817.1 326.1,817.5 326.5,817.7 326.9,817.7 327.3,817.9 327.7,818.1 328.1,818.3 328.5,818.6 328.9,818.4 329.3,818.5 329.7,818.5 330.1,818.5 330.5,818.6 330.9,818.5 331.3,818.5 331.7,818.3 332.1,818.1 332.5,818 332.9,818 333.3,818.1 333.7,818.2 334.1,818.3 334.5,818.4 334.9,818.3 335.3,818.3 335.7,818.3 336.1,818.2 336.5,818.4 336.9,818.5 337.3,818.4 337.7,818.4 338.1,818.4 338.5,818.4 338.9,818.4 339.3,818.4 339.7,818.5 340.1,818.3 340.5,818.5 340.9,818.4 341.3,818.4 341.7,818.5 342.1,818.4 342.5,818.5 342.9,818.6 343.3,818.5 343.7,818.3 344.1,818.4 344.5,818.4 344.9,818.6 345.3,818.7 345.7,818.6 346.1,818.6 346.5,818.5 346.9,818.6 347.3,818.6 347.7,818.6 348.1,818.6 348.5,818.7 348.9,818.7 349.3,818.5 349.7,818.5 350.1,818.4 350.5,818.4 350.9,818.5 351.3,818.5 351.7,818.5 352.1,818.4 352.5,818.4 352.9,818.1 353.3,818 353.7,817.9 354.1,817.9 354.5,818 354.9,818 355.3,818.2 355.7,818.2 356.1,818.2 356.5,818.5 356.9,818.5 357.3,818.6 357.7,818.6 358.1,817.9 358.5,815 358.9,806.6 359.3,792.9 359.7,779.5 360.1,776 360.5,785 360.9,799.5 361.3,810.9 361.7,816.1 362.1,817.8 362.5,817.7 362.9,817.3 363.3,817.1 363.7,816.9 364.1,816.6 364.5,816.4 364.9,816.1 365.3,815.8 365.7,815.7 366.1,815.6 366.5,815.5 366.9,815.2 367.3,815.1 367.7,814.6 368.1,814.3 368.5,814.3 368.9,814.1 369.3,814 369.7,813.7 370.1,813.4 370.5,813.2 370.9,813 371.3,812.9 371.7,812.8 372.1,812.9 372.5,812.9 372.9,813.1 373.3,813.2 373.7,813.5 374.1,814.1 374.5,814.6 374.9,814.9 375.3,815.3 375.7,815.7 376.1,816.1 376.5,816.8 376.9,817.2 377.3,817.7 377.7,818 378.1,818.1 378.5,818.2 378.9,818.2 379.3,818.2 379.7,818.4 380.1,818.3 380.5,818.2 380.9,818.2 381.3,818.3 381.7,818.4 382.1,818.4 382.5,818.4 382.9,818.4 383.3,818.3 383.7,818.3 384.1,818.2 384.5,818.1 384.9,818.2 385.3,818.3 385.7,818.3 386.1,818.2 386.5,818.3 386.9,818.2 387.3,818.1 387.7,818.1 388.1,818 388.5,818.1 388.9,818.3 389.3,818.3 389.7,818.4 390.1,818.5 390.5,818.5 390.9,818.5 391.3,818.5 391.7,818.5 392.1,818.5 392.5,818.5 392.9,818.6 393.3,818.5 393.7,818.5 394.1,818.6 394.5,818.6 394.9,818.6 395.3,818.6 395.7,818.7 396.1,818.8 396.5,818.8 396.9,818.8 397.3,818.8 397.7,818.8 398.1,818.9 398.5,818.7 398.9,818.8 398.9,848.5" fill="#00ffff" stroke="none" stroke-width="1" />
<polyline points="150.5,818.7 150.9,818.8 151.3,818.6 151.7,818.6 152.1,818.6 152.5,818.5 152.9,818.6 153.3,818.7 153.7,818.7 154.1,818.7 154.5,818.7 154.9,818.7 155.3,818.7 155.7,818.8 156.1,818.8 156.5,818.7 156.9,818.5 157.3,818.1 157.7,818 158.1,817.8 158.5,817.9 158.9,818.2 159.3,818.3 159.7,818.3 160.1,818.5 160.5,818.4 160.9,818.4 161.3,818.4 161.7,818.4 162.1,818.5 162.5,818 162.9,814.9 163.3,806.6 163.7,792.7 164.1,779.3 164.5,775.9 164.9,785 165.3,799.6 165.7,810.7 166.1,816.2 166.5,817.7 166.9,817.6 167.3,817.3 167.7,816.9 168.1,816.7 168.5,816.4 168.9,816.3 169.3,816.3 169.7,816.2 170.1,816.1 170.5,815.8 170.9,815.4 171.3,815 171.7,814.7 172.1,814.7 172.5,814.3 172.9,814.2 173.3,813.9 173.7,813.5 174.1,813.4 174.5,813.2 174.9,813.1 175.3,813.2 175.7,813.1 176.1,812.9 176.5,812.9 176.9,812.8 177.3,813 177.7,813.5 178.1,813.8 178.5,814.3 178.9,814.7 179.3,815.1 179.7,815.6 180.1,816.1 180.5,816.5 180.9,817 181.3,817.5 181.7,817.6 182.1,817.9 182.5,817.9 182.9,818.1 183.3,818.2 183.7,818.3 184.1,818.2 184.5,818.2 184.9,818.3 185.3,818.3 185.7,818.5 186.1,818.5 186.5,818.5 186.9,818.6 187.3,818.8 187.7,818.8 188.1,818.8 188.5,818.5 188.9,818.4 189.3,818.4 189.7,818.5 190.1,818.5 190.5,818.5 190.9,818.2 191.3,818.2 191.7,818.2 192.1,818.2 192.5,818.4 192.9,818.3 193.3,818.5 193.7,818.5 194.1,818.5 194.5,818.5 194.9,818.4 195.3,818.6 195.7,818.6 196.1,818.7 196.5,818.8 196.9,818.6 197.3,818.6 197.7,818.6 198.1,818.5 198.5,818.5 198.9,818.6 199.3,818.5 199.7,818.6 200.1,818.5 200.5,818.5 200.9,818.7 201.3,818.7 201.7,818.7 202.1,818.8 202.5,818.8 202.9,818.7 203.3,818.7 203.7,818.6 204.1,818.5 204.5,818.3 204.9,818.1 205.3,818 205.7,817.9 206.1,818 206.5,818.3 206.9,818.4 207.3,818.6 207.7,818.8 208.1,818.7 208.5,818.8 208.9,818.7 209.3,818.5 209.7,816.9 210.1,811.6 210.5,800.3 210.9,785.9 211.3,776.8 211.7,779.9 212.1,792.9 212.5,806.3 212.9,814.2 213.3,817.3 213.7,817.9 214.1,817.5 214.5,817.4 214.9,817.1 215.3,816.8 215.7,816.5 216.1,816.2 216.5,816 216.9,815.8 217.3,815.6 217.7,815.5 218.1,815.3 218.5,815.1 218.9,814.8 219.3,814.6 219.7,814.3 220.1,814.2 220.5,814 220.9,813.5 221.3,813.4 221.7,813.1 222.1,812.9 222.5,812.9 222.9,812.8 223.3,812.8 223.7,812.6 224.1,812.7 224.5,812.9 224.9,813.3 225.3,813.9 225.7,814.3 226.1,814.7 226.5,815.2 226.9,815.6 227.3,816.1 227.7,816.6 228.1,817 228.5,817.2 228.9,817.6 229.3,817.8 229.7,817.8 230.1,818 230.5,818 230.9,818.1 231.3,818.3 231.7,818.5 232.1,818.5 232.5,818.5 232.9,818.4 233.3,818.4 233.7,818.5 234.1,818.4 234.5,818.4 234.9,818.4 235.3,818.3 235.7,818.2 236.1,818.2 236.5,818.3 236.9,818.2 237.3,818.2 237.7,818.3 238.1,818.4 238.5,818.5 238.9,818.5 239.3,818.7 239.7,818.6 240.1,818.4 240.5,818.5 240.9,818.3 241.3,818.3 241.7,818.5 242.1,818.6 242.5,818.6 242.9,818.7 243.3,818.6 243.7,818.5 244.1,818.5 244.5,818.4 244.9,818.6 245.3,818.4 245.7,818.6 246.1,818.5 246.5,818.4 246.9,818.4 247.3,818.4 247.7,818.5 248.1,818.6 248.5,818.6 248.9,818.6 249.3,818.6 249.7,818.5 250.1,818.4 250.5,818.5 250.9,818.5 251.3,818.5 251.7,818.6 252.1,818.5 252.5,818.6 252.9,818.5 253.3,818.3 253.7,818 254.1,817.8 254.5,817.9 254.9,817.9 255.3,818.2 255.7,818.5 256.1,818.5 256.5,818.5 256.9,818.5 257.3,818.7 257.7,818.8 258.1,817.6 258.5,812.5 258.9,801.7 259.3,787.7 259.7,778.9 260.1,781.7 260.5,794 260.9,806.8 261.3,814.4 261.7,817.4 262.1,817.8 262.5,817.7 262.9,817.4 263.3,817.2 263.7,816.9 264.1,816.7 264.5,816.4 264.9,816.1 265.3,815.9 265.7,815.7 266.1,815.6 266.5,815.3 266.9,815 267.3,814.7 267.7,814.4 268.1,814.2 268.5,813.9 268.9,813.7 269.3,813.6 269.7,813.5 270.1,813.4 270.5,813.1 270.9,813 271.3,813.1 271.7,812.8 272.1,812.8 272.5,812.7 272.9,812.6 273.3,813.2 273.7,813.7 274.1,814.2 274.5,814.9 274.9,815.3 275.3,815.7 275.7,816.4 276.1,816.9 276.5,817.3 276.9,817.6 277.3,817.8 277.7,817.9 278.1,818.2 278.5,818.3 278.9,818.5 279.3,818.4 279.7,818.4 280.1,818.5 280.5,818.4 280.9,818.4 281.3,818.3 281.7,818.2 282.1,818.2 282.5,818.2 282.9,818.4 283.3,818.3 283.7,818.2 284.1,818.3 284.5,818.1 284.9,818.3 285.3,818.4 285.7,818.3 286.1,818.3 286.5,818.3 286.9,818.4 287.3,818.7 287.7,818.6 288.1,818.6 288.5,818.4 288.9,818.1 289.3,818.4 289.7,818.5 290.1,818.6 290.5,818.7 290.9,818.7 291.3,818.6 291.7,818.6 292.1,818.8 292.5,818.8 292.9,818.8 293.3,818.9 293.7,818.7 294.1,818.7 294.5,818.8 294.9,818.8 295.3,818.9 295.7,818.8 296.1,818.7 296.5,818.7 296.9,818.6 297.3,818.5 297.7,818.6 298.1,818.6 298.5,818.7 298.9,818.9 299.3,818.8 299.7,818.8 300.1,818.8 300.5,818.9 300.9,818.7 301.3,818.5 301.7,818.4 302.1,818.1 302.5,818 302.9,818 303.3,817.9 303.7,818.1 304.1,818.1 304.5,818.2 304.9,818.4 305.3,818.5 305.7,818.4 306.1,818.5 306.5,818.5 306.9,818.4 307.3,818.3 307.7,816.2 308.1,809.1 308.5,796.3 308.9,781.7 309.3,774.9 309.7,781.4 310.1,795.7 310.5,808.4 310.9,815.2 311.3,817.6 311.7,817.7 312.1,817.5 312.5,817.3 312.9,817.1 313.3,816.7 313.7,816.5 314.1,816.2 314.5,815.9 314.9,815.8 315.3,815.6 315.7,815.6 316.1,815.2 316.5,814.9 316.9,814.6 317.3,814.2 317.7,814 318.1,813.9 318.5,813.7 318.9,813.4 319.3,813.3 319.7,813.2 320.1,813.2 320.5,813.1 320.9,812.9 321.3,812.9 321.7,812.7 322.1,812.8 322.5,813.1 322.9,813.4 323.3,813.9 323.7,814.3 324.1,814.8 324.5,815.2 324.9,815.9 325.3,816.5 325.7,817.1 326.1,817.5 326.5,817.7 326.9,817.7 327.3,817.9 327.7,818.1 328.1,818.3 328.5,818.6 328.9,818.4 329.3,818.5 329.7,818.5 330.1,818.5 330.5,818.6 330.9,818.5 331.3,818.5 331.7,818.3 332.1,818.1 332.5,818 332.9,818 333.3,818.1 333.7,818.2 334.1,818.3 334.5,818.4 334.9,818.3 335.3,818.3 335.7,818.3 336.1,818.2 336.5,818.4 336.9,818.5 337.3,818.4 337.7,818.4 338.1,818.4 338.5,818.4 338.9,818.4 339.3,818.4 339.7,818.5 340.1,818.3 340.5,818.5 340.9,818.4 341.3,818.4 341.7,818.5 342.1,818.4 342.5,818.5 342.9,818.6 343.3,818.5 343.7,818.3 344.1,818.4 344.5,818.4 344.9,818.6 345.3,818.7 345.7,818.6 346.1,818.6 346.5,818.5 346.9,818.6 347.3,818.6 347.7,818.6 348.1,818.6 348.5,818.7 348.9,818.7 349.3,818.5 349.7,818.5 350.1,818.4 350.5,818.4 350.9,818.5 351.3,818.5 351.7,818.5 352.1,818.4 352.5,818.4 352.9,818.1 353.3,818 353.7,817.9 354.1,817.9 354.5,818 354.9,818 355.3,818.2 355.7,818.2 356.1,818.2 356.5,818.5 356.9,818.5 357.3,818.6 357.7,818.6 358.1,817.9 358.5,815 358.9,806.6 359.3,792.9 359.7,779.5 360.1,776 360.5,785 360.9,799.5 361.3,810.9 361.7,816.1 362.1,817.8 362.5,817.7 362.9,817.3 363.3,817.1 363.7,816.9 364.1,816.6 364.5,816.4 364.9,816.1 365.3,815.8 365.7,815.7 366.1,815.6 366.5,815.5 366.9,815.2 367.3,815.1 367.7,814.6 368.1,814.3 368.5,814.3 368.9,814.1 369.3,814 369.7,813.7 370.1,813.4 370.5,813.2 370.9,813 371.3,812.9 371.7,812.8 372.1,812.9 372.5,812.9 372.9,813.1 373.3,813.2 373.7,813.5 374.1,814.1 374.5,814.6 374.9,814.9 375.3,815.3 375.7,815.7 376.1,816.1 376.5,816.8 376.9,817.2 377.3,817.7 377.7,818 378.1,818.1 378.5,818.2 378.9,818.2 379.3,818.2 379.7,818.4 380.1,818.3 380.5,818.2 380.9,818.2 381.3,818.3 381.7,818.4 382.1,818.4 382.5,818.4 382.9,818.4 383.3,818.3 383.7,818.3 384.1,818.2 384.5,818.1 384.9,818.2 385.3,818.3 385.7,818.3 386.1,818.2 386.5,818.3 386.9,818.2 387.3,818.1 387.7,818.1 388.1,818 388.5,818.1 388.9,818.3 389.3,818.3 389.7,818.4 390.1,818.5 390.5,818.5 390.9,818.5 391.3,818.5 391.7,818.5 392.1,818.5 392.5,818.5 392.9,818.6 393.3,818.5 393.7,818.5 394.1,818.6 394.5,818.6 394.9,818.6 395.3,818.6 395.7,818.7 396.1,818.8 396.5,818.8 396.9,818.8 397.3,818.8 397.7,818.8 398.1,818.9 398.5,818.7 398.9,818.8" fill="none" stroke="#101010" stroke-width="0.95" stroke-linejoin="round" />
<line x1="164.4" y1="815.1" x2="164.4" y2="777.4" stroke="#18b4c4" stroke-width="1.5" />
<line x1="211.4" y1="815.1" x2="211.4" y2="778.3" stroke="#18b4c4" stroke-width="1.5" />
<line x1="259.8" y1="815.1" x2="259.8" y2="780.8" stroke="#18b4c4" stroke-width="1.5" />
<line x1="309.3" y1="815.1" x2="309.3" y2="777.4" stroke="#18b4c4" stroke-width="1.5" />
<line x1="360" y1="815.1" x2="360" y2="777.8" stroke="#18b4c4" stroke-width="1.5" />
<polygon points="125.6,884.4 125.6,851.6 126,851.6 126.4,851.5 126.8,851.5 127.2,851.6 127.6,851.8 128,851.8 128.4,851.6 128.8,851.5 129.2,851.5 129.6,851.7 130,851.7 130.4,851.7 130.8,851.7 131.2,851.6 131.6,851.7 132,851.8 132.4,851.7 132.8,851.8 133.2,851.8 133.6,851.8 134,851.7 134.4,851.6 134.8,851.4 135.2,851.2 135.6,851.2 136,851.1 136.4,851 136.8,851.3 137.2,851.3 137.6,851.6 138,851.9 138.4,851.8 138.8,851.7 139.2,851.6 139.6,851.6 140,851.7 140.4,850.6 140.8,844.3 141.2,832.9 141.6,826.2 142,832.9 142.4,844.2 142.8,850.3 143.2,851.4 143.6,851 144,850.9 144.4,850.7 144.8,850.6 145.2,850.6 145.6,850.4 146,850.1 146.4,849.8 146.8,849.6 147.2,849.4 147.6,849.5 148,849.4 148.4,849.2 148.8,849 149.2,848.4 149.6,848.2 150,847.6 150.4,847.1 150.8,846.6 151.2,846 151.6,845.7 152,845.2 152.4,844.9 152.8,844.5 153.2,844 153.6,843.6 154,843 154.4,842.5 154.8,842.1 155.2,841.9 155.6,841.9 156,841.9 156.4,842.1 156.8,842.4 157.2,842.8 157.6,843.5 158,844.3 158.4,845.4 158.8,846.4 159.2,847.4 159.6,848.2 160,848.7 160.4,849.3 160.8,849.8 161.2,850.4 161.6,850.9 162,851.1 162.4,851.3 162.8,851.5 163.2,851.5 163.6,851.8 164,851.9 164.4,851.9 164.8,851.9 165.2,851.8 165.6,851.7 166,851.4 166.4,851.5 166.8,851.4 167.2,851.6 167.6,851.5 168,851.5 168.4,851.4 168.8,851.3 169.2,851.5 169.6,851.5 170,851.6 170.4,851.5 170.8,851.5 171.2,851.5 171.6,851.4 172,851.6 172.4,851.5 172.8,851.6 173.2,851.6 173.6,851.5 174,851.6 174.4,851.5 174.8,851.5 175.2,851.6 175.6,851.7 176,851.6 176.4,851.6 176.8,851.7 177.2,851.5 177.6,851.6 178,851.7 178.4,851.8 178.8,851.9 179.2,851.9 179.6,851.9 180,851.7 180.4,851.8 180.8,851.9 181.2,851.8 181.6,851.7 182,851.7 182.4,851.6 182.8,851.6 183.2,851.7 183.6,851.6 184,851.6 184.4,851.7 184.8,851.7 185.2,851.8 185.6,851.7 186,851.7 186.4,851.6 186.8,851.4 187.2,851.5 187.6,851.5 188,851.4 188.4,851.2 188.8,851.1 189.2,851.1 189.6,851.1 190,851.4 190.4,851.5 190.8,851.6 191.2,851.6 191.6,851.6 192,851.6 192.4,851.7 192.8,851.9 193.2,850.7 193.6,844.1 194,831.9 194.4,824.8 194.8,831.6 195.2,843.6 195.6,849.9 196,851.2 196.4,850.9 196.8,850.6 197.2,850.6 197.6,850.5 198,850.2 198.4,850.1 198.8,849.9 199.2,849.7 199.6,849.7 200,849.4 200.4,849.2 200.8,848.9 201.2,848.7 201.6,848.6 202,848.3 202.4,847.9 202.8,847.4 203.2,847.1 203.6,846.6 204,846.1 204.4,845.8 204.8,845.2 205.2,844.6 205.6,844.2 206,843.8 206.4,843.3 206.8,843.3 207.2,842.9 207.6,842.5 208,842.3 208.4,842 208.8,841.9 209.2,842 209.6,842.4 210,843 210.4,843.7 210.8,844.5 211.2,845.5 211.6,846.2 212,847.2 212.4,848.1 212.8,848.7 213.2,849.5 213.6,850.1 214,850.3 214.4,850.7 214.8,850.9 215.2,851 215.6,851.3 216,851.5 216.4,851.5 216.8,851.5 217.2,851.4 217.6,851.4 218,851.4 218.4,851.4 218.8,851.4 219.2,851.4 219.6,851.5 220,851.6 220.4,851.7 220.8,851.7 221.2,851.7 221.6,851.6 222,851.7 222.4,851.6 222.8,851.6 223.2,851.5 223.6,851.6 224,851.4 224.4,851.5 224.8,851.6 225.2,851.6 225.6,851.5 226,851.5 226.4,851.5 226.8,851.5 227.2,851.9 227.6,851.8 228,851.7 228.4,851.7 228.8,851.8 229.2,851.9 229.6,852 230,851.9 230.4,851.8 230.8,851.8 231.2,851.7 231.6,851.9 232,851.7 232.4,851.7 232.8,851.7 233.2,851.6 233.6,851.7 234,851.7 234.4,851.7 234.8,851.6 235.2,851.7 235.6,851.7 236,851.8 236.4,851.9 236.8,852 237.2,852.1 237.6,852.1 238,852.1 238.4,852 238.8,851.9 239.2,851.8 239.6,851.9 240,851.8 240.4,851.9 240.8,851.8 241.2,851.5 241.6,851.3 242,851.1 242.4,851.1 242.8,851 243.2,851.2 243.6,851.5 244,851.6 244.4,851.8 244.8,851.8 245.2,851.9 245.6,851.9 246,851.9 246.4,852 246.8,851.9 247.2,850.4 247.6,842.7 248,828.9 248.4,820.9 248.8,828.7 249.2,842.5 249.6,849.8 250,851.2 250.4,850.9 250.8,850.5 251.2,850.4 251.6,850.4 252,850.2 252.4,850.2 252.8,850 253.2,849.8 253.6,849.7 254,849.5 254.4,849.2 254.8,849 255.2,848.8 255.6,848.6 256,848.5 256.4,848 256.8,847.7 257.2,847.2 257.6,846.6 258,846.2 258.4,845.6 258.8,845.2 259.2,844.7 259.6,844.2 260,843.9 260.4,843.6 260.8,843.1 261.2,842.7 261.6,842.2 262,842.2 262.4,842.1 262.8,842.1 263.2,842.2 263.6,842.3 264,842.8 264.4,843.6 264.8,844.5 265.2,845.5 265.6,846.5 266,847.5 266.4,848.2 266.8,848.9 267.2,849.6 267.6,850.1 268,850.8 268.4,851.2 268.8,851.5 269.2,851.6 269.6,851.4 270,851.6 270.4,851.3 270.8,851.4 271.2,851.5 271.6,851.5 272,851.6 272.4,851.6 272.8,851.5 273.2,851.5 273.6,851.7 274,851.7 274.4,851.7 274.8,851.9 275.2,851.6 275.6,851.7 276,851.7 276.4,851.5 276.8,851.6 277.2,851.5 277.6,851.5 278,851.6 278.4,851.6 278.8,851.6 279.2,851.7 279.6,851.7 280,851.7 280.4,851.9 280.8,851.6 281.2,851.6 281.6,851.8 282,851.7 282.4,851.9 282.8,852 283.2,851.9 283.6,852 284,852 284.4,852 284.8,851.9 285.2,851.9 285.6,852 286,851.9 286.4,852.1 286.8,851.9 287.2,851.8 287.6,851.9 288,851.7 288.4,851.8 288.8,851.7 289.2,851.6 289.6,851.7 290,851.7 290.4,851.9 290.8,851.9 291.2,851.8 291.6,851.8 292,851.7 292.4,851.8 292.8,851.9 293.2,852 293.6,851.9 294,851.6 294.4,851.6 294.8,851.6 295.2,851.7 295.6,851.7 296,851.6 296.4,851.5 296.8,851.1 297.2,851 297.6,850.9 298,851 298.4,851.4 298.8,851.7 299.2,851.8 299.6,851.7 300,851.5 300.4,851.6 300.8,851.5 301.2,851.5 301.6,851.6 302,851.6 302.4,851 302.8,846.2 303.2,834.7 303.6,825 304,828.4 304.4,840.6 304.8,848.9 305.2,851.4 305.6,851.3 306,850.8 306.4,850.5 306.8,850.4 307.2,850.3 307.6,850.2 308,850.1 308.4,849.9 308.8,849.8 309.2,849.5 309.6,849.3 310,849 310.4,848.9 310.8,848.8 311.2,848.6 311.6,848.3 312,847.7 312.4,847.1 312.8,846.6 313.2,846 313.6,845.7 314,845.3 314.4,844.7 314.8,844.3 315.2,843.8 315.6,843.5 316,843.3 316.4,842.9 316.8,842.7 317.2,842.4 317.6,842.1 318,841.9 318.4,841.9 318.8,842.1 319.2,842.6 319.6,843.3 320,844.1 320.4,845.1 320.8,846.1 321.2,847 321.6,847.9 322,848.6 322.4,849.2 322.8,849.8 323.2,850.3 323.6,850.7 324,851 324.4,851.2 324.8,851.3 325.2,851.4 325.6,851.5 326,851.5 326.4,851.7 326.8,851.7 327.2,851.7 327.6,851.7 328,851.6 328.4,851.6 328.8,851.6 329.2,851.7 329.6,851.6 330,851.6 330.4,851.6 330.8,851.5 331.2,851.4 331.6,851.4 332,851.4 332.4,851.4 332.8,851.6 333.2,851.8 333.6,851.9 334,851.9 334.4,851.7 334.8,851.6 335.2,851.4 335.6,851.4 336,851.4 336.4,851.4 336.8,851.6 337.2,851.7 337.6,851.7 338,851.7 338.4,851.7 338.8,851.7 339.2,851.8 339.6,852 340,852 340.4,852 340.8,852 341.2,851.6 341.6,851.5 342,851.6 342.4,851.6 342.8,851.7 343.2,852 343.6,851.9 344,852.1 344.4,852.1 344.8,851.9 345.2,851.8 345.6,851.8 346,851.8 346.4,851.7 346.8,851.7 347.2,851.7 347.6,851.8 348,851.9 348.4,851.8 348.8,851.7 349.2,851.5 349.6,851.3 350,851.4 350.4,851.4 350.8,851.3 351.2,851.3 351.6,851.3 352,851.3 352.4,851.4 352.8,851.5 353.2,851.6 353.6,851.8 354,851.9 354.4,851.7 354.8,851.8 355.2,851.6 355.6,851.9 356,851.3 356.4,846.2 356.8,834.7 357.2,824.8 357.6,828.5 358,840.7 358.4,849.2 358.8,851.5 359.2,851.2 359.6,850.7 360,850.5 360.4,850.3 360.8,850.4 361.2,850.4 361.6,850.3 362,850.1 362.4,849.7 362.8,849.4 363.2,849.1 363.6,848.9 364,848.8 364.4,848.7 364.8,848.4 365.2,848.2 365.6,847.8 366,847.1 366.4,846.7 366.8,846.3 367.2,845.7 367.6,845.2 368,844.8 368.4,844.2 368.8,843.9 369.2,843.4 369.6,842.9 370,842.7 370.4,842.2 370.8,842.1 371.2,842 371.6,841.8 372,841.9 372.4,842.1 372.8,842.6 373.2,843.4 373.6,844.1 374,845.1 374.4,846.1 374.8,847.1 375.2,847.9 375.6,848.7 376,849.4 376.4,849.9 376.8,850.5 377.2,850.9 377.6,851.1 378,851.4 378.4,851.4 378.8,851.6 379.2,851.7 379.6,851.7 380,851.7 380.4,851.6 380.8,851.6 381.2,851.6 381.6,851.6 382,851.6 382.4,851.6 382.8,851.4 383.2,851.5 383.6,851.3 384,851.4 384.4,851.5 384.8,851.3 385.2,851.5 385.6,851.4 386,851.3 386.4,851.4 386.8,851.5 387.2,851.5 387.6,851.6 388,851.7 388.4,851.5 388.8,851.5 389.2,851.6 389.6,851.5 390,851.6 390.4,851.4 390.8,851.5 391.2,851.6 391.6,851.6 392,851.7 392.4,851.6 392.8,851.6 393.2,851.7 393.6,851.8 393.8,884.4" fill="#0a0af0" stroke="none" stroke-width="1" />
<polyline points="125.6,851.6 126,851.6 126.4,851.5 126.8,851.5 127.2,851.6 127.6,851.8 128,851.8 128.4,851.6 128.8,851.5 129.2,851.5 129.6,851.7 130,851.7 130.4,851.7 130.8,851.7 131.2,851.6 131.6,851.7 132,851.8 132.4,851.7 132.8,851.8 133.2,851.8 133.6,851.8 134,851.7 134.4,851.6 134.8,851.4 135.2,851.2 135.6,851.2 136,851.1 136.4,851 136.8,851.3 137.2,851.3 137.6,851.6 138,851.9 138.4,851.8 138.8,851.7 139.2,851.6 139.6,851.6 140,851.7 140.4,850.6 140.8,844.3 141.2,832.9 141.6,826.2 142,832.9 142.4,844.2 142.8,850.3 143.2,851.4 143.6,851 144,850.9 144.4,850.7 144.8,850.6 145.2,850.6 145.6,850.4 146,850.1 146.4,849.8 146.8,849.6 147.2,849.4 147.6,849.5 148,849.4 148.4,849.2 148.8,849 149.2,848.4 149.6,848.2 150,847.6 150.4,847.1 150.8,846.6 151.2,846 151.6,845.7 152,845.2 152.4,844.9 152.8,844.5 153.2,844 153.6,843.6 154,843 154.4,842.5 154.8,842.1 155.2,841.9 155.6,841.9 156,841.9 156.4,842.1 156.8,842.4 157.2,842.8 157.6,843.5 158,844.3 158.4,845.4 158.8,846.4 159.2,847.4 159.6,848.2 160,848.7 160.4,849.3 160.8,849.8 161.2,850.4 161.6,850.9 162,851.1 162.4,851.3 162.8,851.5 163.2,851.5 163.6,851.8 164,851.9 164.4,851.9 164.8,851.9 165.2,851.8 165.6,851.7 166,851.4 166.4,851.5 166.8,851.4 167.2,851.6 167.6,851.5 168,851.5 168.4,851.4 168.8,851.3 169.2,851.5 169.6,851.5 170,851.6 170.4,851.5 170.8,851.5 171.2,851.5 171.6,851.4 172,851.6 172.4,851.5 172.8,851.6 173.2,851.6 173.6,851.5 174,851.6 174.4,851.5 174.8,851.5 175.2,851.6 175.6,851.7 176,851.6 176.4,851.6 176.8,851.7 177.2,851.5 177.6,851.6 178,851.7 178.4,851.8 178.8,851.9 179.2,851.9 179.6,851.9 180,851.7 180.4,851.8 180.8,851.9 181.2,851.8 181.6,851.7 182,851.7 182.4,851.6 182.8,851.6 183.2,851.7 183.6,851.6 184,851.6 184.4,851.7 184.8,851.7 185.2,851.8 185.6,851.7 186,851.7 186.4,851.6 186.8,851.4 187.2,851.5 187.6,851.5 188,851.4 188.4,851.2 188.8,851.1 189.2,851.1 189.6,851.1 190,851.4 190.4,851.5 190.8,851.6 191.2,851.6 191.6,851.6 192,851.6 192.4,851.7 192.8,851.9 193.2,850.7 193.6,844.1 194,831.9 194.4,824.8 194.8,831.6 195.2,843.6 195.6,849.9 196,851.2 196.4,850.9 196.8,850.6 197.2,850.6 197.6,850.5 198,850.2 198.4,850.1 198.8,849.9 199.2,849.7 199.6,849.7 200,849.4 200.4,849.2 200.8,848.9 201.2,848.7 201.6,848.6 202,848.3 202.4,847.9 202.8,847.4 203.2,847.1 203.6,846.6 204,846.1 204.4,845.8 204.8,845.2 205.2,844.6 205.6,844.2 206,843.8 206.4,843.3 206.8,843.3 207.2,842.9 207.6,842.5 208,842.3 208.4,842 208.8,841.9 209.2,842 209.6,842.4 210,843 210.4,843.7 210.8,844.5 211.2,845.5 211.6,846.2 212,847.2 212.4,848.1 212.8,848.7 213.2,849.5 213.6,850.1 214,850.3 214.4,850.7 214.8,850.9 215.2,851 215.6,851.3 216,851.5 216.4,851.5 216.8,851.5 217.2,851.4 217.6,851.4 218,851.4 218.4,851.4 218.8,851.4 219.2,851.4 219.6,851.5 220,851.6 220.4,851.7 220.8,851.7 221.2,851.7 221.6,851.6 222,851.7 222.4,851.6 222.8,851.6 223.2,851.5 223.6,851.6 224,851.4 224.4,851.5 224.8,851.6 225.2,851.6 225.6,851.5 226,851.5 226.4,851.5 226.8,851.5 227.2,851.9 227.6,851.8 228,851.7 228.4,851.7 228.8,851.8 229.2,851.9 229.6,852 230,851.9 230.4,851.8 230.8,851.8 231.2,851.7 231.6,851.9 232,851.7 232.4,851.7 232.8,851.7 233.2,851.6 233.6,851.7 234,851.7 234.4,851.7 234.8,851.6 235.2,851.7 235.6,851.7 236,851.8 236.4,851.9 236.8,852 237.2,852.1 237.6,852.1 238,852.1 238.4,852 238.8,851.9 239.2,851.8 239.6,851.9 240,851.8 240.4,851.9 240.8,851.8 241.2,851.5 241.6,851.3 242,851.1 242.4,851.1 242.8,851 243.2,851.2 243.6,851.5 244,851.6 244.4,851.8 244.8,851.8 245.2,851.9 245.6,851.9 246,851.9 246.4,852 246.8,851.9 247.2,850.4 247.6,842.7 248,828.9 248.4,820.9 248.8,828.7 249.2,842.5 249.6,849.8 250,851.2 250.4,850.9 250.8,850.5 251.2,850.4 251.6,850.4 252,850.2 252.4,850.2 252.8,850 253.2,849.8 253.6,849.7 254,849.5 254.4,849.2 254.8,849 255.2,848.8 255.6,848.6 256,848.5 256.4,848 256.8,847.7 257.2,847.2 257.6,846.6 258,846.2 258.4,845.6 258.8,845.2 259.2,844.7 259.6,844.2 260,843.9 260.4,843.6 260.8,843.1 261.2,842.7 261.6,842.2 262,842.2 262.4,842.1 262.8,842.1 263.2,842.2 263.6,842.3 264,842.8 264.4,843.6 264.8,844.5 265.2,845.5 265.6,846.5 266,847.5 266.4,848.2 266.8,848.9 267.2,849.6 267.6,850.1 268,850.8 268.4,851.2 268.8,851.5 269.2,851.6 269.6,851.4 270,851.6 270.4,851.3 270.8,851.4 271.2,851.5 271.6,851.5 272,851.6 272.4,851.6 272.8,851.5 273.2,851.5 273.6,851.7 274,851.7 274.4,851.7 274.8,851.9 275.2,851.6 275.6,851.7 276,851.7 276.4,851.5 276.8,851.6 277.2,851.5 277.6,851.5 278,851.6 278.4,851.6 278.8,851.6 279.2,851.7 279.6,851.7 280,851.7 280.4,851.9 280.8,851.6 281.2,851.6 281.6,851.8 282,851.7 282.4,851.9 282.8,852 283.2,851.9 283.6,852 284,852 284.4,852 284.8,851.9 285.2,851.9 285.6,852 286,851.9 286.4,852.1 286.8,851.9 287.2,851.8 287.6,851.9 288,851.7 288.4,851.8 288.8,851.7 289.2,851.6 289.6,851.7 290,851.7 290.4,851.9 290.8,851.9 291.2,851.8 291.6,851.8 292,851.7 292.4,851.8 292.8,851.9 293.2,852 293.6,851.9 294,851.6 294.4,851.6 294.8,851.6 295.2,851.7 295.6,851.7 296,851.6 296.4,851.5 296.8,851.1 297.2,851 297.6,850.9 298,851 298.4,851.4 298.8,851.7 299.2,851.8 299.6,851.7 300,851.5 300.4,851.6 300.8,851.5 301.2,851.5 301.6,851.6 302,851.6 302.4,851 302.8,846.2 303.2,834.7 303.6,825 304,828.4 304.4,840.6 304.8,848.9 305.2,851.4 305.6,851.3 306,850.8 306.4,850.5 306.8,850.4 307.2,850.3 307.6,850.2 308,850.1 308.4,849.9 308.8,849.8 309.2,849.5 309.6,849.3 310,849 310.4,848.9 310.8,848.8 311.2,848.6 311.6,848.3 312,847.7 312.4,847.1 312.8,846.6 313.2,846 313.6,845.7 314,845.3 314.4,844.7 314.8,844.3 315.2,843.8 315.6,843.5 316,843.3 316.4,842.9 316.8,842.7 317.2,842.4 317.6,842.1 318,841.9 318.4,841.9 318.8,842.1 319.2,842.6 319.6,843.3 320,844.1 320.4,845.1 320.8,846.1 321.2,847 321.6,847.9 322,848.6 322.4,849.2 322.8,849.8 323.2,850.3 323.6,850.7 324,851 324.4,851.2 324.8,851.3 325.2,851.4 325.6,851.5 326,851.5 326.4,851.7 326.8,851.7 327.2,851.7 327.6,851.7 328,851.6 328.4,851.6 328.8,851.6 329.2,851.7 329.6,851.6 330,851.6 330.4,851.6 330.8,851.5 331.2,851.4 331.6,851.4 332,851.4 332.4,851.4 332.8,851.6 333.2,851.8 333.6,851.9 334,851.9 334.4,851.7 334.8,851.6 335.2,851.4 335.6,851.4 336,851.4 336.4,851.4 336.8,851.6 337.2,851.7 337.6,851.7 338,851.7 338.4,851.7 338.8,851.7 339.2,851.8 339.6,852 340,852 340.4,852 340.8,852 341.2,851.6 341.6,851.5 342,851.6 342.4,851.6 342.8,851.7 343.2,852 343.6,851.9 344,852.1 344.4,852.1 344.8,851.9 345.2,851.8 345.6,851.8 346,851.8 346.4,851.7 346.8,851.7 347.2,851.7 347.6,851.8 348,851.9 348.4,851.8 348.8,851.7 349.2,851.5 349.6,851.3 350,851.4 350.4,851.4 350.8,851.3 351.2,851.3 351.6,851.3 352,851.3 352.4,851.4 352.8,851.5 353.2,851.6 353.6,851.8 354,851.9 354.4,851.7 354.8,851.8 355.2,851.6 355.6,851.9 356,851.3 356.4,846.2 356.8,834.7 357.2,824.8 357.6,828.5 358,840.7 358.4,849.2 358.8,851.5 359.2,851.2 359.6,850.7 360,850.5 360.4,850.3 360.8,850.4 361.2,850.4 361.6,850.3 362,850.1 362.4,849.7 362.8,849.4 363.2,849.1 363.6,848.9 364,848.8 364.4,848.7 364.8,848.4 365.2,848.2 365.6,847.8 366,847.1 366.4,846.7 366.8,846.3 367.2,845.7 367.6,845.2 368,844.8 368.4,844.2 368.8,843.9 369.2,843.4 369.6,842.9 370,842.7 370.4,842.2 370.8,842.1 371.2,842 371.6,841.8 372,841.9 372.4,842.1 372.8,842.6 373.2,843.4 373.6,844.1 374,845.1 374.4,846.1 374.8,847.1 375.2,847.9 375.6,848.7 376,849.4 376.4,849.9 376.8,850.5 377.2,850.9 377.6,851.1 378,851.4 378.4,851.4 378.8,851.6 379.2,851.7 379.6,851.7 380,851.7 380.4,851.6 380.8,851.6 381.2,851.6 381.6,851.6 382,851.6 382.4,851.6 382.8,851.4 383.2,851.5 383.6,851.3 384,851.4 384.4,851.5 384.8,851.3 385.2,851.5 385.6,851.4 386,851.3 386.4,851.4 386.8,851.5 387.2,851.5 387.6,851.6 388,851.7 388.4,851.5 388.8,851.5 389.2,851.6 389.6,851.5 390,851.6 390.4,851.4 390.8,851.5 391.2,851.6 391.6,851.6 392,851.7 392.4,851.6 392.8,851.6 393.2,851.7 393.6,851.8" fill="none" stroke="#101010" stroke-width="0.95" stroke-linejoin="round" />
<line x1="141.6" y1="848.3" x2="141.6" y2="828.2" stroke="#0c0cb8" stroke-width="1.5" />
<line x1="194.4" y1="848.3" x2="194.4" y2="826.8" stroke="#0c0cb8" stroke-width="1.5" />
<line x1="248.4" y1="848.3" x2="248.4" y2="823.1" stroke="#0c0cb8" stroke-width="1.5" />
<line x1="303.7" y1="848.3" x2="303.7" y2="826.8" stroke="#0c0cb8" stroke-width="1.5" />
<line x1="357.3" y1="848.3" x2="357.3" y2="826.4" stroke="#0c0cb8" stroke-width="1.5" />
<polygon points="95.7,927 95.7,893.6 96.1,893.5 96.5,893.3 96.9,893.2 97.3,893.2 97.7,893.2 98.1,893.4 98.5,893.4 98.9,893.4 99.3,893.5 99.7,893.6 100.1,893.6 100.5,893.7 100.9,893.6 101.3,893.5 101.7,893.3 102.1,893.3 102.5,893.4 102.9,893.4 103.3,893.5 103.7,893.6 104.1,893.5 104.5,893.5 104.9,893.4 105.3,893.5 105.7,893.5 106.1,893.6 106.5,893.5 106.9,893.5 107.3,893.4 107.7,893.3 108.1,893.5 108.5,893.5 108.9,893.5 109.3,893.6 109.7,893.5 110.1,893.4 110.5,893.3 110.9,893.3 111.3,893.4 111.7,893.5 112.1,893.6 112.5,893.5 112.9,893.4 113.3,893.3 113.7,893.2 114.1,893.1 114.5,893 114.9,893 115.3,893 115.7,892.9 116.1,893 116.5,893.1 116.9,893 117.3,893.1 117.7,893.1 118.1,893.3 118.5,893.3 118.9,892.4 119.3,888.9 119.7,880.3 120.1,866.5 120.5,851.2 120.9,842.4 121.3,845.4 121.7,858.2 122.1,873.4 122.5,884.5 122.9,890.4 123.3,892.5 123.7,892.8 124.1,892.6 124.5,892.4 124.9,892.3 125.3,892 125.7,891.8 126.1,891.7 126.5,891.4 126.9,891.4 127.3,891.2 127.7,891 128.1,890.8 128.5,890.6 128.9,890.4 129.3,890 129.7,889.8 130.1,889.3 130.5,889 130.9,888.6 131.3,888.1 131.7,887.6 132.1,886.9 132.5,886.2 132.9,885.4 133.3,884.7 133.7,884.2 134.1,883.6 134.5,883.3 134.9,882.9 135.3,882.5 135.7,882 136.1,881.7 136.5,881.7 136.9,881.6 137.3,881.8 137.7,882.2 138.1,882.8 138.5,883.6 138.9,884.7 139.3,885.8 139.7,886.9 140.1,888 140.5,888.9 140.9,890.1 141.3,890.9 141.7,891.4 142.1,891.9 142.5,892.3 142.9,892.6 143.3,893.1 143.7,893.2 144.1,893.2 144.5,893.1 144.9,893 145.3,893.1 145.7,893.2 146.1,893.3 146.5,893.4 146.9,893.6 147.3,893.4 147.7,893.3 148.1,893.4 148.5,893.2 148.9,893.4 149.3,893.3 149.7,893.2 150.1,893.3 150.5,893.3 150.9,893.5 151.3,893.5 151.7,893.5 152.1,893.4 152.5,893.3 152.9,893.3 153.3,893.1 153.7,893.3 154.1,893.4 154.5,893.2 154.9,893.4 155.3,893.4 155.7,893.2 156.1,893.3 156.5,893.3 156.9,893.3 157.3,893.3 157.7,893.3 158.1,893.3 158.5,893.2 158.9,893.2 159.3,893.2 159.7,893.2 160.1,893.2 160.5,893.2 160.9,893.5 161.3,893.4 161.7,893.5 162.1,893.5 162.5,893.3 162.9,893.5 163.3,893.3 163.7,893.1 164.1,893.2 164.5,893.1 164.9,893.1 165.3,893.2 165.7,893.2 166.1,893.3 166.5,893.3 166.9,893.4 167.3,893.3 167.7,893.4 168.1,893.3 168.5,893.4 168.9,893.5 169.3,893.5 169.7,893.6 170.1,893.5 170.5,893.5 170.9,893.1 171.3,893 171.7,893 172.1,892.9 172.5,893 172.9,893 173.3,892.9 173.7,893 174.1,893.1 174.5,893.2 174.9,893.3 175.3,893.4 175.7,893.4 176.1,893.1 176.5,891.4 176.9,886.3 177.3,876.4 177.7,863.1 178.1,851.7 178.5,848.9 178.9,856.4 179.3,869.4 179.7,881.4 180.1,888.7 180.5,891.9 180.9,892.6 181.3,892.5 181.7,892.2 182.1,892 182.5,891.9 182.9,891.8 183.3,891.8 183.7,891.6 184.1,891.5 184.5,891.3 184.9,891.2 185.3,891.1 185.7,890.9 186.1,890.6 186.5,890.4 186.9,890 187.3,889.6 187.7,889.3 188.1,888.8 188.5,888.3 188.9,887.7 189.3,887.2 189.7,886.6 190.1,886 190.5,885.5 190.9,884.8 191.3,884.3 191.7,883.7 192.1,883 192.5,882.6 192.9,882 193.3,881.7 193.7,881.6 194.1,881.4 194.5,881.2 194.9,881.5 195.3,881.9 195.7,882.8 196.1,883.9 196.5,885 196.9,886 197.3,887.2 197.7,888.1 198.1,889.2 198.5,890.2 198.9,891 199.3,891.7 199.7,892.1 200.1,892.4 200.5,892.7 200.9,893 201.3,893.1 201.7,893.3 202.1,893.4 202.5,893.5 202.9,893.6 203.3,893.4 203.7,893.5 204.1,893.5 204.5,893.3 204.9,893.4 205.3,893.2 205.7,893.1 206.1,893.2 206.5,893.1 206.9,893.1 207.3,893 207.7,893 208.1,892.9 208.5,892.9 208.9,893.1 209.3,893.3 209.7,893.4 210.1,893.5 210.5,893.6 210.9,893.4 211.3,893.3 211.7,893.2 212.1,893.1 212.5,893.2 212.9,893.4 213.3,893.5 213.7,893.4 214.1,893.4 214.5,893.3 214.9,893.2 215.3,893.2 215.7,893.2 216.1,893.2 216.5,893.2 216.9,893.2 217.3,893.1 217.7,893.2 218.1,893.3 218.5,893.2 218.9,893.4 219.3,893.3 219.7,893.5 220.1,893.5 220.5,893.4 220.9,893.4 221.3,893.3 221.7,893.2 222.1,893.3 222.5,893.3 222.9,893.4 223.3,893.4 223.7,893.3 224.1,893.3 224.5,893.2 224.9,893 225.3,893 225.7,893 226.1,893.2 226.5,893.3 226.9,893.5 227.3,893.6 227.7,893.4 228.1,893.4 228.5,893.3 228.9,893.1 229.3,893 229.7,892.6 230.1,892.8 230.5,892.8 230.9,892.8 231.3,893 231.7,892.9 232.1,893.1 232.5,893.2 232.9,893.2 233.3,893.2 233.7,893.3 234.1,893.1 234.5,891.6 234.9,886.9 235.3,876.8 235.7,861.9 236.1,847.5 236.5,841.3 236.9,847.5 237.3,861.9 237.7,876.6 238.1,886.6 238.5,891.1 238.9,892.4 239.3,892.7 239.7,892.6 240.1,892.5 240.5,892.5 240.9,892.4 241.3,892.1 241.7,891.9 242.1,891.7 242.5,891.4 242.9,891.2 243.3,890.9 243.7,890.8 244.1,890.6 244.5,890.3 244.9,890.1 245.3,889.8 245.7,889.3 246.1,888.9 246.5,888.4 246.9,887.8 247.3,887.2 247.7,886.6 248.1,886.1 248.5,885.4 248.9,884.8 249.3,884.1 249.7,883.3 250.1,883 250.5,882.5 250.9,882.2 251.3,882.1 251.7,881.7 252.1,881.6 252.5,881.5 252.9,881.6 253.3,882.1 253.7,882.8 254.1,883.6 254.5,884.6 254.9,885.7 255.3,887 255.7,888.3 256.1,889.4 256.5,890.3 256.9,890.9 257.3,891.5 257.7,892 258.1,892.3 258.5,892.5 258.9,892.6 259.3,892.7 259.7,892.9 260.1,893 260.5,893.3 260.9,893.4 261.3,893.4 261.7,893.5 262.1,893.5 262.5,893.4 262.9,893.4 263.3,893.2 263.7,893.3 264.1,893.2 264.5,893.2 264.9,893.2 265.3,893.1 265.7,893.2 266.1,893.3 266.5,893.4 266.9,893.5 267.3,893.5 267.7,893.3 268.1,893.3 268.5,893.2 268.9,893.2 269.3,893.3 269.7,893.2 270.1,893.3 270.5,893.5 270.9,893.5 271.3,893.5 271.7,893.5 272.1,893.3 272.5,893.3 272.9,893.4 273.3,893.4 273.7,893.6 274.1,893.5 274.5,893.5 274.9,893.4 275.3,893.4 275.7,893.4 276.1,893.4 276.5,893.4 276.9,893.5 277.3,893.3 277.7,893.2 278.1,893.2 278.5,893.3 278.9,893.3 279.3,893.3 279.7,893.3 280.1,893.1 280.5,893.2 280.9,893.3 281.3,893.5 281.7,893.5 282.1,893.6 282.5,893.5 282.9,893.4 283.3,893.4 283.7,893.4 284.1,893.5 284.5,893.5 284.9,893.4 285.3,893.3 285.7,893.3 286.1,893.2 286.5,893 286.9,892.9 287.3,892.7 287.7,892.7 288.1,893.1 288.5,893.3 288.9,893.4 289.3,893.6 289.7,893.6 290.1,893.5 290.5,893.5 290.9,892.5 291.3,889.2 291.7,881.5 292.1,868.9 292.5,855 292.9,847 293.3,849.7 293.7,861.4 294.1,875.1 294.5,885.3 294.9,890.6 295.3,892.4 295.7,892.7 296.1,892.6 296.5,892.2 296.9,892.1 297.3,892.1 297.7,891.8 298.1,891.8 298.5,891.6 298.9,891.3 299.3,891.3 299.7,891.2 300.1,890.9 300.5,890.8 300.9,890.5 301.3,890.2 301.7,890 302.1,889.6 302.5,889.1 302.9,888.6 303.3,888 303.7,887.5 304.1,886.9 304.5,886.3 304.9,885.6 305.3,885 305.7,884.4 306.1,883.9 306.5,883.4 306.9,883 307.3,882.6 307.7,882.3 308.1,882 308.5,881.9 308.9,881.8 309.3,881.9 309.7,882.3 310.1,882.8 310.5,883.6 310.9,884.5 311.3,885.6 311.7,886.7 312.1,887.7 312.5,888.9 312.9,889.7 313.3,890.5 313.7,891.2 314.1,891.8 314.5,892.3 314.9,892.8 315.3,893.1 315.7,893.1 316.1,893.1 316.5,893.1 316.9,893.1 317.3,893.2 317.7,893.3 318.1,893.3 318.5,893.3 318.9,893.2 319.3,893.3 319.7,893.4 320.1,893.4 320.5,893.4 320.9,893.3 321.3,893.1 321.7,892.9 322.1,893 322.5,893 322.9,893.1 323.3,893.3 323.7,893.2 324.1,893.2 324.5,893.1 324.9,893.2 325.3,893.2 325.7,893.2 326.1,893.1 326.5,893 326.9,893 327.3,893.1 327.7,893.4 328.1,893.2 328.5,893.2 328.9,893.2 329.3,893 329.7,893.3 330.1,893.3 330.5,893.3 330.9,893.3 331.3,893.1 331.7,893 332.1,893 332.5,893 332.9,893.2 333.3,893.2 333.7,893.3 334.1,893.3 334.5,893.4 334.9,893.5 335.3,893.5 335.7,893.5 336.1,893.5 336.5,893.5 336.9,893.5 337.3,893.5 337.7,893.4 338.1,893.3 338.5,893.2 338.9,893.3 339.3,893.3 339.7,893.5 340.1,893.4 340.5,893.3 340.9,893.1 341.3,892.9 341.7,892.9 342.1,893 342.5,893.1 342.9,893.1 343.3,893.3 343.7,893.5 344.1,893.5 344.5,893.4 344.9,893.4 345.3,893.2 345.7,893.1 346.1,892 346.5,888.1 346.9,879.7 347.3,867.3 347.7,855.2 348.1,850.1 348.5,855.2 348.9,867.1 349.3,879.4 349.7,887.7 350.1,891.7 350.5,893 350.9,893 351.3,892.8 351.7,892.3 352.1,892.1 352.5,892 352.9,891.9 353.3,891.8 353.7,891.5 354.1,891.2 354.5,891 354.9,890.7 355.3,890.7 355.7,890.6 356.1,890.4 356.5,890.2 356.9,889.7 357.3,889.3 357.7,888.9 358.1,888.5 358.5,888 358.9,887.5 359.3,886.8 359.7,886.2 360.1,885.5 360.5,884.7 360.9,884.3 361.3,883.8 361.7,883.3 362.1,882.9 362.5,882.4 362.9,881.9 363.3,881.6 363.7,881.6 364.1,881.7 364.5,881.8 364.9,882.4 365.3,883 365.7,883.7 366.1,884.8 366.5,885.9 366.9,887 367.3,888.1 367.7,889.3 368.1,890.2 368.5,891.1 368.9,891.7 369.3,892.1 369.7,892.6 370.1,892.8 370.5,893 370.9,893 371.3,893 371.7,893.2 372.1,893.3 372.5,893.4 372.9,893.3 373.3,893.3 373.7,893.2 374.1,893 374.5,893.1 374.9,892.8 375.3,892.9 375.7,893 376.1,892.8 376.5,893 376.9,892.9 377.3,892.9 377.7,893.1 378.1,892.9 378.5,893.1 378.9,893 379.3,893.1 379.7,893.1 380.1,893 380.5,893 380.9,892.9 381.3,892.9 381.7,892.9 382.1,892.9 382.5,892.9 382.9,893 383.3,893 383.7,893 384.1,893.2 384.5,893.1 384.9,893.1 385.3,893.2 385.7,893 386.1,893.1 386.5,893.2 386.9,893.2 387.2,927" fill="#00f000" stroke="none" stroke-width="1" />
<polyline points="95.7,893.6 96.1,893.5 96.5,893.3 96.9,893.2 97.3,893.2 97.7,893.2 98.1,893.4 98.5,893.4 98.9,893.4 99.3,893.5 99.7,893.6 100.1,893.6 100.5,893.7 100.9,893.6 101.3,893.5 101.7,893.3 102.1,893.3 102.5,893.4 102.9,893.4 103.3,893.5 103.7,893.6 104.1,893.5 104.5,893.5 104.9,893.4 105.3,893.5 105.7,893.5 106.1,893.6 106.5,893.5 106.9,893.5 107.3,893.4 107.7,893.3 108.1,893.5 108.5,893.5 108.9,893.5 109.3,893.6 109.7,893.5 110.1,893.4 110.5,893.3 110.9,893.3 111.3,893.4 111.7,893.5 112.1,893.6 112.5,893.5 112.9,893.4 113.3,893.3 113.7,893.2 114.1,893.1 114.5,893 114.9,893 115.3,893 115.7,892.9 116.1,893 116.5,893.1 116.9,893 117.3,893.1 117.7,893.1 118.1,893.3 118.5,893.3 118.9,892.4 119.3,888.9 119.7,880.3 120.1,866.5 120.5,851.2 120.9,842.4 121.3,845.4 121.7,858.2 122.1,873.4 122.5,884.5 122.9,890.4 123.3,892.5 123.7,892.8 124.1,892.6 124.5,892.4 124.9,892.3 125.3,892 125.7,891.8 126.1,891.7 126.5,891.4 126.9,891.4 127.3,891.2 127.7,891 128.1,890.8 128.5,890.6 128.9,890.4 129.3,890 129.7,889.8 130.1,889.3 130.5,889 130.9,888.6 131.3,888.1 131.7,887.6 132.1,886.9 132.5,886.2 132.9,885.4 133.3,884.7 133.7,884.2 134.1,883.6 134.5,883.3 134.9,882.9 135.3,882.5 135.7,882 136.1,881.7 136.5,881.7 136.9,881.6 137.3,881.8 137.7,882.2 138.1,882.8 138.5,883.6 138.9,884.7 139.3,885.8 139.7,886.9 140.1,888 140.5,888.9 140.9,890.1 141.3,890.9 141.7,891.4 142.1,891.9 142.5,892.3 142.9,892.6 143.3,893.1 143.7,893.2 144.1,893.2 144.5,893.1 144.9,893 145.3,893.1 145.7,893.2 146.1,893.3 146.5,893.4 146.9,893.6 147.3,893.4 147.7,893.3 148.1,893.4 148.5,893.2 148.9,893.4 149.3,893.3 149.7,893.2 150.1,893.3 150.5,893.3 150.9,893.5 151.3,893.5 151.7,893.5 152.1,893.4 152.5,893.3 152.9,893.3 153.3,893.1 153.7,893.3 154.1,893.4 154.5,893.2 154.9,893.4 155.3,893.4 155.7,893.2 156.1,893.3 156.5,893.3 156.9,893.3 157.3,893.3 157.7,893.3 158.1,893.3 158.5,893.2 158.9,893.2 159.3,893.2 159.7,893.2 160.1,893.2 160.5,893.2 160.9,893.5 161.3,893.4 161.7,893.5 162.1,893.5 162.5,893.3 162.9,893.5 163.3,893.3 163.7,893.1 164.1,893.2 164.5,893.1 164.9,893.1 165.3,893.2 165.7,893.2 166.1,893.3 166.5,893.3 166.9,893.4 167.3,893.3 167.7,893.4 168.1,893.3 168.5,893.4 168.9,893.5 169.3,893.5 169.7,893.6 170.1,893.5 170.5,893.5 170.9,893.1 171.3,893 171.7,893 172.1,892.9 172.5,893 172.9,893 173.3,892.9 173.7,893 174.1,893.1 174.5,893.2 174.9,893.3 175.3,893.4 175.7,893.4 176.1,893.1 176.5,891.4 176.9,886.3 177.3,876.4 177.7,863.1 178.1,851.7 178.5,848.9 178.9,856.4 179.3,869.4 179.7,881.4 180.1,888.7 180.5,891.9 180.9,892.6 181.3,892.5 181.7,892.2 182.1,892 182.5,891.9 182.9,891.8 183.3,891.8 183.7,891.6 184.1,891.5 184.5,891.3 184.9,891.2 185.3,891.1 185.7,890.9 186.1,890.6 186.5,890.4 186.9,890 187.3,889.6 187.7,889.3 188.1,888.8 188.5,888.3 188.9,887.7 189.3,887.2 189.7,886.6 190.1,886 190.5,885.5 190.9,884.8 191.3,884.3 191.7,883.7 192.1,883 192.5,882.6 192.9,882 193.3,881.7 193.7,881.6 194.1,881.4 194.5,881.2 194.9,881.5 195.3,881.9 195.7,882.8 196.1,883.9 196.5,885 196.9,886 197.3,887.2 197.7,888.1 198.1,889.2 198.5,890.2 198.9,891 199.3,891.7 199.7,892.1 200.1,892.4 200.5,892.7 200.9,893 201.3,893.1 201.7,893.3 202.1,893.4 202.5,893.5 202.9,893.6 203.3,893.4 203.7,893.5 204.1,893.5 204.5,893.3 204.9,893.4 205.3,893.2 205.7,893.1 206.1,893.2 206.5,893.1 206.9,893.1 207.3,893 207.7,893 208.1,892.9 208.5,892.9 208.9,893.1 209.3,893.3 209.7,893.4 210.1,893.5 210.5,893.6 210.9,893.4 211.3,893.3 211.7,893.2 212.1,893.1 212.5,893.2 212.9,893.4 213.3,893.5 213.7,893.4 214.1,893.4 214.5,893.3 214.9,893.2 215.3,893.2 215.7,893.2 216.1,893.2 216.5,893.2 216.9,893.2 217.3,893.1 217.7,893.2 218.1,893.3 218.5,893.2 218.9,893.4 219.3,893.3 219.7,893.5 220.1,893.5 220.5,893.4 220.9,893.4 221.3,893.3 221.7,893.2 222.1,893.3 222.5,893.3 222.9,893.4 223.3,893.4 223.7,893.3 224.1,893.3 224.5,893.2 224.9,893 225.3,893 225.7,893 226.1,893.2 226.5,893.3 226.9,893.5 227.3,893.6 227.7,893.4 228.1,893.4 228.5,893.3 228.9,893.1 229.3,893 229.7,892.6 230.1,892.8 230.5,892.8 230.9,892.8 231.3,893 231.7,892.9 232.1,893.1 232.5,893.2 232.9,893.2 233.3,893.2 233.7,893.3 234.1,893.1 234.5,891.6 234.9,886.9 235.3,876.8 235.7,861.9 236.1,847.5 236.5,841.3 236.9,847.5 237.3,861.9 237.7,876.6 238.1,886.6 238.5,891.1 238.9,892.4 239.3,892.7 239.7,892.6 240.1,892.5 240.5,892.5 240.9,892.4 241.3,892.1 241.7,891.9 242.1,891.7 242.5,891.4 242.9,891.2 243.3,890.9 243.7,890.8 244.1,890.6 244.5,890.3 244.9,890.1 245.3,889.8 245.7,889.3 246.1,888.9 246.5,888.4 246.9,887.8 247.3,887.2 247.7,886.6 248.1,886.1 248.5,885.4 248.9,884.8 249.3,884.1 249.7,883.3 250.1,883 250.5,882.5 250.9,882.2 251.3,882.1 251.7,881.7 252.1,881.6 252.5,881.5 252.9,881.6 253.3,882.1 253.7,882.8 254.1,883.6 254.5,884.6 254.9,885.7 255.3,887 255.7,888.3 256.1,889.4 256.5,890.3 256.9,890.9 257.3,891.5 257.7,892 258.1,892.3 258.5,892.5 258.9,892.6 259.3,892.7 259.7,892.9 260.1,893 260.5,893.3 260.9,893.4 261.3,893.4 261.7,893.5 262.1,893.5 262.5,893.4 262.9,893.4 263.3,893.2 263.7,893.3 264.1,893.2 264.5,893.2 264.9,893.2 265.3,893.1 265.7,893.2 266.1,893.3 266.5,893.4 266.9,893.5 267.3,893.5 267.7,893.3 268.1,893.3 268.5,893.2 268.9,893.2 269.3,893.3 269.7,893.2 270.1,893.3 270.5,893.5 270.9,893.5 271.3,893.5 271.7,893.5 272.1,893.3 272.5,893.3 272.9,893.4 273.3,893.4 273.7,893.6 274.1,893.5 274.5,893.5 274.9,893.4 275.3,893.4 275.7,893.4 276.1,893.4 276.5,893.4 276.9,893.5 277.3,893.3 277.7,893.2 278.1,893.2 278.5,893.3 278.9,893.3 279.3,893.3 279.7,893.3 280.1,893.1 280.5,893.2 280.9,893.3 281.3,893.5 281.7,893.5 282.1,893.6 282.5,893.5 282.9,893.4 283.3,893.4 283.7,893.4 284.1,893.5 284.5,893.5 284.9,893.4 285.3,893.3 285.7,893.3 286.1,893.2 286.5,893 286.9,892.9 287.3,892.7 287.7,892.7 288.1,893.1 288.5,893.3 288.9,893.4 289.3,893.6 289.7,893.6 290.1,893.5 290.5,893.5 290.9,892.5 291.3,889.2 291.7,881.5 292.1,868.9 292.5,855 292.9,847 293.3,849.7 293.7,861.4 294.1,875.1 294.5,885.3 294.9,890.6 295.3,892.4 295.7,892.7 296.1,892.6 296.5,892.2 296.9,892.1 297.3,892.1 297.7,891.8 298.1,891.8 298.5,891.6 298.9,891.3 299.3,891.3 299.7,891.2 300.1,890.9 300.5,890.8 300.9,890.5 301.3,890.2 301.7,890 302.1,889.6 302.5,889.1 302.9,888.6 303.3,888 303.7,887.5 304.1,886.9 304.5,886.3 304.9,885.6 305.3,885 305.7,884.4 306.1,883.9 306.5,883.4 306.9,883 307.3,882.6 307.7,882.3 308.1,882 308.5,881.9 308.9,881.8 309.3,881.9 309.7,882.3 310.1,882.8 310.5,883.6 310.9,884.5 311.3,885.6 311.7,886.7 312.1,887.7 312.5,888.9 312.9,889.7 313.3,890.5 313.7,891.2 314.1,891.8 314.5,892.3 314.9,892.8 315.3,893.1 315.7,893.1 316.1,893.1 316.5,893.1 316.9,893.1 317.3,893.2 317.7,893.3 318.1,893.3 318.5,893.3 318.9,893.2 319.3,893.3 319.7,893.4 320.1,893.4 320.5,893.4 320.9,893.3 321.3,893.1 321.7,892.9 322.1,893 322.5,893 322.9,893.1 323.3,893.3 323.7,893.2 324.1,893.2 324.5,893.1 324.9,893.2 325.3,893.2 325.7,893.2 326.1,893.1 326.5,893 326.9,893 327.3,893.1 327.7,893.4 328.1,893.2 328.5,893.2 328.9,893.2 329.3,893 329.7,893.3 330.1,893.3 330.5,893.3 330.9,893.3 331.3,893.1 331.7,893 332.1,893 332.5,893 332.9,893.2 333.3,893.2 333.7,893.3 334.1,893.3 334.5,893.4 334.9,893.5 335.3,893.5 335.7,893.5 336.1,893.5 336.5,893.5 336.9,893.5 337.3,893.5 337.7,893.4 338.1,893.3 338.5,893.2 338.9,893.3 339.3,893.3 339.7,893.5 340.1,893.4 340.5,893.3 340.9,893.1 341.3,892.9 341.7,892.9 342.1,893 342.5,893.1 342.9,893.1 343.3,893.3 343.7,893.5 344.1,893.5 344.5,893.4 344.9,893.4 345.3,893.2 345.7,893.1 346.1,892 346.5,888.1 346.9,879.7 347.3,867.3 347.7,855.2 348.1,850.1 348.5,855.2 348.9,867.1 349.3,879.4 349.7,887.7 350.1,891.7 350.5,893 350.9,893 351.3,892.8 351.7,892.3 352.1,892.1 352.5,892 352.9,891.9 353.3,891.8 353.7,891.5 354.1,891.2 354.5,891 354.9,890.7 355.3,890.7 355.7,890.6 356.1,890.4 356.5,890.2 356.9,889.7 357.3,889.3 357.7,888.9 358.1,888.5 358.5,888 358.9,887.5 359.3,886.8 359.7,886.2 360.1,885.5 360.5,884.7 360.9,884.3 361.3,883.8 361.7,883.3 362.1,882.9 362.5,882.4 362.9,881.9 363.3,881.6 363.7,881.6 364.1,881.7 364.5,881.8 364.9,882.4 365.3,883 365.7,883.7 366.1,884.8 366.5,885.9 366.9,887 367.3,888.1 367.7,889.3 368.1,890.2 368.5,891.1 368.9,891.7 369.3,892.1 369.7,892.6 370.1,892.8 370.5,893 370.9,893 371.3,893 371.7,893.2 372.1,893.3 372.5,893.4 372.9,893.3 373.3,893.3 373.7,893.2 374.1,893 374.5,893.1 374.9,892.8 375.3,892.9 375.7,893 376.1,892.8 376.5,893 376.9,892.9 377.3,892.9 377.7,893.1 378.1,892.9 378.5,893.1 378.9,893 379.3,893.1 379.7,893.1 380.1,893 380.5,893 380.9,892.9 381.3,892.9 381.7,892.9 382.1,892.9 382.5,892.9 382.9,893 383.3,893 383.7,893 384.1,893.2 384.5,893.1 384.9,893.1 385.3,893.2 385.7,893 386.1,893.1 386.5,893.2 386.9,893.2" fill="none" stroke="#101010" stroke-width="0.95" stroke-linejoin="round" />
<line x1="121" y1="889.9" x2="121" y2="844.2" stroke="#14b814" stroke-width="1.5" />
<line x1="178.4" y1="889.9" x2="178.4" y2="850.8" stroke="#14b814" stroke-width="1.5" />
<line x1="236.5" y1="889.9" x2="236.5" y2="843.4" stroke="#14b814" stroke-width="1.5" />
<line x1="293" y1="889.9" x2="293" y2="848.5" stroke="#14b814" stroke-width="1.5" />
<line x1="348.1" y1="889.9" x2="348.1" y2="852.3" stroke="#14b814" stroke-width="1.5" />
<polygon points="60.1,977.5 60.1,939.9 60.5,939.7 60.9,939.6 61.3,939.6 61.7,939.4 62.1,939.4 62.5,939.5 62.9,939.6 63.3,939.7 63.7,939.7 64.1,939.6 64.5,939.7 64.9,939.6 65.3,939.7 65.7,939.8 66.1,939.6 66.5,939.8 66.9,939.7 67.3,939.6 67.7,939.6 68.1,939.4 68.5,939.5 68.9,939.6 69.3,939.5 69.7,939.7 70.1,939.7 70.5,939.6 70.9,939.7 71.3,939.5 71.7,939.5 72.1,939.5 72.5,939.4 72.9,939.4 73.3,939.1 73.7,939 74.1,939 74.5,939 74.9,939.1 75.3,939.2 75.7,939.4 76.1,939.5 76.5,939.5 76.9,939.5 77.3,939.6 77.7,939.5 78.1,939.4 78.5,939.5 78.9,938.6 79.3,934.3 79.7,924.4 80.1,912.6 80.5,909.3 80.9,917.9 81.3,929.6 81.7,936.8 82.1,939 82.5,938.9 82.9,938.8 83.3,938.6 83.7,938.5 84.1,938.5 84.5,938.3 84.9,938.2 85.3,938 85.7,937.9 86.1,937.7 86.5,937.4 86.9,937.4 87.3,937.1 87.7,936.9 88.1,936.8 88.5,936.6 88.9,936.2 89.3,935.8 89.7,935.3 90.1,934.9 90.5,934.6 90.9,934.2 91.3,933.9 91.7,933.4 92.1,932.8 92.5,932.2 92.9,931.5 93.3,930.8 93.7,930 94.1,929.3 94.5,928.7 94.9,928.1 95.3,927.5 95.7,927.1 96.1,926.8 96.5,926.3 96.9,926 97.3,925.9 97.7,925.6 98.1,925.8 98.5,926.2 98.9,926.8 99.3,927.6 99.7,928.5 100.1,929.5 100.5,930.6 100.9,931.9 101.3,933 101.7,934.1 102.1,935 102.5,935.9 102.9,936.6 103.3,937.3 103.7,937.8 104.1,938.3 104.5,938.8 104.9,939.1 105.3,939.4 105.7,939.6 106.1,939.6 106.5,939.7 106.9,939.6 107.3,939.4 107.7,939.4 108.1,939.5 108.5,939.6 108.9,939.5 109.3,939.4 109.7,939.4 110.1,939.4 110.5,939.5 110.9,939.4 111.3,939.3 111.7,939.3 112.1,939.4 112.5,939.4 112.9,939.4 113.3,939.2 113.7,939.1 114.1,939.1 114.5,939.1 114.9,939.1 115.3,939.1 115.7,939 116.1,939 116.5,939.2 116.9,939.2 117.3,939.2 117.7,939.1 118.1,939.2 118.5,939.2 118.9,939.1 119.3,939.4 119.7,939.3 120.1,939.4 120.5,939.4 120.9,939.2 121.3,939.5 121.7,939.4 122.1,939.5 122.5,939.5 122.9,939.2 123.3,939.3 123.7,939.3 124.1,939.4 124.5,939.6 124.9,939.6 125.3,939.7 125.7,939.8 126.1,939.7 126.5,939.5 126.9,939.6 127.3,939.6 127.7,939.7 128.1,939.9 128.5,939.9 128.9,939.8 129.3,939.8 129.7,939.7 130.1,939.7 130.5,939.6 130.9,939.5 131.3,939.7 131.7,939.7 132.1,939.8 132.5,939.9 132.9,939.7 133.3,939.5 133.7,939.4 134.1,939.3 134.5,939.3 134.9,939.4 135.3,939.5 135.7,939.5 136.1,939.7 136.5,939.5 136.9,939.6 137.3,939.6 137.7,939.4 138.1,939.3 138.5,939 138.9,938.8 139.3,938.8 139.7,938.8 140.1,939.1 140.5,939.1 140.9,939.2 141.3,939.4 141.7,939.4 142.1,939.7 142.5,939.8 142.9,939.8 143.3,939.9 143.7,939.6 144.1,937.2 144.5,929.9 144.9,917.8 145.3,908.9 145.7,912.3 146.1,924.1 146.5,934.2 146.9,938.7 147.3,939.3 147.7,938.9 148.1,938.6 148.5,938.6 148.9,938.4 149.3,938.3 149.7,938.2 150.1,937.8 150.5,937.8 150.9,937.8 151.3,937.8 151.7,937.7 152.1,937.5 152.5,937.2 152.9,936.9 153.3,936.8 153.7,936.4 154.1,936.3 154.5,935.9 154.9,935.6 155.3,935 155.7,934.3 156.1,933.9 156.5,933.2 156.9,932.8 157.3,932.3 157.7,931.7 158.1,931 158.5,930.4 158.9,929.7 159.3,928.9 159.7,928.4 160.1,927.7 160.5,927.3 160.9,927 161.3,926.5 161.7,926.4 162.1,926.4 162.5,926.2 162.9,926.2 163.3,926.2 163.7,926.3 164.1,927 164.5,927.9 164.9,928.9 165.3,930.1 165.7,931.3 166.1,932.4 166.5,933.3 166.9,934.3 167.3,935.2 167.7,936 168.1,936.9 168.5,937.5 168.9,938 169.3,938.5 169.7,938.8 170.1,938.9 170.5,939.1 170.9,939.2 171.3,939.2 171.7,939.4 172.1,939.4 172.5,939.5 172.9,939.5 173.3,939.5 173.7,939.5 174.1,939.5 174.5,939.5 174.9,939.5 175.3,939.6 175.7,939.4 176.1,939.5 176.5,939.5 176.9,939.4 177.3,939.4 177.7,939.2 178.1,939.1 178.5,939.2 178.9,939.2 179.3,939.4 179.7,939.4 180.1,939.4 180.5,939.5 180.9,939.4 181.3,939.2 181.7,939.2 182.1,939.2 182.5,939.2 182.9,939.3 183.3,939.5 183.7,939.6 184.1,939.6 184.5,939.6 184.9,939.4 185.3,939.3 185.7,939.5 186.1,939.5 186.5,939.6 186.9,939.5 187.3,939.5 187.7,939.5 188.1,939.4 188.5,939.6 188.9,939.4 189.3,939.4 189.7,939.6 190.1,939.5 190.5,939.6 190.9,939.5 191.3,939.7 191.7,939.5 192.1,939.8 192.5,939.8 192.9,939.7 193.3,939.8 193.7,939.6 194.1,939.7 194.5,939.7 194.9,939.6 195.3,939.7 195.7,939.7 196.1,939.8 196.5,939.9 196.9,939.8 197.3,939.8 197.7,939.7 198.1,939.6 198.5,939.8 198.9,939.6 199.3,939.4 199.7,939.5 200.1,939.4 200.5,939.5 200.9,939.6 201.3,939.7 201.7,939.7 202.1,939.8 202.5,939.8 202.9,939.8 203.3,939.8 203.7,939.5 204.1,939.4 204.5,939 204.9,938.9 205.3,939.2 205.7,939.1 206.1,939.5 206.5,939.6 206.9,939.6 207.3,939.6 207.7,939.4 208.1,939.3 208.5,939.4 208.9,939.6 209.3,939.6 209.7,937.7 210.1,931.4 210.5,920.8 210.9,913.1 211.3,915.9 211.7,926 212.1,934.8 212.5,938.7 212.9,939.4 213.3,939.1 213.7,938.8 214.1,938.6 214.5,938.3 214.9,938.2 215.3,938.1 215.7,938 216.1,938.1 216.5,938 216.9,937.8 217.3,937.7 217.7,937.5 218.1,937.2 218.5,937.1 218.9,936.8 219.3,936.7 219.7,936.4 220.1,935.8 220.5,935.3 220.9,934.9 221.3,934.5 221.7,934.1 222.1,933.6 222.5,932.9 222.9,932.2 223.3,931.5 223.7,930.8 224.1,930.3 224.5,929.6 224.9,929.1 225.3,928.5 225.7,927.9 226.1,927.3 226.5,926.8 226.9,926.3 227.3,926 227.7,925.8 228.1,925.8 228.5,925.6 228.9,925.9 229.3,926.4 229.7,927 230.1,928 230.5,928.9 230.9,929.8 231.3,931 231.7,932.1 232.1,933.1 232.5,934.3 232.9,935.3 233.3,936.2 233.7,937.1 234.1,937.7 234.5,938.2 234.9,938.5 235.3,938.7 235.7,938.9 236.1,939 236.5,939.3 236.9,939.4 237.3,939.5 237.7,939.6 238.1,939.6 238.5,939.8 238.9,939.9 239.3,939.8 239.7,939.8 240.1,939.6 240.5,939.5 240.9,939.5 241.3,939.4 241.7,939.5 242.1,939.4 242.5,939.4 242.9,939.3 243.3,939.2 243.7,939.2 244.1,939.2 244.5,939.3 244.9,939.3 245.3,939.3 245.7,939.3 246.1,939.3 246.5,939.3 246.9,939.2 247.3,939.2 247.7,939.2 248.1,939.1 248.5,939.2 248.9,939.3 249.3,939.4 249.7,939.4 250.1,939.6 250.5,939.4 250.9,939.4 251.3,939.5 251.7,939.4 252.1,939.4 252.5,939.6 252.9,939.5 253.3,939.6 253.7,939.6 254.1,939.6 254.5,939.7 254.9,939.8 255.3,939.7 255.7,939.8 256.1,939.8 256.5,939.8 256.9,939.9 257.3,939.8 257.7,939.8 258.1,939.8 258.5,939.7 258.9,939.9 259.3,939.8 259.7,939.8 260.1,939.7 260.5,939.5 260.9,939.5 261.3,939.4 261.7,939.6 262.1,939.8 262.5,939.7 262.9,939.7 263.3,939.6 263.7,939.4 264.1,939.5 264.5,939.5 264.9,939.6 265.3,939.7 265.7,939.5 266.1,939.7 266.5,939.7 266.9,939.7 267.3,939.7 267.7,939.3 268.1,939 268.5,938.8 268.9,938.6 269.3,938.8 269.7,939.1 270.1,939.4 270.5,939.5 270.9,939.6 271.3,939.6 271.7,939.4 272.1,939.4 272.5,939.6 272.9,939.5 273.3,937.3 273.7,930.1 274.1,918 274.5,909.1 274.9,912.2 275.3,923.9 275.7,934 276.1,938.4 276.5,939.2 276.9,938.9 277.3,938.7 277.7,938.7 278.1,938.7 278.5,938.6 278.9,938.3 279.3,938 279.7,937.8 280.1,937.7 280.5,937.6 280.9,937.4 281.3,937.3 281.7,937 282.1,936.8 282.5,936.7 282.9,936.6 283.3,936.3 283.7,936 284.1,935.6 284.5,935.1 284.9,934.8 285.3,934.2 285.7,933.6 286.1,933.1 286.5,932.4 286.9,931.9 287.3,931.3 287.7,930.6 288.1,929.8 288.5,929.1 288.9,928.5 289.3,927.9 289.7,927.5 290.1,927.2 290.5,926.8 290.9,926.4 291.3,926 291.7,925.9 292.1,925.9 292.5,926.1 292.9,926.7 293.3,927.3 293.7,928 294.1,929 294.5,930 294.9,931.1 295.3,932.5 295.7,933.6 296.1,934.6 296.5,935.5 296.9,936.3 297.3,937 297.7,937.5 298.1,938 298.5,938.3 298.9,938.5 299.3,938.8 299.7,939 300.1,939.2 300.5,939.4 300.9,939.6 301.3,939.6 301.7,939.7 302.1,939.6 302.5,939.5 302.9,939.5 303.3,939.5 303.7,939.5 304.1,939.6 304.5,939.6 304.9,939.7 305.3,939.6 305.7,939.5 306.1,939.3 306.5,939.3 306.9,939.2 307.3,939.2 307.7,939.3 308.1,939.3 308.5,939.2 308.9,939.2 309.3,939.1 309.7,939.3 310.1,939.3 310.5,939.5 310.9,939.4 311.3,939.2 311.7,939.2 312.1,939.4 312.5,939.6 312.9,939.7 313.3,939.5 313.7,939.5 314.1,939.4 314.5,939.5 314.9,939.5 315.3,939.6 315.7,939.5 316.1,939.5 316.5,939.6 316.9,939.5 317.3,939.7 317.7,939.6 318.1,939.5 318.5,939.5 318.9,939.4 319.3,939.6 319.7,939.7 320.1,939.6 320.5,939.6 320.9,939.6 321.3,939.5 321.7,939.6 322.1,939.6 322.5,939.9 322.9,939.9 323.3,939.8 323.7,939.9 324.1,939.7 324.5,939.7 324.9,939.8 325.3,939.8 325.7,939.8 326.1,939.8 326.5,939.7 326.9,939.7 327.3,939.8 327.7,939.6 328.1,939.5 328.5,939.5 328.9,939.4 329.3,939.5 329.7,939.6 330.1,939.6 330.5,939.6 330.9,939.6 331.3,939.3 331.7,939.2 332.1,938.9 332.5,939.1 332.9,939.2 333.3,939.2 333.7,939.4 334.1,939.3 334.5,939.4 334.9,939.4 335.3,939.5 335.7,939.7 336.1,939.8 336.5,939.3 336.9,936.1 337.3,927.3 337.7,915.1 338.1,909.1 338.5,915.2 338.9,927.3 339.3,935.7 339.7,938.9 340.1,939 340.5,938.6 340.9,938.5 341.3,938.4 341.7,938.5 342.1,938.3 342.5,938.3 342.9,938.2 343.3,938.2 343.7,938 344.1,937.7 344.5,937.5 344.9,937.2 345.3,937 345.7,936.7 346.1,936.6 346.5,936.3 346.9,936.1 347.3,935.7 347.7,935.2 348.1,934.8 348.5,934.4 348.9,934.1 349.3,933.5 349.7,932.9 350.1,932.2 350.5,931.5 350.9,930.9 351.3,930.3 351.7,929.7 352.1,929 352.5,928.3 352.9,927.6 353.3,927 353.7,926.6 354.1,926.2 354.5,926 354.9,926 355.3,925.9 355.7,925.9 356.1,926.2 356.5,926.6 356.9,927.2 357.3,928.1 357.7,929.1 358.1,930.1 358.5,931.3 358.9,932.6 359.3,933.6 359.7,934.7 360.1,935.6 360.5,936.2 360.9,936.9 361.3,937.5 361.7,938 362.1,938.6 362.5,938.9 362.9,939.2 363.3,939.4 363.7,939.3 364.1,939.3 364.5,939.2 364.9,939.2 365.3,939.2 365.7,939.4 366.1,939.6 366.5,939.7 366.9,939.5 367.3,939.4 367.7,939.4 368.1,939.2 368.5,939.3 368.9,939.3 369.3,939.1 369.7,939.3 370.1,939.3 370.5,939.2 370.9,939.3 371.3,939.2 371.7,939.3 372.1,939.5 372.5,939.5 372.9,939.6 373.3,939.4 373.7,939.3 374.1,939.4 374.5,939.2 374.9,939.4 375.3,939.5 375.7,939.4 376.1,939.5 376.5,939.7 376.9,939.6 377.3,939.6 377.7,939.6 378.1,939.4 378.5,939.5 378.9,939.5 379.3,939.5 379.7,939.6 379.9,977.5" fill="#ff0000" stroke="none" stroke-width="1" />
<polyline points="60.1,939.9 60.5,939.7 60.9,939.6 61.3,939.6 61.7,939.4 62.1,939.4 62.5,939.5 62.9,939.6 63.3,939.7 63.7,939.7 64.1,939.6 64.5,939.7 64.9,939.6 65.3,939.7 65.7,939.8 66.1,939.6 66.5,939.8 66.9,939.7 67.3,939.6 67.7,939.6 68.1,939.4 68.5,939.5 68.9,939.6 69.3,939.5 69.7,939.7 70.1,939.7 70.5,939.6 70.9,939.7 71.3,939.5 71.7,939.5 72.1,939.5 72.5,939.4 72.9,939.4 73.3,939.1 73.7,939 74.1,939 74.5,939 74.9,939.1 75.3,939.2 75.7,939.4 76.1,939.5 76.5,939.5 76.9,939.5 77.3,939.6 77.7,939.5 78.1,939.4 78.5,939.5 78.9,938.6 79.3,934.3 79.7,924.4 80.1,912.6 80.5,909.3 80.9,917.9 81.3,929.6 81.7,936.8 82.1,939 82.5,938.9 82.9,938.8 83.3,938.6 83.7,938.5 84.1,938.5 84.5,938.3 84.9,938.2 85.3,938 85.7,937.9 86.1,937.7 86.5,937.4 86.9,937.4 87.3,937.1 87.7,936.9 88.1,936.8 88.5,936.6 88.9,936.2 89.3,935.8 89.7,935.3 90.1,934.9 90.5,934.6 90.9,934.2 91.3,933.9 91.7,933.4 92.1,932.8 92.5,932.2 92.9,931.5 93.3,930.8 93.7,930 94.1,929.3 94.5,928.7 94.9,928.1 95.3,927.5 95.7,927.1 96.1,926.8 96.5,926.3 96.9,926 97.3,925.9 97.7,925.6 98.1,925.8 98.5,926.2 98.9,926.8 99.3,927.6 99.7,928.5 100.1,929.5 100.5,930.6 100.9,931.9 101.3,933 101.7,934.1 102.1,935 102.5,935.9 102.9,936.6 103.3,937.3 103.7,937.8 104.1,938.3 104.5,938.8 104.9,939.1 105.3,939.4 105.7,939.6 106.1,939.6 106.5,939.7 106.9,939.6 107.3,939.4 107.7,939.4 108.1,939.5 108.5,939.6 108.9,939.5 109.3,939.4 109.7,939.4 110.1,939.4 110.5,939.5 110.9,939.4 111.3,939.3 111.7,939.3 112.1,939.4 112.5,939.4 112.9,939.4 113.3,939.2 113.7,939.1 114.1,939.1 114.5,939.1 114.9,939.1 115.3,939.1 115.7,939 116.1,939 116.5,939.2 116.9,939.2 117.3,939.2 117.7,939.1 118.1,939.2 118.5,939.2 118.9,939.1 119.3,939.4 119.7,939.3 120.1,939.4 120.5,939.4 120.9,939.2 121.3,939.5 121.7,939.4 122.1,939.5 122.5,939.5 122.9,939.2 123.3,939.3 123.7,939.3 124.1,939.4 124.5,939.6 124.9,939.6 125.3,939.7 125.7,939.8 126.1,939.7 126.5,939.5 126.9,939.6 127.3,939.6 127.7,939.7 128.1,939.9 128.5,939.9 128.9,939.8 129.3,939.8 129.7,939.7 130.1,939.7 130.5,939.6 130.9,939.5 131.3,939.7 131.7,939.7 132.1,939.8 132.5,939.9 132.9,939.7 133.3,939.5 133.7,939.4 134.1,939.3 134.5,939.3 134.9,939.4 135.3,939.5 135.7,939.5 136.1,939.7 136.5,939.5 136.9,939.6 137.3,939.6 137.7,939.4 138.1,939.3 138.5,939 138.9,938.8 139.3,938.8 139.7,938.8 140.1,939.1 140.5,939.1 140.9,939.2 141.3,939.4 141.7,939.4 142.1,939.7 142.5,939.8 142.9,939.8 143.3,939.9 143.7,939.6 144.1,937.2 144.5,929.9 144.9,917.8 145.3,908.9 145.7,912.3 146.1,924.1 146.5,934.2 146.9,938.7 147.3,939.3 147.7,938.9 148.1,938.6 148.5,938.6 148.9,938.4 149.3,938.3 149.7,938.2 150.1,937.8 150.5,937.8 150.9,937.8 151.3,937.8 151.7,937.7 152.1,937.5 152.5,937.2 152.9,936.9 153.3,936.8 153.7,936.4 154.1,936.3 154.5,935.9 154.9,935.6 155.3,935 155.7,934.3 156.1,933.9 156.5,933.2 156.9,932.8 157.3,932.3 157.7,931.7 158.1,931 158.5,930.4 158.9,929.7 159.3,928.9 159.7,928.4 160.1,927.7 160.5,927.3 160.9,927 161.3,926.5 161.7,926.4 162.1,926.4 162.5,926.2 162.9,926.2 163.3,926.2 163.7,926.3 164.1,927 164.5,927.9 164.9,928.9 165.3,930.1 165.7,931.3 166.1,932.4 166.5,933.3 166.9,934.3 167.3,935.2 167.7,936 168.1,936.9 168.5,937.5 168.9,938 169.3,938.5 169.7,938.8 170.1,938.9 170.5,939.1 170.9,939.2 171.3,939.2 171.7,939.4 172.1,939.4 172.5,939.5 172.9,939.5 173.3,939.5 173.7,939.5 174.1,939.5 174.5,939.5 174.9,939.5 175.3,939.6 175.7,939.4 176.1,939.5 176.5,939.5 176.9,939.4 177.3,939.4 177.7,939.2 178.1,939.1 178.5,939.2 178.9,939.2 179.3,939.4 179.7,939.4 180.1,939.4 180.5,939.5 180.9,939.4 181.3,939.2 181.7,939.2 182.1,939.2 182.5,939.2 182.9,939.3 183.3,939.5 183.7,939.6 184.1,939.6 184.5,939.6 184.9,939.4 185.3,939.3 185.7,939.5 186.1,939.5 186.5,939.6 186.9,939.5 187.3,939.5 187.7,939.5 188.1,939.4 188.5,939.6 188.9,939.4 189.3,939.4 189.7,939.6 190.1,939.5 190.5,939.6 190.9,939.5 191.3,939.7 191.7,939.5 192.1,939.8 192.5,939.8 192.9,939.7 193.3,939.8 193.7,939.6 194.1,939.7 194.5,939.7 194.9,939.6 195.3,939.7 195.7,939.7 196.1,939.8 196.5,939.9 196.9,939.8 197.3,939.8 197.7,939.7 198.1,939.6 198.5,939.8 198.9,939.6 199.3,939.4 199.7,939.5 200.1,939.4 200.5,939.5 200.9,939.6 201.3,939.7 201.7,939.7 202.1,939.8 202.5,939.8 202.9,939.8 203.3,939.8 203.7,939.5 204.1,939.4 204.5,939 204.9,938.9 205.3,939.2 205.7,939.1 206.1,939.5 206.5,939.6 206.9,939.6 207.3,939.6 207.7,939.4 208.1,939.3 208.5,939.4 208.9,939.6 209.3,939.6 209.7,937.7 210.1,931.4 210.5,920.8 210.9,913.1 211.3,915.9 211.7,926 212.1,934.8 212.5,938.7 212.9,939.4 213.3,939.1 213.7,938.8 214.1,938.6 214.5,938.3 214.9,938.2 215.3,938.1 215.7,938 216.1,938.1 216.5,938 216.9,937.8 217.3,937.7 217.7,937.5 218.1,937.2 218.5,937.1 218.9,936.8 219.3,936.7 219.7,936.4 220.1,935.8 220.5,935.3 220.9,934.9 221.3,934.5 221.7,934.1 222.1,933.6 222.5,932.9 222.9,932.2 223.3,931.5 223.7,930.8 224.1,930.3 224.5,929.6 224.9,929.1 225.3,928.5 225.7,927.9 226.1,927.3 226.5,926.8 226.9,926.3 227.3,926 227.7,925.8 228.1,925.8 228.5,925.6 228.9,925.9 229.3,926.4 229.7,927 230.1,928 230.5,928.9 230.9,929.8 231.3,931 231.7,932.1 232.1,933.1 232.5,934.3 232.9,935.3 233.3,936.2 233.7,937.1 234.1,937.7 234.5,938.2 234.9,938.5 235.3,938.7 235.7,938.9 236.1,939 236.5,939.3 236.9,939.4 237.3,939.5 237.7,939.6 238.1,939.6 238.5,939.8 238.9,939.9 239.3,939.8 239.7,939.8 240.1,939.6 240.5,939.5 240.9,939.5 241.3,939.4 241.7,939.5 242.1,939.4 242.5,939.4 242.9,939.3 243.3,939.2 243.7,939.2 244.1,939.2 244.5,939.3 244.9,939.3 245.3,939.3 245.7,939.3 246.1,939.3 246.5,939.3 246.9,939.2 247.3,939.2 247.7,939.2 248.1,939.1 248.5,939.2 248.9,939.3 249.3,939.4 249.7,939.4 250.1,939.6 250.5,939.4 250.9,939.4 251.3,939.5 251.7,939.4 252.1,939.4 252.5,939.6 252.9,939.5 253.3,939.6 253.7,939.6 254.1,939.6 254.5,939.7 254.9,939.8 255.3,939.7 255.7,939.8 256.1,939.8 256.5,939.8 256.9,939.9 257.3,939.8 257.7,939.8 258.1,939.8 258.5,939.7 258.9,939.9 259.3,939.8 259.7,939.8 260.1,939.7 260.5,939.5 260.9,939.5 261.3,939.4 261.7,939.6 262.1,939.8 262.5,939.7 262.9,939.7 263.3,939.6 263.7,939.4 264.1,939.5 264.5,939.5 264.9,939.6 265.3,939.7 265.7,939.5 266.1,939.7 266.5,939.7 266.9,939.7 267.3,939.7 267.7,939.3 268.1,939 268.5,938.8 268.9,938.6 269.3,938.8 269.7,939.1 270.1,939.4 270.5,939.5 270.9,939.6 271.3,939.6 271.7,939.4 272.1,939.4 272.5,939.6 272.9,939.5 273.3,937.3 273.7,930.1 274.1,918 274.5,909.1 274.9,912.2 275.3,923.9 275.7,934 276.1,938.4 276.5,939.2 276.9,938.9 277.3,938.7 277.7,938.7 278.1,938.7 278.5,938.6 278.9,938.3 279.3,938 279.7,937.8 280.1,937.7 280.5,937.6 280.9,937.4 281.3,937.3 281.7,937 282.1,936.8 282.5,936.7 282.9,936.6 283.3,936.3 283.7,936 284.1,935.6 284.5,935.1 284.9,934.8 285.3,934.2 285.7,933.6 286.1,933.1 286.5,932.4 286.9,931.9 287.3,931.3 287.7,930.6 288.1,929.8 288.5,929.1 288.9,928.5 289.3,927.9 289.7,927.5 290.1,927.2 290.5,926.8 290.9,926.4 291.3,926 291.7,925.9 292.1,925.9 292.5,926.1 292.9,926.7 293.3,927.3 293.7,928 294.1,929 294.5,930 294.9,931.1 295.3,932.5 295.7,933.6 296.1,934.6 296.5,935.5 296.9,936.3 297.3,937 297.7,937.5 298.1,938 298.5,938.3 298.9,938.5 299.3,938.8 299.7,939 300.1,939.2 300.5,939.4 300.9,939.6 301.3,939.6 301.7,939.7 302.1,939.6 302.5,939.5 302.9,939.5 303.3,939.5 303.7,939.5 304.1,939.6 304.5,939.6 304.9,939.7 305.3,939.6 305.7,939.5 306.1,939.3 306.5,939.3 306.9,939.2 307.3,939.2 307.7,939.3 308.1,939.3 308.5,939.2 308.9,939.2 309.3,939.1 309.7,939.3 310.1,939.3 310.5,939.5 310.9,939.4 311.3,939.2 311.7,939.2 312.1,939.4 312.5,939.6 312.9,939.7 313.3,939.5 313.7,939.5 314.1,939.4 314.5,939.5 314.9,939.5 315.3,939.6 315.7,939.5 316.1,939.5 316.5,939.6 316.9,939.5 317.3,939.7 317.7,939.6 318.1,939.5 318.5,939.5 318.9,939.4 319.3,939.6 319.7,939.7 320.1,939.6 320.5,939.6 320.9,939.6 321.3,939.5 321.7,939.6 322.1,939.6 322.5,939.9 322.9,939.9 323.3,939.8 323.7,939.9 324.1,939.7 324.5,939.7 324.9,939.8 325.3,939.8 325.7,939.8 326.1,939.8 326.5,939.7 326.9,939.7 327.3,939.8 327.7,939.6 328.1,939.5 328.5,939.5 328.9,939.4 329.3,939.5 329.7,939.6 330.1,939.6 330.5,939.6 330.9,939.6 331.3,939.3 331.7,939.2 332.1,938.9 332.5,939.1 332.9,939.2 333.3,939.2 333.7,939.4 334.1,939.3 334.5,939.4 334.9,939.4 335.3,939.5 335.7,939.7 336.1,939.8 336.5,939.3 336.9,936.1 337.3,927.3 337.7,915.1 338.1,909.1 338.5,915.2 338.9,927.3 339.3,935.7 339.7,938.9 340.1,939 340.5,938.6 340.9,938.5 341.3,938.4 341.7,938.5 342.1,938.3 342.5,938.3 342.9,938.2 343.3,938.2 343.7,938 344.1,937.7 344.5,937.5 344.9,937.2 345.3,937 345.7,936.7 346.1,936.6 346.5,936.3 346.9,936.1 347.3,935.7 347.7,935.2 348.1,934.8 348.5,934.4 348.9,934.1 349.3,933.5 349.7,932.9 350.1,932.2 350.5,931.5 350.9,930.9 351.3,930.3 351.7,929.7 352.1,929 352.5,928.3 352.9,927.6 353.3,927 353.7,926.6 354.1,926.2 354.5,926 354.9,926 355.3,925.9 355.7,925.9 356.1,926.2 356.5,926.6 356.9,927.2 357.3,928.1 357.7,929.1 358.1,930.1 358.5,931.3 358.9,932.6 359.3,933.6 359.7,934.7 360.1,935.6 360.5,936.2 360.9,936.9 361.3,937.5 361.7,938 362.1,938.6 362.5,938.9 362.9,939.2 363.3,939.4 363.7,939.3 364.1,939.3 364.5,939.2 364.9,939.2 365.3,939.2 365.7,939.4 366.1,939.6 366.5,939.7 366.9,939.5 367.3,939.4 367.7,939.4 368.1,939.2 368.5,939.3 368.9,939.3 369.3,939.1 369.7,939.3 370.1,939.3 370.5,939.2 370.9,939.3 371.3,939.2 371.7,939.3 372.1,939.5 372.5,939.5 372.9,939.6 373.3,939.4 373.7,939.3 374.1,939.4 374.5,939.2 374.9,939.4 375.3,939.5 375.7,939.4 376.1,939.5 376.5,939.7 376.9,939.6 377.3,939.6 377.7,939.6 378.1,939.4 378.5,939.5 378.9,939.5 379.3,939.5 379.7,939.6" fill="none" stroke="#101010" stroke-width="0.95" stroke-linejoin="round" />
<line x1="80.4" y1="936.1" x2="80.4" y2="911.1" stroke="#c01010" stroke-width="1.5" />
<line x1="145.4" y1="936.1" x2="145.4" y2="910.6" stroke="#c01010" stroke-width="1.5" />
<line x1="211" y1="936.1" x2="211" y2="914.8" stroke="#c01010" stroke-width="1.5" />
<line x1="274.6" y1="936.1" x2="274.6" y2="910.8" stroke="#c01010" stroke-width="1.5" />
<line x1="338.1" y1="936.1" x2="338.1" y2="911.3" stroke="#c01010" stroke-width="1.5" />
<line x1="40.1" y1="906.6" x2="40.1" y2="1007.5" stroke="#111" stroke-width="1.5" />
<line x1="39.4" y1="1006.8" x2="375.6" y2="1006.8" stroke="#111" stroke-width="1.5" />
<line x1="375.3" y1="1006.8" x2="401.5" y2="832.2" stroke="#111" stroke-width="1.4" />
<line x1="36.2" y1="907.3" x2="40.1" y2="907.3" stroke="#111" stroke-width="1.3" />
<text x="34.4" y="912.7" font-size="16.6" text-anchor="end" fill="#000" stroke="#000" >2</text>
<line x1="36.2" y1="935.7" x2="40.1" y2="935.7" stroke="#111" stroke-width="1.3" />
<text x="34.4" y="941.1" font-size="16.6" text-anchor="end" fill="#000" stroke="#000" >1</text>
<line x1="36.2" y1="964.1" x2="40.1" y2="964.1" stroke="#111" stroke-width="1.3" />
<text x="34.4" y="969.5" font-size="16.6" text-anchor="end" fill="#000" stroke="#000" >0</text>
<line x1="36.2" y1="992.4" x2="40.1" y2="992.4" stroke="#111" stroke-width="1.3" />
<text x="34.4" y="997.8" font-size="16.6" text-anchor="end" fill="#000" stroke="#000" >−1</text>
<line x1="40.1" y1="1006.8" x2="40.1" y2="1010.4" stroke="#111" stroke-width="1.3" />
<text x="40.1" y="1027" font-size="16.6" text-anchor="middle" fill="#000" stroke="#000" >0</text>
<line x1="125.8" y1="1006.8" x2="125.8" y2="1010.4" stroke="#111" stroke-width="1.3" />
<text x="125.8" y="1027" font-size="16.6" text-anchor="middle" fill="#000" stroke="#000" >1</text>
<line x1="211.6" y1="1006.8" x2="211.6" y2="1010.4" stroke="#111" stroke-width="1.3" />
<text x="211.6" y="1027" font-size="16.6" text-anchor="middle" fill="#000" stroke="#000" >2</text>
<line x1="297.4" y1="1006.8" x2="297.4" y2="1010.4" stroke="#111" stroke-width="1.3" />
<text x="297.4" y="1027" font-size="16.6" text-anchor="middle" fill="#000" stroke="#000" >3</text>
<text x="212.8" y="1044.6" font-size="16.4" text-anchor="middle" fill="#000" stroke="#000" >Time (s)</text>
<text transform="translate(12.4 957.5) rotate(-90)" font-size="16.5" text-anchor="middle" fill="#000" stroke="#000" >ECG (mV)</text>
<line x1="399.1" y1="848.5" x2="402.1" y2="848.2" stroke="#111" stroke-width="1.0" />
<text transform="translate(403.2 852.9) scale(0.96 1)" font-size="12.6" text-anchor="start" fill="#000" stroke="#000" >48</text>
<line x1="393.7" y1="884.3" x2="396.7" y2="884" stroke="#111" stroke-width="1.0" />
<text transform="translate(398.4 889.1) scale(0.97 1)" font-size="13.2" text-anchor="start" fill="#000" stroke="#000" >24</text>
<line x1="387.3" y1="927" x2="390.3" y2="926.7" stroke="#111" stroke-width="1.0" />
<text transform="translate(393.6 931.8) scale(0.92 1)" font-size="14.2" text-anchor="start" fill="#000" stroke="#000" >12</text>
<line x1="379.7" y1="977.4" x2="382.7" y2="977.1" stroke="#111" stroke-width="1.0" />
<text transform="translate(385 982.8) scale(0.92 1)" font-size="16.2" text-anchor="start" fill="#000" stroke="#000" >0</text>
<text transform="matrix(0.09 -0.785 1 0 422.6 906.4)" font-size="13" text-anchor="middle">Time (h)</text>
<polyline points="472.1,907.3 594.4,761.4 832.9,761.4 832.9,833" fill="none" stroke="#b2b2b2" stroke-width="0.9" stroke-linejoin="round" />
<line x1="594.4" y1="761.4" x2="594.4" y2="832" stroke="#b2b2b2" stroke-width="0.9" />
<line x1="472.1" y1="1006.7" x2="493" y2="976.8" stroke="#b2b2b2" stroke-width="0.9" />
<text x="829.8" y="776.4" font-size="17.2" text-anchor="end" fill="#000" stroke="#000" >Commerical gel</text>
<polygon points="582.5,848.5 582.5,821.1 582.9,819.8 583.3,818.1 583.7,816.7 584.1,815.3 584.5,814.3 584.9,814 585.3,813.7 585.7,813.4 586.1,813.2 586.5,812.9 586.9,812.7 587.3,812.4 587.7,812.1 588.1,812 588.5,812 588.9,812.2 589.3,812.2 589.7,812.4 590.1,812.2 590.5,812.2 590.9,812.2 591.3,812.2 591.7,812.3 592.1,812.3 592.5,812.4 592.9,812.5 593.3,812.7 593.7,812.7 594.1,812.9 594.5,813.1 594.9,813.3 595.3,813.7 595.7,814.1 596.1,814.3 596.5,814.4 596.9,814.5 597.3,814.6 597.7,814.8 598.1,815 598.5,815.2 598.9,815.2 599.3,815.3 599.7,815.6 600.1,815.8 600.5,816.1 600.9,816.3 601.3,816.4 601.7,816.4 602.1,816.5 602.5,816.5 602.9,816.6 603.3,816.8 603.7,817.1 604.1,817.2 604.5,817.1 604.9,817.2 605.3,817 605.7,817.2 606.1,817.5 606.5,817.5 606.9,817.6 607.3,817.6 607.7,817.5 608.1,817.4 608.5,817.5 608.9,817.5 609.3,817.6 609.7,817.6 610.1,817.7 610.5,817.7 610.9,817.8 611.3,818 611.7,818.1 612.1,818 612.5,817.8 612.9,817.4 613.3,817.4 613.7,817.6 614.1,817.9 614.5,818.2 614.9,818.3 615.3,818.4 615.7,818.3 616.1,818.5 616.5,818.2 616.9,818.2 617.3,818.1 617.7,815.1 618.1,803.7 618.5,785.2 618.9,779.3 619.3,794.1 619.7,810.3 620.1,816.8 620.5,817.6 620.9,817.1 621.3,816.8 621.7,816.6 622.1,816.3 622.5,816.1 622.9,815.7 623.3,815.4 623.7,814.9 624.1,814.6 624.5,814.3 624.9,814.1 625.3,813.8 625.7,813.7 626.1,813.4 626.5,813 626.9,812.8 627.3,812.4 627.7,812.2 628.1,812.1 628.5,811.8 628.9,811.5 629.3,811.3 629.7,811 630.1,810.8 630.5,810.8 630.9,810.6 631.3,810.7 631.7,810.8 632.1,811.1 632.5,811.4 632.9,811.7 633.3,812.4 633.7,812.9 634.1,813.3 634.5,813.8 634.9,814.1 635.3,814.4 635.7,814.7 636.1,814.9 636.5,814.9 636.9,815 637.3,815 637.7,815.1 638.1,815.1 638.5,815 638.9,814.9 639.3,814.7 639.7,814.7 640.1,814.7 640.5,814.7 640.9,814.7 641.3,814.6 641.7,814.5 642.1,814.4 642.5,814.4 642.9,814.3 643.3,814.2 643.7,814.2 644.1,814.1 644.5,814.2 644.9,814.2 645.3,814.1 645.7,814 646.1,813.9 646.5,813.9 646.9,813.9 647.3,814 647.7,814 648.1,813.8 648.5,813.6 648.9,813.4 649.3,813.3 649.7,813.3 650.1,813.5 650.5,813.4 650.9,813.3 651.3,813.3 651.7,813.2 652.1,813.1 652.5,813.3 652.9,813.1 653.3,813.2 653.7,813.1 654.1,812.9 654.5,812.9 654.9,812.7 655.3,812.5 655.7,812.5 656.1,812.3 656.5,812.5 656.9,812.7 657.3,812.8 657.7,813 658.1,812.8 658.5,812.6 658.9,812.5 659.3,812.4 659.7,812.6 660.1,812.6 660.5,812.7 660.9,809.7 661.3,798 661.7,779.3 662.1,773.3 662.5,788.3 662.9,804.7 663.3,811.1 663.7,811.7 664.1,811.4 664.5,811.2 664.9,811.1 665.3,810.9 665.7,810.7 666.1,810.5 666.5,810.3 666.9,810.2 667.3,809.9 667.7,809.7 668.1,809.4 668.5,809 668.9,808.9 669.3,808.5 669.7,808.2 670.1,808 670.5,807.6 670.9,807.5 671.3,807.2 671.7,806.9 672.1,806.8 672.5,806.7 672.9,807 673.3,806.9 673.7,806.9 674.1,806.8 674.5,806.8 674.9,807 675.3,807.3 675.7,807.7 676.1,808.3 676.5,808.8 676.9,809.4 677.3,810 677.7,810.4 678.1,810.8 678.5,811.1 678.9,811.2 679.3,811.4 679.7,811.6 680.1,811.7 680.5,812 680.9,812.1 681.3,812 681.7,812 682.1,812 682.5,812.1 682.9,812 683.3,812.3 683.7,812.3 684.1,812.3 684.5,812.3 684.9,812.2 685.3,812 685.7,812 686.1,812 686.5,812.2 686.9,812.4 687.3,812.6 687.7,812.9 688.1,813 688.5,813.1 688.9,813.2 689.3,813.3 689.7,813.5 690.1,813.8 690.5,814 690.9,814.2 691.3,814.3 691.7,814.4 692.1,814.6 692.5,814.8 692.9,815.1 693.3,815.3 693.7,815.6 694.1,815.8 694.5,816 694.9,816.1 695.3,816.2 695.7,816.4 696.1,816.4 696.5,816.6 696.9,816.8 697.3,816.8 697.7,817.1 698.1,817.5 698.5,817.6 698.9,817.9 699.3,818 699.7,818.2 700.1,818.4 700.5,818.6 700.9,818.6 701.3,818.7 701.7,818.9 702.1,818 702.5,811.3 702.9,793.6 703.3,777.7 703.7,783.8 704.1,803.5 704.5,815.8 704.9,818.9 705.3,818.9 705.7,818.7 706.1,818.7 706.5,818.7 706.9,818.5 707.3,818.4 707.7,818.3 708.1,818 708.5,818 708.9,817.9 709.3,817.5 709.7,817.5 710.1,817.3 710.5,817.1 710.9,817.1 711.3,816.8 711.7,816.8 712.1,816.7 712.5,816.5 712.9,816.4 713.3,816.3 713.7,816.3 714.1,816.2 714.5,816.3 714.9,816.3 715.3,816.3 715.7,816.4 716.1,816.7 716.5,817.1 716.9,817.6 717.3,818 717.7,818.6 718.1,819.3 718.5,820.1 718.9,820.7 719.3,821.1 719.7,821.4 720.1,821.6 720.5,822 720.9,822.4 721.3,822.5 721.7,822.8 722.1,823 722.5,823.2 722.9,823.5 723.3,823.6 723.7,823.9 724.1,824 724.5,824.1 724.9,824 725.3,824.3 725.7,824.4 726.1,824.7 726.5,825 726.9,824.9 727.3,825.2 727.7,825.4 728.1,825.7 728.5,826 728.9,826.2 729.3,826.3 729.7,826.3 730.1,826.5 730.5,826.7 730.9,826.8 731.3,826.8 731.7,827 732.1,827 732.5,827 732.9,827.2 733.3,827.2 733.7,827.1 734.1,827.2 734.5,827.1 734.9,827 735.3,826.9 735.7,826.7 736.1,826.7 736.5,826.6 736.9,826.6 737.3,826.4 737.7,826.3 738.1,826.4 738.5,826.4 738.9,826.2 739.3,826 739.7,825.8 740.1,825.6 740.5,825.6 740.9,825.5 741.3,825.4 741.7,825.3 742.1,825.1 742.5,824.9 742.9,824.6 743.3,824.1 743.7,823.9 744.1,823.7 744.5,823.6 744.9,823.7 745.3,823.7 745.7,823.7 746.1,823.8 746.5,823.8 746.9,823.7 747.3,823.6 747.7,823.2 748.1,823 748.5,823.1 748.9,822.2 749.3,816 749.7,799.7 750.1,785 750.5,790.4 750.9,807.9 751.3,819 751.7,821.5 752.1,821.3 752.5,820.8 752.9,820.4 753.3,820.1 753.7,819.9 754.1,819.6 754.5,819.3 754.9,819 755.3,818.6 755.7,818.2 756.1,817.7 756.5,817.4 756.9,817 757.3,816.6 757.7,816.3 758.1,815.9 758.5,815.7 758.9,815.3 759.3,815 759.7,814.7 760.1,814.4 760.5,814.2 760.9,813.9 761.3,813.8 761.7,813.6 762.1,813.6 762.5,813.6 762.9,813.6 763.3,814 763.7,814.4 764.1,814.9 764.5,815.4 764.9,815.8 765.3,816.2 765.7,816.5 766.1,816.7 766.5,817.1 766.9,817.4 767.3,817.5 767.7,817.7 768.1,817.9 768.5,818.1 768.9,818 769.3,818.1 769.7,818 770.1,817.8 770.5,817.8 770.9,817.8 771.3,817.8 771.7,817.9 772.1,817.9 772.5,817.9 772.9,817.7 773.3,817.5 773.7,817.7 774.1,817.6 774.5,817.7 774.9,817.8 775.3,817.7 775.7,817.7 776.1,817.7 776.5,817.8 776.9,817.8 777.3,817.8 777.7,817.9 778.1,817.9 778.5,818.1 778.9,818.2 779.3,818.1 779.7,818.1 780.1,818.2 780.5,818.1 780.9,818.3 781.3,818.5 781.7,818.5 782.1,818.6 782.5,818.6 782.9,818.5 783.3,818.7 783.7,818.6 784.1,818.6 784.5,818.8 784.9,818.8 785.3,818.9 785.7,818.9 786.1,819 786.5,818.8 786.9,818.8 787.3,818.7 787.7,818.4 788.1,818.3 788.5,818.2 788.9,818.2 789.3,818 789.7,818 790.1,818.2 790.5,818.4 790.9,818.7 791.3,818.9 791.7,819.2 792.1,819.2 792.5,819.1 792.9,819.1 793.3,818.8 793.7,818.9 794.1,818.5 794.5,813.8 794.9,799.4 795.3,781.5 795.7,781.6 796.1,799.3 796.5,813.6 796.9,818.1 797.3,818.2 797.7,817.9 798.1,817.7 798.5,817.5 798.9,817.3 799.3,817.1 799.7,816.9 800.1,816.4 800.5,816.4 800.9,816.2 801.3,816 801.7,816 802.1,815.5 802.5,815.3 802.9,815.1 803.3,814.7 803.7,814.6 804.1,814.2 804.5,814 804.9,813.7 805.3,813.4 805.7,813.4 806.1,813.3 806.5,813.4 806.9,813.3 807.3,813.3 807.7,813.4 808.1,813.4 808.5,813.9 808.9,814.3 809.3,814.7 809.7,815.2 810.1,815.6 810.5,816.1 810.9,816.8 811.3,817.3 811.7,817.6 812.1,818 812.5,818.3 812.9,818.6 813.3,818.8 813.7,818.7 814.1,818.7 814.5,818.8 814.9,818.8 815.3,818.9 815.7,819 816.1,819 816.5,818.9 816.9,819.1 817.3,818.7 817.7,818.8 818.1,818.9 818.5,818.8 818.9,819.1 819.3,819 819.7,818.9 820.1,818.9 820.5,819 820.9,819 821.3,819 821.7,819.2 822.1,819 822.5,819.1 822.9,819.2 823.3,819.2 823.7,819.2 824.1,819.1 824.5,819 824.9,818.8 825.3,818.9 825.7,819.1 826.1,819.2 826.5,819.3 826.9,819.1 827.3,819.1 827.7,819.1 828.1,819.1 828.5,819.3 828.9,819.4 829.3,819.3 829.7,819.2 830.1,819 830.5,819 830.9,819 830.9,848.5" fill="#00ffff" stroke="none" stroke-width="1" />
<polyline points="582.5,821.1 582.9,819.8 583.3,818.1 583.7,816.7 584.1,815.3 584.5,814.3 584.9,814 585.3,813.7 585.7,813.4 586.1,813.2 586.5,812.9 586.9,812.7 587.3,812.4 587.7,812.1 588.1,812 588.5,812 588.9,812.2 589.3,812.2 589.7,812.4 590.1,812.2 590.5,812.2 590.9,812.2 591.3,812.2 591.7,812.3 592.1,812.3 592.5,812.4 592.9,812.5 593.3,812.7 593.7,812.7 594.1,812.9 594.5,813.1 594.9,813.3 595.3,813.7 595.7,814.1 596.1,814.3 596.5,814.4 596.9,814.5 597.3,814.6 597.7,814.8 598.1,815 598.5,815.2 598.9,815.2 599.3,815.3 599.7,815.6 600.1,815.8 600.5,816.1 600.9,816.3 601.3,816.4 601.7,816.4 602.1,816.5 602.5,816.5 602.9,816.6 603.3,816.8 603.7,817.1 604.1,817.2 604.5,817.1 604.9,817.2 605.3,817 605.7,817.2 606.1,817.5 606.5,817.5 606.9,817.6 607.3,817.6 607.7,817.5 608.1,817.4 608.5,817.5 608.9,817.5 609.3,817.6 609.7,817.6 610.1,817.7 610.5,817.7 610.9,817.8 611.3,818 611.7,818.1 612.1,818 612.5,817.8 612.9,817.4 613.3,817.4 613.7,817.6 614.1,817.9 614.5,818.2 614.9,818.3 615.3,818.4 615.7,818.3 616.1,818.5 616.5,818.2 616.9,818.2 617.3,818.1 617.7,815.1 618.1,803.7 618.5,785.2 618.9,779.3 619.3,794.1 619.7,810.3 620.1,816.8 620.5,817.6 620.9,817.1 621.3,816.8 621.7,816.6 622.1,816.3 622.5,816.1 622.9,815.7 623.3,815.4 623.7,814.9 624.1,814.6 624.5,814.3 624.9,814.1 625.3,813.8 625.7,813.7 626.1,813.4 626.5,813 626.9,812.8 627.3,812.4 627.7,812.2 628.1,812.1 628.5,811.8 628.9,811.5 629.3,811.3 629.7,811 630.1,810.8 630.5,810.8 630.9,810.6 631.3,810.7 631.7,810.8 632.1,811.1 632.5,811.4 632.9,811.7 633.3,812.4 633.7,812.9 634.1,813.3 634.5,813.8 634.9,814.1 635.3,814.4 635.7,814.7 636.1,814.9 636.5,814.9 636.9,815 637.3,815 637.7,815.1 638.1,815.1 638.5,815 638.9,814.9 639.3,814.7 639.7,814.7 640.1,814.7 640.5,814.7 640.9,814.7 641.3,814.6 641.7,814.5 642.1,814.4 642.5,814.4 642.9,814.3 643.3,814.2 643.7,814.2 644.1,814.1 644.5,814.2 644.9,814.2 645.3,814.1 645.7,814 646.1,813.9 646.5,813.9 646.9,813.9 647.3,814 647.7,814 648.1,813.8 648.5,813.6 648.9,813.4 649.3,813.3 649.7,813.3 650.1,813.5 650.5,813.4 650.9,813.3 651.3,813.3 651.7,813.2 652.1,813.1 652.5,813.3 652.9,813.1 653.3,813.2 653.7,813.1 654.1,812.9 654.5,812.9 654.9,812.7 655.3,812.5 655.7,812.5 656.1,812.3 656.5,812.5 656.9,812.7 657.3,812.8 657.7,813 658.1,812.8 658.5,812.6 658.9,812.5 659.3,812.4 659.7,812.6 660.1,812.6 660.5,812.7 660.9,809.7 661.3,798 661.7,779.3 662.1,773.3 662.5,788.3 662.9,804.7 663.3,811.1 663.7,811.7 664.1,811.4 664.5,811.2 664.9,811.1 665.3,810.9 665.7,810.7 666.1,810.5 666.5,810.3 666.9,810.2 667.3,809.9 667.7,809.7 668.1,809.4 668.5,809 668.9,808.9 669.3,808.5 669.7,808.2 670.1,808 670.5,807.6 670.9,807.5 671.3,807.2 671.7,806.9 672.1,806.8 672.5,806.7 672.9,807 673.3,806.9 673.7,806.9 674.1,806.8 674.5,806.8 674.9,807 675.3,807.3 675.7,807.7 676.1,808.3 676.5,808.8 676.9,809.4 677.3,810 677.7,810.4 678.1,810.8 678.5,811.1 678.9,811.2 679.3,811.4 679.7,811.6 680.1,811.7 680.5,812 680.9,812.1 681.3,812 681.7,812 682.1,812 682.5,812.1 682.9,812 683.3,812.3 683.7,812.3 684.1,812.3 684.5,812.3 684.9,812.2 685.3,812 685.7,812 686.1,812 686.5,812.2 686.9,812.4 687.3,812.6 687.7,812.9 688.1,813 688.5,813.1 688.9,813.2 689.3,813.3 689.7,813.5 690.1,813.8 690.5,814 690.9,814.2 691.3,814.3 691.7,814.4 692.1,814.6 692.5,814.8 692.9,815.1 693.3,815.3 693.7,815.6 694.1,815.8 694.5,816 694.9,816.1 695.3,816.2 695.7,816.4 696.1,816.4 696.5,816.6 696.9,816.8 697.3,816.8 697.7,817.1 698.1,817.5 698.5,817.6 698.9,817.9 699.3,818 699.7,818.2 700.1,818.4 700.5,818.6 700.9,818.6 701.3,818.7 701.7,818.9 702.1,818 702.5,811.3 702.9,793.6 703.3,777.7 703.7,783.8 704.1,803.5 704.5,815.8 704.9,818.9 705.3,818.9 705.7,818.7 706.1,818.7 706.5,818.7 706.9,818.5 707.3,818.4 707.7,818.3 708.1,818 708.5,818 708.9,817.9 709.3,817.5 709.7,817.5 710.1,817.3 710.5,817.1 710.9,817.1 711.3,816.8 711.7,816.8 712.1,816.7 712.5,816.5 712.9,816.4 713.3,816.3 713.7,816.3 714.1,816.2 714.5,816.3 714.9,816.3 715.3,816.3 715.7,816.4 716.1,816.7 716.5,817.1 716.9,817.6 717.3,818 717.7,818.6 718.1,819.3 718.5,820.1 718.9,820.7 719.3,821.1 719.7,821.4 720.1,821.6 720.5,822 720.9,822.4 721.3,822.5 721.7,822.8 722.1,823 722.5,823.2 722.9,823.5 723.3,823.6 723.7,823.9 724.1,824 724.5,824.1 724.9,824 725.3,824.3 725.7,824.4 726.1,824.7 726.5,825 726.9,824.9 727.3,825.2 727.7,825.4 728.1,825.7 728.5,826 728.9,826.2 729.3,826.3 729.7,826.3 730.1,826.5 730.5,826.7 730.9,826.8 731.3,826.8 731.7,827 732.1,827 732.5,827 732.9,827.2 733.3,827.2 733.7,827.1 734.1,827.2 734.5,827.1 734.9,827 735.3,826.9 735.7,826.7 736.1,826.7 736.5,826.6 736.9,826.6 737.3,826.4 737.7,826.3 738.1,826.4 738.5,826.4 738.9,826.2 739.3,826 739.7,825.8 740.1,825.6 740.5,825.6 740.9,825.5 741.3,825.4 741.7,825.3 742.1,825.1 742.5,824.9 742.9,824.6 743.3,824.1 743.7,823.9 744.1,823.7 744.5,823.6 744.9,823.7 745.3,823.7 745.7,823.7 746.1,823.8 746.5,823.8 746.9,823.7 747.3,823.6 747.7,823.2 748.1,823 748.5,823.1 748.9,822.2 749.3,816 749.7,799.7 750.1,785 750.5,790.4 750.9,807.9 751.3,819 751.7,821.5 752.1,821.3 752.5,820.8 752.9,820.4 753.3,820.1 753.7,819.9 754.1,819.6 754.5,819.3 754.9,819 755.3,818.6 755.7,818.2 756.1,817.7 756.5,817.4 756.9,817 757.3,816.6 757.7,816.3 758.1,815.9 758.5,815.7 758.9,815.3 759.3,815 759.7,814.7 760.1,814.4 760.5,814.2 760.9,813.9 761.3,813.8 761.7,813.6 762.1,813.6 762.5,813.6 762.9,813.6 763.3,814 763.7,814.4 764.1,814.9 764.5,815.4 764.9,815.8 765.3,816.2 765.7,816.5 766.1,816.7 766.5,817.1 766.9,817.4 767.3,817.5 767.7,817.7 768.1,817.9 768.5,818.1 768.9,818 769.3,818.1 769.7,818 770.1,817.8 770.5,817.8 770.9,817.8 771.3,817.8 771.7,817.9 772.1,817.9 772.5,817.9 772.9,817.7 773.3,817.5 773.7,817.7 774.1,817.6 774.5,817.7 774.9,817.8 775.3,817.7 775.7,817.7 776.1,817.7 776.5,817.8 776.9,817.8 777.3,817.8 777.7,817.9 778.1,817.9 778.5,818.1 778.9,818.2 779.3,818.1 779.7,818.1 780.1,818.2 780.5,818.1 780.9,818.3 781.3,818.5 781.7,818.5 782.1,818.6 782.5,818.6 782.9,818.5 783.3,818.7 783.7,818.6 784.1,818.6 784.5,818.8 784.9,818.8 785.3,818.9 785.7,818.9 786.1,819 786.5,818.8 786.9,818.8 787.3,818.7 787.7,818.4 788.1,818.3 788.5,818.2 788.9,818.2 789.3,818 789.7,818 790.1,818.2 790.5,818.4 790.9,818.7 791.3,818.9 791.7,819.2 792.1,819.2 792.5,819.1 792.9,819.1 793.3,818.8 793.7,818.9 794.1,818.5 794.5,813.8 794.9,799.4 795.3,781.5 795.7,781.6 796.1,799.3 796.5,813.6 796.9,818.1 797.3,818.2 797.7,817.9 798.1,817.7 798.5,817.5 798.9,817.3 799.3,817.1 799.7,816.9 800.1,816.4 800.5,816.4 800.9,816.2 801.3,816 801.7,816 802.1,815.5 802.5,815.3 802.9,815.1 803.3,814.7 803.7,814.6 804.1,814.2 804.5,814 804.9,813.7 805.3,813.4 805.7,813.4 806.1,813.3 806.5,813.4 806.9,813.3 807.3,813.3 807.7,813.4 808.1,813.4 808.5,813.9 808.9,814.3 809.3,814.7 809.7,815.2 810.1,815.6 810.5,816.1 810.9,816.8 811.3,817.3 811.7,817.6 812.1,818 812.5,818.3 812.9,818.6 813.3,818.8 813.7,818.7 814.1,818.7 814.5,818.8 814.9,818.8 815.3,818.9 815.7,819 816.1,819 816.5,818.9 816.9,819.1 817.3,818.7 817.7,818.8 818.1,818.9 818.5,818.8 818.9,819.1 819.3,819 819.7,818.9 820.1,818.9 820.5,819 820.9,819 821.3,819 821.7,819.2 822.1,819 822.5,819.1 822.9,819.2 823.3,819.2 823.7,819.2 824.1,819.1 824.5,819 824.9,818.8 825.3,818.9 825.7,819.1 826.1,819.2 826.5,819.3 826.9,819.1 827.3,819.1 827.7,819.1 828.1,819.1 828.5,819.3 828.9,819.4 829.3,819.3 829.7,819.2 830.1,819 830.5,819 830.9,819" fill="none" stroke="#3a4a4c" stroke-width="1.5" stroke-linejoin="round" />
<line x1="618.8" y1="815.3" x2="618.8" y2="780.9" stroke="#18b4c4" stroke-width="1.5" />
<line x1="662" y1="815.3" x2="662" y2="774.8" stroke="#18b4c4" stroke-width="1.5" />
<line x1="703.4" y1="815.3" x2="703.4" y2="779.1" stroke="#18b4c4" stroke-width="1.5" />
<line x1="750.2" y1="815.3" x2="750.2" y2="786.2" stroke="#18b4c4" stroke-width="1.5" />
<line x1="795.5" y1="815.3" x2="795.5" y2="780.9" stroke="#18b4c4" stroke-width="1.5" />
<polygon points="557.4,884.4 557.4,851.1 557.8,851 558.2,851.1 558.6,851.1 559,851 559.4,851.2 559.8,851.3 560.2,851.2 560.6,851.4 561,851.5 561.4,851.5 561.8,851.6 562.2,851.4 562.6,851.4 563,851.4 563.4,851.2 563.8,851.3 564.2,851.2 564.6,851.2 565,851.4 565.4,851.3 565.8,851.4 566.2,851.3 566.6,851.3 567,851.3 567.4,851.3 567.8,851.2 568.2,851.1 568.6,851.2 569,851.1 569.4,851.3 569.8,851.3 570.2,851.4 570.6,851.5 571,851.4 571.4,851.4 571.8,851.2 572.2,851.1 572.6,851.2 573,851.3 573.4,851.4 573.8,851.4 574.2,851.2 574.6,851 575,850.9 575.4,850.7 575.8,850.7 576.2,850.8 576.6,850.7 577,850.8 577.4,850.8 577.8,850.9 578.2,851 578.6,851.1 579,851.1 579.4,851.1 579.8,851 580.2,851.2 580.6,851 581,846.6 581.4,834.2 581.8,820 582.2,819.7 582.6,833.7 583,845.9 583.4,850.2 583.8,850.4 584.2,850.1 584.6,849.7 585,849.7 585.4,849.6 585.8,849.4 586.2,849.3 586.6,848.9 587,848.8 587.4,848.6 587.8,848.2 588.2,847.8 588.6,847.4 589,847.1 589.4,846.9 589.8,846.5 590.2,846.1 590.6,845.7 591,845.2 591.4,844.9 591.8,844.5 592.2,844.1 592.6,843.9 593,843.6 593.4,843.6 593.8,843.3 594.2,843.1 594.6,843 595,843 595.4,843.2 595.8,843.6 596.2,844.1 596.6,844.8 597,845.4 597.4,846.1 597.8,846.7 598.2,847.3 598.6,848 599,848.6 599.4,849.5 599.8,849.9 600.2,850.3 600.6,850.4 601,850.5 601.4,850.6 601.8,850.7 602.2,851 602.6,851 603,851 603.4,850.9 603.8,850.9 604.2,850.9 604.6,851 605,851 605.4,850.8 605.8,850.9 606.2,850.8 606.6,850.9 607,851.1 607.4,851.1 607.8,851 608.2,851.1 608.6,851.1 609,851 609.4,850.9 609.8,850.9 610.2,851 610.6,850.9 611,851.1 611.4,851 611.8,850.9 612.2,851.1 612.6,851 613,851.1 613.4,851.1 613.8,851.1 614.2,851.2 614.6,851.2 615,851.3 615.4,851.2 615.8,851.1 616.2,851.2 616.6,851.2 617,851.2 617.4,851.3 617.8,851.1 618.2,851 618.6,851.2 619,851.1 619.4,851.3 619.8,851.3 620.2,851.1 620.6,851.2 621,851 621.4,851.1 621.8,851.1 622.2,850.9 622.6,851 623,851.1 623.4,851.2 623.8,851.4 624.2,851.4 624.6,851.3 625,851.2 625.4,851.1 625.8,851.1 626.2,851 626.6,850.9 627,850.7 627.4,850.5 627.8,850.5 628.2,850.5 628.6,850.7 629,850.8 629.4,850.8 629.8,850.8 630.2,851 630.6,851.1 631,851.3 631.4,851.3 631.8,851.2 632.2,851.2 632.6,851.2 633,850.8 633.4,846.8 633.8,835.2 634.2,821.7 634.6,821.6 635,834.9 635.4,846.3 635.8,850.3 636.2,850.5 636.6,850 637,849.8 637.4,849.8 637.8,849.6 638.2,849.4 638.6,849.1 639,848.5 639.4,848.2 639.8,847.9 640.2,847.6 640.6,847.6 641,847.3 641.4,847 641.8,846.8 642.2,846.5 642.6,846.1 643,845.8 643.4,845.2 643.8,844.9 644.2,844.5 644.6,844.2 645,844.1 645.4,843.6 645.8,843.4 646.2,843.2 646.6,843.1 647,843 647.4,843.1 647.8,843.2 648.2,843.4 648.6,844 649,844.4 649.4,845.1 649.8,846 650.2,846.7 650.6,847.6 651,848.3 651.4,848.8 651.8,849.4 652.2,849.7 652.6,850.1 653,850.4 653.4,850.6 653.8,850.9 654.2,851.1 654.6,850.9 655,850.9 655.4,851 655.8,850.9 656.2,850.8 656.6,850.8 657,850.8 657.4,850.9 657.8,850.9 658.2,851.1 658.6,850.9 659,850.8 659.4,850.9 659.8,850.9 660.2,851.2 660.6,851.3 661,851.2 661.4,851.3 661.8,851 662.2,851 662.6,851.1 663,851 663.4,851 663.8,851 664.2,850.9 664.6,850.9 665,851.1 665.4,851 665.8,851.1 666.2,851.2 666.6,851.1 667,851.2 667.4,851.2 667.8,851.1 668.2,851 668.6,851.1 669,850.9 669.4,851.1 669.8,851.3 670.2,851.1 670.6,851.3 671,851.2 671.4,851.2 671.8,851.3 672.2,851.3 672.6,851.2 673,851.2 673.4,851.2 673.8,851.1 674.2,851.1 674.6,851.1 675,851 675.4,851.1 675.8,851.2 676.2,851.2 676.6,851.2 677,851.1 677.4,851.1 677.8,851.1 678.2,851.1 678.6,851.1 679,851.1 679.4,851.2 679.8,851 680.2,850.8 680.6,850.6 681,850.4 681.4,850.4 681.8,850.4 682.2,850.6 682.6,850.8 683,850.9 683.4,851.1 683.8,851 684.2,851.1 684.6,851 685,851 685.4,851.2 685.8,851.1 686.2,850.4 686.6,844.9 687,832.2 687.4,821.6 687.8,825.7 688.2,839 688.6,848.2 689,850.6 689.4,850.4 689.8,850.2 690.2,849.9 690.6,849.8 691,849.6 691.4,849.4 691.8,849.1 692.2,848.9 692.6,848.7 693,848.4 693.4,848.1 693.8,847.9 694.2,847.7 694.6,847.3 695,847 695.4,846.5 695.8,845.9 696.2,845.4 696.6,845 697,844.7 697.4,844.5 697.8,844.2 698.2,843.9 698.6,843.6 699,843.4 699.4,843.1 699.8,842.9 700.2,842.9 700.6,842.8 701,843 701.4,843.5 701.8,844 702.2,844.7 702.6,845.4 703,846.2 703.4,847 703.8,847.7 704.2,848.3 704.6,848.7 705,849.1 705.4,849.6 705.8,850 706.2,850.3 706.6,850.5 707,850.6 707.4,850.8 707.8,851 708.2,851.3 708.6,851.3 709,851.3 709.4,851.3 709.8,851.1 710.2,850.9 710.6,850.7 711,850.8 711.4,850.8 711.8,850.9 712.2,851.1 712.6,850.9 713,850.7 713.4,850.8 713.8,850.8 714.2,850.9 714.6,851 715,850.9 715.4,850.9 715.8,851 716.2,851 716.6,851.1 717,851.1 717.4,851 717.8,851.1 718.2,851.1 718.6,851.1 719,851.1 719.4,851 719.8,851.1 720.2,851.2 720.6,851.2 721,851.2 721.4,851.2 721.8,851 722.2,851.1 722.6,851 723,851 723.4,850.9 723.8,850.8 724.2,850.9 724.6,850.9 725,851 725.4,851 725.8,851 726.2,851.1 726.6,851 727,851.3 727.4,851.3 727.8,851.5 728.2,851.6 728.6,851.4 729,851.2 729.4,851 729.8,850.9 730.2,851.1 730.6,851.3 731,851.3 731.4,851.4 731.8,851.2 732.2,851.2 732.6,851.1 733,851.1 733.4,850.9 733.8,850.6 734.2,850.7 734.6,850.7 735,851 735.4,851.2 735.8,851.1 736.2,851.2 736.6,851.1 737,851.1 737.4,851.2 737.8,851.2 738.2,851.4 738.6,850.4 739,844 739.4,829.2 739.8,816.5 740.2,821.2 740.6,836.8 741,847.5 741.4,850.5 741.8,850.4 742.2,850 742.6,849.8 743,849.7 743.4,849.6 743.8,849.6 744.2,849.4 744.6,849 745,848.7 745.4,848.2 745.8,847.8 746.2,847.6 746.6,847.1 747,846.7 747.4,846.4 747.8,846.1 748.2,846.1 748.6,845.8 749,845.5 749.4,845.1 749.8,844.7 750.2,844.4 750.6,843.9 751,843.5 751.4,843.2 751.8,842.8 752.2,842.8 752.6,842.9 753,842.8 753.4,843.1 753.8,843.5 754.2,844 754.6,844.8 755,845.7 755.4,846.3 755.8,846.9 756.2,847.7 756.6,848.2 757,848.9 757.4,849.6 757.8,850 758.2,850.4 758.6,850.6 759,850.8 759.4,850.9 759.8,850.9 760.2,851 760.6,851.1 761,851.1 761.4,851.1 761.8,851 762.2,851 762.6,851 763,850.9 763.4,851.1 763.8,851 764.2,851 764.6,851 765,850.9 765.4,851.1 765.8,851.2 766.2,851.2 766.6,851.1 767,851.1 767.4,850.9 767.8,851.1 768.2,851.1 768.6,851.1 769,851.3 769.4,851.1 769.8,851.2 770.2,851.2 770.6,851.1 771,851.1 771.4,851 771.8,851.1 772.2,851.1 772.6,851 773,851.3 773.4,851.3 773.8,851.3 774.2,851.4 774.6,851.2 775,851.2 775.4,851.2 775.8,851.2 776.2,851.2 776.6,851.1 777,851.1 777.4,851.1 777.8,851.2 778.2,851.3 778.6,851.3 779,851.3 779.4,851.2 779.8,851 780.2,851 780.6,851 781,850.9 781.4,851.1 781.8,851.3 782.2,851.4 782.6,851.6 783,851.6 783.4,851.4 783.8,851.2 784.2,851.1 784.6,851 785,850.9 785.4,851.1 785.8,851 786.2,850.8 786.6,850.8 787,850.5 787.4,850.6 787.8,850.8 788.2,850.8 788.6,850.8 789,850.9 789.4,850.9 789.8,850.9 790.2,851.2 790.6,851.1 791,851.2 791.4,851.2 791.8,849.5 792.2,841.4 792.6,826.3 793,817.5 793.4,826 793.8,840.8 794.2,849 794.6,850.8 795,850.5 795.4,850.1 795.8,849.9 796.2,849.6 796.6,849.3 797,849.1 797.4,848.7 797.8,848.6 798.2,848.5 798.6,848.4 799,848.1 799.4,847.7 799.8,847.3 800.2,846.8 800.6,846.7 801,846.2 801.4,845.8 801.8,845.4 802.2,844.9 802.6,844.6 803,844.3 803.4,844 803.8,843.7 804.2,843.3 804.6,843 805,842.7 805.4,842.7 805.8,842.9 806.2,843 806.6,843.4 807,843.7 807.4,844.3 807.8,844.8 808.2,845.6 808.6,846.4 809,847.1 809.4,848.1 809.8,848.7 810.2,849.2 810.6,849.7 811,850.1 811.4,850.5 811.8,850.6 812.2,850.7 812.6,850.9 813,850.9 813.4,851.1 813.8,851.4 814.2,851.3 814.6,851.3 815,851.2 815.4,850.8 815.8,850.7 816.2,850.7 816.6,850.8 817,850.8 817.4,850.8 817.8,850.8 818.2,850.7 818.6,850.9 819,850.9 819.4,850.9 819.8,851 820.2,851 820.6,851.1 821,851.1 821.4,851 821.8,851.1 822.2,850.9 822.6,851.1 823,851 823.4,851 823.8,851.2 824.2,851.1 824.6,851.2 825,851.4 825.4,851.3 825.8,851.4 825.8,884.4" fill="#0a0af0" stroke="none" stroke-width="1" />
<polyline points="557.4,851.1 557.8,851 558.2,851.1 558.6,851.1 559,851 559.4,851.2 559.8,851.3 560.2,851.2 560.6,851.4 561,851.5 561.4,851.5 561.8,851.6 562.2,851.4 562.6,851.4 563,851.4 563.4,851.2 563.8,851.3 564.2,851.2 564.6,851.2 565,851.4 565.4,851.3 565.8,851.4 566.2,851.3 566.6,851.3 567,851.3 567.4,851.3 567.8,851.2 568.2,851.1 568.6,851.2 569,851.1 569.4,851.3 569.8,851.3 570.2,851.4 570.6,851.5 571,851.4 571.4,851.4 571.8,851.2 572.2,851.1 572.6,851.2 573,851.3 573.4,851.4 573.8,851.4 574.2,851.2 574.6,851 575,850.9 575.4,850.7 575.8,850.7 576.2,850.8 576.6,850.7 577,850.8 577.4,850.8 577.8,850.9 578.2,851 578.6,851.1 579,851.1 579.4,851.1 579.8,851 580.2,851.2 580.6,851 581,846.6 581.4,834.2 581.8,820 582.2,819.7 582.6,833.7 583,845.9 583.4,850.2 583.8,850.4 584.2,850.1 584.6,849.7 585,849.7 585.4,849.6 585.8,849.4 586.2,849.3 586.6,848.9 587,848.8 587.4,848.6 587.8,848.2 588.2,847.8 588.6,847.4 589,847.1 589.4,846.9 589.8,846.5 590.2,846.1 590.6,845.7 591,845.2 591.4,844.9 591.8,844.5 592.2,844.1 592.6,843.9 593,843.6 593.4,843.6 593.8,843.3 594.2,843.1 594.6,843 595,843 595.4,843.2 595.8,843.6 596.2,844.1 596.6,844.8 597,845.4 597.4,846.1 597.8,846.7 598.2,847.3 598.6,848 599,848.6 599.4,849.5 599.8,849.9 600.2,850.3 600.6,850.4 601,850.5 601.4,850.6 601.8,850.7 602.2,851 602.6,851 603,851 603.4,850.9 603.8,850.9 604.2,850.9 604.6,851 605,851 605.4,850.8 605.8,850.9 606.2,850.8 606.6,850.9 607,851.1 607.4,851.1 607.8,851 608.2,851.1 608.6,851.1 609,851 609.4,850.9 609.8,850.9 610.2,851 610.6,850.9 611,851.1 611.4,851 611.8,850.9 612.2,851.1 612.6,851 613,851.1 613.4,851.1 613.8,851.1 614.2,851.2 614.6,851.2 615,851.3 615.4,851.2 615.8,851.1 616.2,851.2 616.6,851.2 617,851.2 617.4,851.3 617.8,851.1 618.2,851 618.6,851.2 619,851.1 619.4,851.3 619.8,851.3 620.2,851.1 620.6,851.2 621,851 621.4,851.1 621.8,851.1 622.2,850.9 622.6,851 623,851.1 623.4,851.2 623.8,851.4 624.2,851.4 624.6,851.3 625,851.2 625.4,851.1 625.8,851.1 626.2,851 626.6,850.9 627,850.7 627.4,850.5 627.8,850.5 628.2,850.5 628.6,850.7 629,850.8 629.4,850.8 629.8,850.8 630.2,851 630.6,851.1 631,851.3 631.4,851.3 631.8,851.2 632.2,851.2 632.6,851.2 633,850.8 633.4,846.8 633.8,835.2 634.2,821.7 634.6,821.6 635,834.9 635.4,846.3 635.8,850.3 636.2,850.5 636.6,850 637,849.8 637.4,849.8 637.8,849.6 638.2,849.4 638.6,849.1 639,848.5 639.4,848.2 639.8,847.9 640.2,847.6 640.6,847.6 641,847.3 641.4,847 641.8,846.8 642.2,846.5 642.6,846.1 643,845.8 643.4,845.2 643.8,844.9 644.2,844.5 644.6,844.2 645,844.1 645.4,843.6 645.8,843.4 646.2,843.2 646.6,843.1 647,843 647.4,843.1 647.8,843.2 648.2,843.4 648.6,844 649,844.4 649.4,845.1 649.8,846 650.2,846.7 650.6,847.6 651,848.3 651.4,848.8 651.8,849.4 652.2,849.7 652.6,850.1 653,850.4 653.4,850.6 653.8,850.9 654.2,851.1 654.6,850.9 655,850.9 655.4,851 655.8,850.9 656.2,850.8 656.6,850.8 657,850.8 657.4,850.9 657.8,850.9 658.2,851.1 658.6,850.9 659,850.8 659.4,850.9 659.8,850.9 660.2,851.2 660.6,851.3 661,851.2 661.4,851.3 661.8,851 662.2,851 662.6,851.1 663,851 663.4,851 663.8,851 664.2,850.9 664.6,850.9 665,851.1 665.4,851 665.8,851.1 666.2,851.2 666.6,851.1 667,851.2 667.4,851.2 667.8,851.1 668.2,851 668.6,851.1 669,850.9 669.4,851.1 669.8,851.3 670.2,851.1 670.6,851.3 671,851.2 671.4,851.2 671.8,851.3 672.2,851.3 672.6,851.2 673,851.2 673.4,851.2 673.8,851.1 674.2,851.1 674.6,851.1 675,851 675.4,851.1 675.8,851.2 676.2,851.2 676.6,851.2 677,851.1 677.4,851.1 677.8,851.1 678.2,851.1 678.6,851.1 679,851.1 679.4,851.2 679.8,851 680.2,850.8 680.6,850.6 681,850.4 681.4,850.4 681.8,850.4 682.2,850.6 682.6,850.8 683,850.9 683.4,851.1 683.8,851 684.2,851.1 684.6,851 685,851 685.4,851.2 685.8,851.1 686.2,850.4 686.6,844.9 687,832.2 687.4,821.6 687.8,825.7 688.2,839 688.6,848.2 689,850.6 689.4,850.4 689.8,850.2 690.2,849.9 690.6,849.8 691,849.6 691.4,849.4 691.8,849.1 692.2,848.9 692.6,848.7 693,848.4 693.4,848.1 693.8,847.9 694.2,847.7 694.6,847.3 695,847 695.4,846.5 695.8,845.9 696.2,845.4 696.6,845 697,844.7 697.4,844.5 697.8,844.2 698.2,843.9 698.6,843.6 699,843.4 699.4,843.1 699.8,842.9 700.2,842.9 700.6,842.8 701,843 701.4,843.5 701.8,844 702.2,844.7 702.6,845.4 703,846.2 703.4,847 703.8,847.7 704.2,848.3 704.6,848.7 705,849.1 705.4,849.6 705.8,850 706.2,850.3 706.6,850.5 707,850.6 707.4,850.8 707.8,851 708.2,851.3 708.6,851.3 709,851.3 709.4,851.3 709.8,851.1 710.2,850.9 710.6,850.7 711,850.8 711.4,850.8 711.8,850.9 712.2,851.1 712.6,850.9 713,850.7 713.4,850.8 713.8,850.8 714.2,850.9 714.6,851 715,850.9 715.4,850.9 715.8,851 716.2,851 716.6,851.1 717,851.1 717.4,851 717.8,851.1 718.2,851.1 718.6,851.1 719,851.1 719.4,851 719.8,851.1 720.2,851.2 720.6,851.2 721,851.2 721.4,851.2 721.8,851 722.2,851.1 722.6,851 723,851 723.4,850.9 723.8,850.8 724.2,850.9 724.6,850.9 725,851 725.4,851 725.8,851 726.2,851.1 726.6,851 727,851.3 727.4,851.3 727.8,851.5 728.2,851.6 728.6,851.4 729,851.2 729.4,851 729.8,850.9 730.2,851.1 730.6,851.3 731,851.3 731.4,851.4 731.8,851.2 732.2,851.2 732.6,851.1 733,851.1 733.4,850.9 733.8,850.6 734.2,850.7 734.6,850.7 735,851 735.4,851.2 735.8,851.1 736.2,851.2 736.6,851.1 737,851.1 737.4,851.2 737.8,851.2 738.2,851.4 738.6,850.4 739,844 739.4,829.2 739.8,816.5 740.2,821.2 740.6,836.8 741,847.5 741.4,850.5 741.8,850.4 742.2,850 742.6,849.8 743,849.7 743.4,849.6 743.8,849.6 744.2,849.4 744.6,849 745,848.7 745.4,848.2 745.8,847.8 746.2,847.6 746.6,847.1 747,846.7 747.4,846.4 747.8,846.1 748.2,846.1 748.6,845.8 749,845.5 749.4,845.1 749.8,844.7 750.2,844.4 750.6,843.9 751,843.5 751.4,843.2 751.8,842.8 752.2,842.8 752.6,842.9 753,842.8 753.4,843.1 753.8,843.5 754.2,844 754.6,844.8 755,845.7 755.4,846.3 755.8,846.9 756.2,847.7 756.6,848.2 757,848.9 757.4,849.6 757.8,850 758.2,850.4 758.6,850.6 759,850.8 759.4,850.9 759.8,850.9 760.2,851 760.6,851.1 761,851.1 761.4,851.1 761.8,851 762.2,851 762.6,851 763,850.9 763.4,851.1 763.8,851 764.2,851 764.6,851 765,850.9 765.4,851.1 765.8,851.2 766.2,851.2 766.6,851.1 767,851.1 767.4,850.9 767.8,851.1 768.2,851.1 768.6,851.1 769,851.3 769.4,851.1 769.8,851.2 770.2,851.2 770.6,851.1 771,851.1 771.4,851 771.8,851.1 772.2,851.1 772.6,851 773,851.3 773.4,851.3 773.8,851.3 774.2,851.4 774.6,851.2 775,851.2 775.4,851.2 775.8,851.2 776.2,851.2 776.6,851.1 777,851.1 777.4,851.1 777.8,851.2 778.2,851.3 778.6,851.3 779,851.3 779.4,851.2 779.8,851 780.2,851 780.6,851 781,850.9 781.4,851.1 781.8,851.3 782.2,851.4 782.6,851.6 783,851.6 783.4,851.4 783.8,851.2 784.2,851.1 784.6,851 785,850.9 785.4,851.1 785.8,851 786.2,850.8 786.6,850.8 787,850.5 787.4,850.6 787.8,850.8 788.2,850.8 788.6,850.8 789,850.9 789.4,850.9 789.8,850.9 790.2,851.2 790.6,851.1 791,851.2 791.4,851.2 791.8,849.5 792.2,841.4 792.6,826.3 793,817.5 793.4,826 793.8,840.8 794.2,849 794.6,850.8 795,850.5 795.4,850.1 795.8,849.9 796.2,849.6 796.6,849.3 797,849.1 797.4,848.7 797.8,848.6 798.2,848.5 798.6,848.4 799,848.1 799.4,847.7 799.8,847.3 800.2,846.8 800.6,846.7 801,846.2 801.4,845.8 801.8,845.4 802.2,844.9 802.6,844.6 803,844.3 803.4,844 803.8,843.7 804.2,843.3 804.6,843 805,842.7 805.4,842.7 805.8,842.9 806.2,843 806.6,843.4 807,843.7 807.4,844.3 807.8,844.8 808.2,845.6 808.6,846.4 809,847.1 809.4,848.1 809.8,848.7 810.2,849.2 810.6,849.7 811,850.1 811.4,850.5 811.8,850.6 812.2,850.7 812.6,850.9 813,850.9 813.4,851.1 813.8,851.4 814.2,851.3 814.6,851.3 815,851.2 815.4,850.8 815.8,850.7 816.2,850.7 816.6,850.8 817,850.8 817.4,850.8 817.8,850.8 818.2,850.7 818.6,850.9 819,850.9 819.4,850.9 819.8,851 820.2,851 820.6,851.1 821,851.1 821.4,851 821.8,851.1 822.2,850.9 822.6,851.1 823,851 823.4,851 823.8,851.2 824.2,851.1 824.6,851.2 825,851.4 825.4,851.3 825.8,851.4" fill="none" stroke="#101010" stroke-width="0.95" stroke-linejoin="round" />
<line x1="582" y1="847.7" x2="582" y2="819.8" stroke="#0c0cb8" stroke-width="1.5" />
<line x1="634.4" y1="847.7" x2="634.4" y2="821.6" stroke="#0c0cb8" stroke-width="1.5" />
<line x1="687.5" y1="847.7" x2="687.5" y2="823.4" stroke="#0c0cb8" stroke-width="1.5" />
<line x1="739.9" y1="847.7" x2="739.9" y2="818.1" stroke="#0c0cb8" stroke-width="1.5" />
<line x1="793" y1="847.7" x2="793" y2="819.8" stroke="#0c0cb8" stroke-width="1.5" />
<polygon points="527.7,927 527.7,892.9 528.1,892.8 528.5,892.6 528.9,892.6 529.3,892.6 529.7,892.6 530.1,892.7 530.5,892.9 530.9,892.9 531.3,892.8 531.7,892.8 532.1,892.5 532.5,892.5 532.9,892.6 533.3,892.6 533.7,892.7 534.1,892.7 534.5,892.4 534.9,892.4 535.3,892.3 535.7,892.2 536.1,892.4 536.5,892.3 536.9,892.2 537.3,892.2 537.7,892.2 538.1,892 538.5,891.9 538.9,891.8 539.3,891.6 539.7,891.5 540.1,891.7 540.5,891.7 540.9,891.8 541.3,891.9 541.7,891.7 542.1,891.7 542.5,891.6 542.9,891.5 543.3,891.6 543.7,891.8 544.1,891 544.5,885.5 544.9,872 545.3,857.6 545.7,857.5 546.1,871.7 546.5,885.1 546.9,890.8 547.3,891.7 547.7,891.3 548.1,890.9 548.5,890.6 548.9,890.4 549.3,890.3 549.7,890.2 550.1,890.1 550.5,889.9 550.9,889.7 551.3,889.7 551.7,889.6 552.1,889.4 552.5,889.2 552.9,888.9 553.3,888.7 553.7,888.4 554.1,888 554.5,887.5 554.9,887.1 555.3,886.6 555.7,886.3 556.1,886 556.5,885.4 556.9,884.9 557.3,884.2 557.7,883.7 558.1,883.2 558.5,882.7 558.9,882.4 559.3,881.9 559.7,881.7 560.1,881.5 560.5,881.4 560.9,881.6 561.3,881.5 561.7,882 562.1,882.4 562.5,883.1 562.9,883.8 563.3,884.7 563.7,885.6 564.1,886.5 564.5,887.3 564.9,887.9 565.3,888.5 565.7,889 566.1,889.6 566.5,890 566.9,890.2 567.3,890.5 567.7,890.5 568.1,890.8 568.5,891 568.9,891.2 569.3,891.1 569.7,890.9 570.1,890.8 570.5,890.7 570.9,890.6 571.3,890.6 571.7,890.6 572.1,890.5 572.5,890.5 572.9,890.4 573.3,890.4 573.7,890.5 574.1,890.4 574.5,890.5 574.9,890.4 575.3,890.4 575.7,890.4 576.1,890.1 576.5,890.1 576.9,889.9 577.3,889.8 577.7,890 578.1,889.9 578.5,890 578.9,890.2 579.3,890.1 579.7,890.2 580.1,890.2 580.5,890.3 580.9,890.4 581.3,890.3 581.7,890.4 582.1,890.2 582.5,890.2 582.9,890.2 583.3,890 583.7,890 584.1,889.9 584.5,890 584.9,890.1 585.3,890 585.7,889.8 586.1,889.9 586.5,890 586.9,890 587.3,890.2 587.7,890.2 588.1,890 588.5,890.1 588.9,890 589.3,889.9 589.7,890 590.1,890.1 590.5,889.9 590.9,889.8 591.3,889.9 591.7,889.8 592.1,889.9 592.5,889.9 592.9,889.7 593.3,889.5 593.7,889.4 594.1,889.3 594.5,889.3 594.9,889.3 595.3,889.2 595.7,889.1 596.1,889.2 596.5,889.3 596.9,889.6 597.3,889.8 597.7,889.9 598.1,889.8 598.5,889.6 598.9,889.7 599.3,889.6 599.7,889.6 600.1,889.2 600.5,884.6 600.9,870.9 601.3,852.6 601.7,847 602.1,860.9 602.5,878.3 602.9,887.2 603.3,889.2 603.7,889.1 604.1,889 604.5,888.8 604.9,888.7 605.3,888.6 605.7,888.3 606.1,888.1 606.5,888 606.9,888 607.3,888 607.7,887.9 608.1,887.7 608.5,887.4 608.9,887.1 609.3,886.8 609.7,886.4 610.1,886.1 610.5,885.6 610.9,885.2 611.3,885 611.7,884.7 612.1,884.5 612.5,884 612.9,883.4 613.3,882.8 613.7,882.3 614.1,881.9 614.5,881.5 614.9,881.1 615.3,880.9 615.7,880.5 616.1,880.4 616.5,880.3 616.9,880.1 617.3,880.1 617.7,880.3 618.1,880.7 618.5,881.3 618.9,882 619.3,882.8 619.7,883.9 620.1,884.8 620.5,885.6 620.9,886.3 621.3,886.9 621.7,887.6 622.1,888.2 622.5,888.7 622.9,889 623.3,889.3 623.7,889.4 624.1,889.5 624.5,889.6 624.9,889.7 625.3,889.7 625.7,889.8 626.1,889.9 626.5,889.8 626.9,889.8 627.3,889.8 627.7,889.9 628.1,890 628.5,890.1 628.9,890.1 629.3,890.1 629.7,890.1 630.1,890.1 630.5,890.2 630.9,890.2 631.3,890.1 631.7,890.2 632.1,890 632.5,890.2 632.9,890.3 633.3,890.4 633.7,890.6 634.1,890.7 634.5,890.7 634.9,890.6 635.3,890.6 635.7,890.5 636.1,890.5 636.5,890.8 636.9,890.8 637.3,890.9 637.7,891 638.1,890.9 638.5,891.1 638.9,891.1 639.3,891.1 639.7,891.3 640.1,891.3 640.5,891.6 640.9,891.7 641.3,891.7 641.7,891.7 642.1,891.7 642.5,891.7 642.9,891.8 643.3,891.7 643.7,891.7 644.1,891.9 644.5,891.8 644.9,891.9 645.3,891.9 645.7,891.8 646.1,891.7 646.5,891.9 646.9,892 647.3,892 647.7,892.2 648.1,892.1 648.5,892 648.9,892 649.3,892 649.7,892 650.1,892.2 650.5,892.1 650.9,892 651.3,891.9 651.7,891.7 652.1,891.7 652.5,891.8 652.9,891.9 653.3,892.1 653.7,892.2 654.1,892.3 654.5,892.5 654.9,892.5 655.3,892.7 655.7,892.6 656.1,891.9 656.5,886.9 656.9,872.6 657.3,853.7 657.7,848.4 658.1,862.9 658.5,880.8 658.9,889.9 659.3,891.9 659.7,891.8 660.1,891.7 660.5,891.7 660.9,891.7 661.3,891.7 661.7,891.6 662.1,891.6 662.5,891.2 662.9,891.1 663.3,890.9 663.7,890.5 664.1,890.5 664.5,890.1 664.9,890 665.3,889.8 665.7,889.6 666.1,889.5 666.5,889.1 666.9,888.7 667.3,888.5 667.7,888.2 668.1,887.8 668.5,887.3 668.9,886.7 669.3,886.2 669.7,885.6 670.1,885.3 670.5,884.9 670.9,884.6 671.3,884.4 671.7,883.9 672.1,883.8 672.5,883.6 672.9,883.4 673.3,883.5 673.7,883.8 674.1,884.1 674.5,884.8 674.9,885.8 675.3,886.6 675.7,887.7 676.1,888.6 676.5,889.3 676.9,890.2 677.3,890.9 677.7,891.5 678.1,892.1 678.5,892.4 678.9,892.6 679.3,892.9 679.7,893.3 680.1,893.4 680.5,893.6 680.9,893.5 681.3,893.3 681.7,893.4 682.1,893.3 682.5,893.4 682.9,893.4 683.3,893.3 683.7,893.3 684.1,893.3 684.5,893.3 684.9,893.3 685.3,893.3 685.7,893.2 686.1,893 686.5,892.9 686.9,892.9 687.3,893.1 687.7,893.1 688.1,893.1 688.5,893.1 688.9,893.1 689.3,893.2 689.7,893.3 690.1,893.1 690.5,893.2 690.9,893.2 691.3,893.3 691.7,893.4 692.1,893.4 692.5,893.2 692.9,893.2 693.3,893.3 693.7,893.2 694.1,893.3 694.5,893.3 694.9,893.2 695.3,893.3 695.7,893.3 696.1,893.2 696.5,893.3 696.9,893.2 697.3,893.2 697.7,893.3 698.1,893 698.5,892.9 698.9,893.1 699.3,893 699.7,893.1 700.1,893.3 700.5,893.2 700.9,893.3 701.3,893.3 701.7,893.2 702.1,893.3 702.5,893.2 702.9,893.2 703.3,893.1 703.7,892.9 704.1,893.1 704.5,893.1 704.9,893 705.3,892.9 705.7,892.7 706.1,892.5 706.5,892.4 706.9,892.5 707.3,892.5 707.7,892.6 708.1,892.7 708.5,892.7 708.9,892.7 709.3,892.7 709.7,892.6 710.1,892.7 710.5,892.8 710.9,893 711.3,893.1 711.7,891.1 712.1,882.5 712.5,865.4 712.9,851.7 713.3,856.7 713.7,874.3 714.1,887.3 714.5,892 714.9,892.4 715.3,892 715.7,891.9 716.1,891.8 716.5,891.8 716.9,891.8 717.3,891.7 717.7,891.6 718.1,891.4 718.5,891 718.9,890.9 719.3,890.8 719.7,890.6 720.1,890.5 720.5,890.1 720.9,889.7 721.3,889.4 721.7,889 722.1,888.6 722.5,888.1 722.9,887.9 723.3,887.6 723.7,887.3 724.1,886.8 724.5,886.3 724.9,885.6 725.3,885.1 725.7,884.8 726.1,884.1 726.5,883.7 726.9,883.4 727.3,883.1 727.7,882.9 728.1,882.6 728.5,882.6 728.9,882.6 729.3,883.2 729.7,883.9 730.1,884.7 730.5,885.7 730.9,886.5 731.3,887.4 731.7,888.2 732.1,889.1 732.5,889.9 732.9,890.5 733.3,891 733.7,891.2 734.1,891.5 734.5,891.7 734.9,892 735.3,892.3 735.7,892.3 736.1,892.4 736.5,892.3 736.9,892.3 737.3,892.3 737.7,892.1 738.1,892.1 738.5,892.1 738.9,892.1 739.3,892.1 739.7,892.2 740.1,892 740.5,892 740.9,892.1 741.3,892.1 741.7,892.1 742.1,892 742.5,892 742.9,891.9 743.3,891.7 743.7,891.8 744.1,891.7 744.5,891.7 744.9,891.9 745.3,891.9 745.7,891.9 746.1,892 746.5,892 746.9,891.9 747.3,891.9 747.7,892 748.1,891.9 748.5,892 748.9,892 749.3,892.2 749.7,892.2 750.1,892.2 750.5,892.4 750.9,892.2 751.3,892.2 751.7,892.2 752.1,892.2 752.5,892.3 752.9,892.3 753.3,892.4 753.7,892.4 754.1,892.3 754.5,892.1 754.9,891.9 755.3,892 755.7,891.9 756.1,892 756.5,892 756.9,892 757.3,891.9 757.7,892.1 758.1,892.1 758.5,891.8 758.9,891.9 759.3,891.7 759.7,891.6 760.1,891.6 760.5,891.5 760.9,891.3 761.3,891.3 761.7,891.3 762.1,891.5 762.5,891.7 762.9,891.8 763.3,891.9 763.7,891.7 764.1,891.6 764.5,891.5 764.9,891.5 765.3,891.7 765.7,891.3 766.1,887.4 766.5,875.7 766.9,860.1 767.3,855.5 767.7,867.6 768.1,882.6 768.5,889.9 768.9,891.7 769.3,891.5 769.7,891 770.1,891 770.5,890.8 770.9,890.6 771.3,890.6 771.7,890.4 772.1,890.3 772.5,890.1 772.9,890 773.3,890 773.7,889.9 774.1,889.8 774.5,889.6 774.9,889.1 775.3,888.6 775.7,888.3 776.1,888 776.5,887.6 776.9,887.2 777.3,886.7 777.7,886.3 778.1,885.8 778.5,885.4 778.9,884.8 779.3,884.6 779.7,884.1 780.1,883.7 780.5,883.5 780.9,882.8 781.3,882.5 781.7,882.2 782.1,882 782.5,882.1 782.9,882.1 783.3,882.5 783.7,883 784.1,883.6 784.5,884.3 784.9,885.2 785.3,885.9 785.7,886.8 786.1,887.7 786.5,888.6 786.9,889.3 787.3,889.9 787.7,890.4 788.1,890.8 788.5,891.1 788.9,891.3 789.3,891.4 789.7,891.4 790.1,891.8 790.5,891.8 790.9,891.7 791.3,891.6 791.7,891.6 792.1,891.7 792.5,891.7 792.9,891.7 793.3,891.5 793.7,891.6 794.1,891.6 794.5,891.6 794.9,891.7 795.3,891.7 795.7,891.5 796.1,891.3 796.5,891.2 796.9,891.1 797.3,891.2 797.7,891.2 798.1,891.4 798.5,891.5 798.9,891.4 799.3,891.5 799.7,891.4 800.1,891.3 800.5,891.4 800.9,891.4 801.3,891.5 801.7,891.6 802.1,891.6 802.5,891.6 802.9,891.4 803.3,891.3 803.7,891.2 804.1,891 804.5,891 804.9,891 805.3,891 805.7,891.1 806.1,891.3 806.5,891.4 806.9,891.4 807.3,891.5 807.7,891.4 808.1,891.4 808.5,891.4 808.9,891.4 809.3,891.6 809.7,891.2 810.1,888.6 810.5,883 810.9,878.7 811.3,880.3 811.7,885.7 812.1,890 812.5,891.4 812.9,891.4 813.3,891.1 813.7,891.1 814.1,890.8 814.5,890.5 814.9,890.3 815.3,890.1 815.7,889.9 816.1,889.9 816.5,889.7 816.9,889.7 817.3,889.6 817.7,889.5 818.1,889.3 818.5,888.9 818.9,888.8 819.2,927" fill="#00f000" stroke="none" stroke-width="1" />
<polyline points="527.7,892.9 528.1,892.8 528.5,892.6 528.9,892.6 529.3,892.6 529.7,892.6 530.1,892.7 530.5,892.9 530.9,892.9 531.3,892.8 531.7,892.8 532.1,892.5 532.5,892.5 532.9,892.6 533.3,892.6 533.7,892.7 534.1,892.7 534.5,892.4 534.9,892.4 535.3,892.3 535.7,892.2 536.1,892.4 536.5,892.3 536.9,892.2 537.3,892.2 537.7,892.2 538.1,892 538.5,891.9 538.9,891.8 539.3,891.6 539.7,891.5 540.1,891.7 540.5,891.7 540.9,891.8 541.3,891.9 541.7,891.7 542.1,891.7 542.5,891.6 542.9,891.5 543.3,891.6 543.7,891.8 544.1,891 544.5,885.5 544.9,872 545.3,857.6 545.7,857.5 546.1,871.7 546.5,885.1 546.9,890.8 547.3,891.7 547.7,891.3 548.1,890.9 548.5,890.6 548.9,890.4 549.3,890.3 549.7,890.2 550.1,890.1 550.5,889.9 550.9,889.7 551.3,889.7 551.7,889.6 552.1,889.4 552.5,889.2 552.9,888.9 553.3,888.7 553.7,888.4 554.1,888 554.5,887.5 554.9,887.1 555.3,886.6 555.7,886.3 556.1,886 556.5,885.4 556.9,884.9 557.3,884.2 557.7,883.7 558.1,883.2 558.5,882.7 558.9,882.4 559.3,881.9 559.7,881.7 560.1,881.5 560.5,881.4 560.9,881.6 561.3,881.5 561.7,882 562.1,882.4 562.5,883.1 562.9,883.8 563.3,884.7 563.7,885.6 564.1,886.5 564.5,887.3 564.9,887.9 565.3,888.5 565.7,889 566.1,889.6 566.5,890 566.9,890.2 567.3,890.5 567.7,890.5 568.1,890.8 568.5,891 568.9,891.2 569.3,891.1 569.7,890.9 570.1,890.8 570.5,890.7 570.9,890.6 571.3,890.6 571.7,890.6 572.1,890.5 572.5,890.5 572.9,890.4 573.3,890.4 573.7,890.5 574.1,890.4 574.5,890.5 574.9,890.4 575.3,890.4 575.7,890.4 576.1,890.1 576.5,890.1 576.9,889.9 577.3,889.8 577.7,890 578.1,889.9 578.5,890 578.9,890.2 579.3,890.1 579.7,890.2 580.1,890.2 580.5,890.3 580.9,890.4 581.3,890.3 581.7,890.4 582.1,890.2 582.5,890.2 582.9,890.2 583.3,890 583.7,890 584.1,889.9 584.5,890 584.9,890.1 585.3,890 585.7,889.8 586.1,889.9 586.5,890 586.9,890 587.3,890.2 587.7,890.2 588.1,890 588.5,890.1 588.9,890 589.3,889.9 589.7,890 590.1,890.1 590.5,889.9 590.9,889.8 591.3,889.9 591.7,889.8 592.1,889.9 592.5,889.9 592.9,889.7 593.3,889.5 593.7,889.4 594.1,889.3 594.5,889.3 594.9,889.3 595.3,889.2 595.7,889.1 596.1,889.2 596.5,889.3 596.9,889.6 597.3,889.8 597.7,889.9 598.1,889.8 598.5,889.6 598.9,889.7 599.3,889.6 599.7,889.6 600.1,889.2 600.5,884.6 600.9,870.9 601.3,852.6 601.7,847 602.1,860.9 602.5,878.3 602.9,887.2 603.3,889.2 603.7,889.1 604.1,889 604.5,888.8 604.9,888.7 605.3,888.6 605.7,888.3 606.1,888.1 606.5,888 606.9,888 607.3,888 607.7,887.9 608.1,887.7 608.5,887.4 608.9,887.1 609.3,886.8 609.7,886.4 610.1,886.1 610.5,885.6 610.9,885.2 611.3,885 611.7,884.7 612.1,884.5 612.5,884 612.9,883.4 613.3,882.8 613.7,882.3 614.1,881.9 614.5,881.5 614.9,881.1 615.3,880.9 615.7,880.5 616.1,880.4 616.5,880.3 616.9,880.1 617.3,880.1 617.7,880.3 618.1,880.7 618.5,881.3 618.9,882 619.3,882.8 619.7,883.9 620.1,884.8 620.5,885.6 620.9,886.3 621.3,886.9 621.7,887.6 622.1,888.2 622.5,888.7 622.9,889 623.3,889.3 623.7,889.4 624.1,889.5 624.5,889.6 624.9,889.7 625.3,889.7 625.7,889.8 626.1,889.9 626.5,889.8 626.9,889.8 627.3,889.8 627.7,889.9 628.1,890 628.5,890.1 628.9,890.1 629.3,890.1 629.7,890.1 630.1,890.1 630.5,890.2 630.9,890.2 631.3,890.1 631.7,890.2 632.1,890 632.5,890.2 632.9,890.3 633.3,890.4 633.7,890.6 634.1,890.7 634.5,890.7 634.9,890.6 635.3,890.6 635.7,890.5 636.1,890.5 636.5,890.8 636.9,890.8 637.3,890.9 637.7,891 638.1,890.9 638.5,891.1 638.9,891.1 639.3,891.1 639.7,891.3 640.1,891.3 640.5,891.6 640.9,891.7 641.3,891.7 641.7,891.7 642.1,891.7 642.5,891.7 642.9,891.8 643.3,891.7 643.7,891.7 644.1,891.9 644.5,891.8 644.9,891.9 645.3,891.9 645.7,891.8 646.1,891.7 646.5,891.9 646.9,892 647.3,892 647.7,892.2 648.1,892.1 648.5,892 648.9,892 649.3,892 649.7,892 650.1,892.2 650.5,892.1 650.9,892 651.3,891.9 651.7,891.7 652.1,891.7 652.5,891.8 652.9,891.9 653.3,892.1 653.7,892.2 654.1,892.3 654.5,892.5 654.9,892.5 655.3,892.7 655.7,892.6 656.1,891.9 656.5,886.9 656.9,872.6 657.3,853.7 657.7,848.4 658.1,862.9 658.5,880.8 658.9,889.9 659.3,891.9 659.7,891.8 660.1,891.7 660.5,891.7 660.9,891.7 661.3,891.7 661.7,891.6 662.1,891.6 662.5,891.2 662.9,891.1 663.3,890.9 663.7,890.5 664.1,890.5 664.5,890.1 664.9,890 665.3,889.8 665.7,889.6 666.1,889.5 666.5,889.1 666.9,888.7 667.3,888.5 667.7,888.2 668.1,887.8 668.5,887.3 668.9,886.7 669.3,886.2 669.7,885.6 670.1,885.3 670.5,884.9 670.9,884.6 671.3,884.4 671.7,883.9 672.1,883.8 672.5,883.6 672.9,883.4 673.3,883.5 673.7,883.8 674.1,884.1 674.5,884.8 674.9,885.8 675.3,886.6 675.7,887.7 676.1,888.6 676.5,889.3 676.9,890.2 677.3,890.9 677.7,891.5 678.1,892.1 678.5,892.4 678.9,892.6 679.3,892.9 679.7,893.3 680.1,893.4 680.5,893.6 680.9,893.5 681.3,893.3 681.7,893.4 682.1,893.3 682.5,893.4 682.9,893.4 683.3,893.3 683.7,893.3 684.1,893.3 684.5,893.3 684.9,893.3 685.3,893.3 685.7,893.2 686.1,893 686.5,892.9 686.9,892.9 687.3,893.1 687.7,893.1 688.1,893.1 688.5,893.1 688.9,893.1 689.3,893.2 689.7,893.3 690.1,893.1 690.5,893.2 690.9,893.2 691.3,893.3 691.7,893.4 692.1,893.4 692.5,893.2 692.9,893.2 693.3,893.3 693.7,893.2 694.1,893.3 694.5,893.3 694.9,893.2 695.3,893.3 695.7,893.3 696.1,893.2 696.5,893.3 696.9,893.2 697.3,893.2 697.7,893.3 698.1,893 698.5,892.9 698.9,893.1 699.3,893 699.7,893.1 700.1,893.3 700.5,893.2 700.9,893.3 701.3,893.3 701.7,893.2 702.1,893.3 702.5,893.2 702.9,893.2 703.3,893.1 703.7,892.9 704.1,893.1 704.5,893.1 704.9,893 705.3,892.9 705.7,892.7 706.1,892.5 706.5,892.4 706.9,892.5 707.3,892.5 707.7,892.6 708.1,892.7 708.5,892.7 708.9,892.7 709.3,892.7 709.7,892.6 710.1,892.7 710.5,892.8 710.9,893 711.3,893.1 711.7,891.1 712.1,882.5 712.5,865.4 712.9,851.7 713.3,856.7 713.7,874.3 714.1,887.3 714.5,892 714.9,892.4 715.3,892 715.7,891.9 716.1,891.8 716.5,891.8 716.9,891.8 717.3,891.7 717.7,891.6 718.1,891.4 718.5,891 718.9,890.9 719.3,890.8 719.7,890.6 720.1,890.5 720.5,890.1 720.9,889.7 721.3,889.4 721.7,889 722.1,888.6 722.5,888.1 722.9,887.9 723.3,887.6 723.7,887.3 724.1,886.8 724.5,886.3 724.9,885.6 725.3,885.1 725.7,884.8 726.1,884.1 726.5,883.7 726.9,883.4 727.3,883.1 727.7,882.9 728.1,882.6 728.5,882.6 728.9,882.6 729.3,883.2 729.7,883.9 730.1,884.7 730.5,885.7 730.9,886.5 731.3,887.4 731.7,888.2 732.1,889.1 732.5,889.9 732.9,890.5 733.3,891 733.7,891.2 734.1,891.5 734.5,891.7 734.9,892 735.3,892.3 735.7,892.3 736.1,892.4 736.5,892.3 736.9,892.3 737.3,892.3 737.7,892.1 738.1,892.1 738.5,892.1 738.9,892.1 739.3,892.1 739.7,892.2 740.1,892 740.5,892 740.9,892.1 741.3,892.1 741.7,892.1 742.1,892 742.5,892 742.9,891.9 743.3,891.7 743.7,891.8 744.1,891.7 744.5,891.7 744.9,891.9 745.3,891.9 745.7,891.9 746.1,892 746.5,892 746.9,891.9 747.3,891.9 747.7,892 748.1,891.9 748.5,892 748.9,892 749.3,892.2 749.7,892.2 750.1,892.2 750.5,892.4 750.9,892.2 751.3,892.2 751.7,892.2 752.1,892.2 752.5,892.3 752.9,892.3 753.3,892.4 753.7,892.4 754.1,892.3 754.5,892.1 754.9,891.9 755.3,892 755.7,891.9 756.1,892 756.5,892 756.9,892 757.3,891.9 757.7,892.1 758.1,892.1 758.5,891.8 758.9,891.9 759.3,891.7 759.7,891.6 760.1,891.6 760.5,891.5 760.9,891.3 761.3,891.3 761.7,891.3 762.1,891.5 762.5,891.7 762.9,891.8 763.3,891.9 763.7,891.7 764.1,891.6 764.5,891.5 764.9,891.5 765.3,891.7 765.7,891.3 766.1,887.4 766.5,875.7 766.9,860.1 767.3,855.5 767.7,867.6 768.1,882.6 768.5,889.9 768.9,891.7 769.3,891.5 769.7,891 770.1,891 770.5,890.8 770.9,890.6 771.3,890.6 771.7,890.4 772.1,890.3 772.5,890.1 772.9,890 773.3,890 773.7,889.9 774.1,889.8 774.5,889.6 774.9,889.1 775.3,888.6 775.7,888.3 776.1,888 776.5,887.6 776.9,887.2 777.3,886.7 777.7,886.3 778.1,885.8 778.5,885.4 778.9,884.8 779.3,884.6 779.7,884.1 780.1,883.7 780.5,883.5 780.9,882.8 781.3,882.5 781.7,882.2 782.1,882 782.5,882.1 782.9,882.1 783.3,882.5 783.7,883 784.1,883.6 784.5,884.3 784.9,885.2 785.3,885.9 785.7,886.8 786.1,887.7 786.5,888.6 786.9,889.3 787.3,889.9 787.7,890.4 788.1,890.8 788.5,891.1 788.9,891.3 789.3,891.4 789.7,891.4 790.1,891.8 790.5,891.8 790.9,891.7 791.3,891.6 791.7,891.6 792.1,891.7 792.5,891.7 792.9,891.7 793.3,891.5 793.7,891.6 794.1,891.6 794.5,891.6 794.9,891.7 795.3,891.7 795.7,891.5 796.1,891.3 796.5,891.2 796.9,891.1 797.3,891.2 797.7,891.2 798.1,891.4 798.5,891.5 798.9,891.4 799.3,891.5 799.7,891.4 800.1,891.3 800.5,891.4 800.9,891.4 801.3,891.5 801.7,891.6 802.1,891.6 802.5,891.6 802.9,891.4 803.3,891.3 803.7,891.2 804.1,891 804.5,891 804.9,891 805.3,891 805.7,891.1 806.1,891.3 806.5,891.4 806.9,891.4 807.3,891.5 807.7,891.4 808.1,891.4 808.5,891.4 808.9,891.4 809.3,891.6 809.7,891.2 810.1,888.6 810.5,883 810.9,878.7 811.3,880.3 811.7,885.7 812.1,890 812.5,891.4 812.9,891.4 813.3,891.1 813.7,891.1 814.1,890.8 814.5,890.5 814.9,890.3 815.3,890.1 815.7,889.9 816.1,889.9 816.5,889.7 816.9,889.7 817.3,889.6 817.7,889.5 818.1,889.3 818.5,888.9 818.9,888.8" fill="none" stroke="#101010" stroke-width="0.95" stroke-linejoin="round" />
<line x1="545.5" y1="889.7" x2="545.5" y2="857.4" stroke="#14b814" stroke-width="1.5" />
<line x1="601.6" y1="889.7" x2="601.6" y2="848.4" stroke="#14b814" stroke-width="1.5" />
<line x1="657.6" y1="889.7" x2="657.6" y2="849.8" stroke="#14b814" stroke-width="1.5" />
<line x1="713" y1="889.7" x2="713" y2="853.5" stroke="#14b814" stroke-width="1.5" />
<line x1="767.2" y1="889.7" x2="767.2" y2="857" stroke="#14b814" stroke-width="1.5" />
<line x1="811" y1="889.7" x2="811" y2="880.8" stroke="#14b814" stroke-width="1.5" />
<polygon points="492.1,977 492.1,938.5 492.5,938.4 492.9,938.3 493.3,938.2 493.7,938 494.1,938.2 494.5,938.2 494.9,938.3 495.3,938.3 495.7,938.3 496.1,938.3 496.5,938.1 496.9,938.2 497.3,938 497.7,938.2 498.1,938.3 498.5,938.3 498.9,938.4 499.3,938.4 499.7,938.3 500.1,938.3 500.5,938.3 500.9,938.2 501.3,938.2 501.7,938.3 502.1,938.2 502.5,938.1 502.9,938.1 503.3,938 503.7,938 504.1,938.1 504.5,938.1 504.9,938.4 505.3,938.5 505.7,938.5 506.1,938.5 506.5,938.3 506.9,938.1 507.3,938.1 507.7,937.8 508.1,937.6 508.5,937.7 508.9,937.6 509.3,937.6 509.7,937.6 510.1,937.6 510.5,937.6 510.9,937.8 511.3,937.9 511.7,938 512.1,938.2 512.5,937.8 512.9,935.2 513.3,926.5 513.7,912.2 514.1,901.8 514.5,905.5 514.9,919.4 515.3,931.3 515.7,936.7 516.1,937.8 516.5,937.7 516.9,937.5 517.3,937.3 517.7,937 518.1,936.9 518.5,936.8 518.9,936.8 519.3,936.7 519.7,936.6 520.1,936.3 520.5,936.2 520.9,936.1 521.3,936 521.7,936 522.1,935.7 522.5,935.5 522.9,935.1 523.3,934.8 523.7,934.7 524.1,934.4 524.5,934.2 524.9,933.7 525.3,933.3 525.7,932.8 526.1,932.5 526.5,932.1 526.9,931.9 527.3,931.4 527.7,930.9 528.1,930.6 528.5,930 528.9,929.7 529.3,929.4 529.7,929.3 530.1,929.1 530.5,929.1 530.9,929 531.3,928.9 531.7,929.1 532.1,929.4 532.5,930 532.9,930.5 533.3,931.4 533.7,932.1 534.1,932.9 534.5,933.7 534.9,934.3 535.3,935.1 535.7,935.7 536.1,936.3 536.5,936.7 536.9,936.9 537.3,937.3 537.7,937.3 538.1,937.5 538.5,937.7 538.9,937.9 539.3,938 539.7,938 540.1,938 540.5,937.9 540.9,938 541.3,938.3 541.7,938 542.1,938 542.5,937.9 542.9,937.8 543.3,938.1 543.7,938.1 544.1,937.9 544.5,937.8 544.9,937.7 545.3,937.8 545.7,937.9 546.1,938 546.5,938 546.9,937.9 547.3,937.9 547.7,937.9 548.1,937.9 548.5,937.8 548.9,937.9 549.3,938 549.7,938 550.1,938.2 550.5,938.3 550.9,938.1 551.3,937.9 551.7,937.7 552.1,937.9 552.5,938.1 552.9,938.2 553.3,938.2 553.7,938.1 554.1,938.1 554.5,938.1 554.9,938.2 555.3,938.1 555.7,938.2 556.1,938.3 556.5,938.3 556.9,938.5 557.3,938.3 557.7,938.2 558.1,938.2 558.5,938.1 558.9,938 559.3,938 559.7,937.9 560.1,937.9 560.5,938.2 560.9,938 561.3,937.9 561.7,938 562.1,937.9 562.5,938.2 562.9,938.3 563.3,938.3 563.7,938.3 564.1,938.2 564.5,938.1 564.9,938.2 565.3,938.1 565.7,938.1 566.1,938.2 566.5,938.1 566.9,937.9 567.3,937.9 567.7,937.7 568.1,937.6 568.5,937.9 568.9,937.9 569.3,938 569.7,938.1 570.1,938.1 570.5,938 570.9,938.1 571.3,938 571.7,938 572.1,938.1 572.5,937 572.9,932.4 573.3,921.4 573.7,908.4 574.1,904.9 574.5,914.3 574.9,927.2 575.3,935.2 575.7,937.6 576.1,937.6 576.5,937.5 576.9,937.4 577.3,937.4 577.7,937.2 578.1,937 578.5,936.7 578.9,936.5 579.3,936.5 579.7,936.2 580.1,936.1 580.5,936.2 580.9,935.9 581.3,935.9 581.7,935.8 582.1,935.4 582.5,935.3 582.9,935.1 583.3,934.8 583.7,934.5 584.1,934.1 584.5,933.8 584.9,933.4 585.3,933 585.7,932.6 586.1,932.2 586.5,931.8 586.9,931.4 587.3,931 587.7,930.6 588.1,930.2 588.5,929.9 588.9,929.6 589.3,929.4 589.7,929.3 590.1,929.2 590.5,929.2 590.9,929.2 591.3,929.1 591.7,929.5 592.1,929.8 592.5,930.3 592.9,931 593.3,931.6 593.7,932.5 594.1,933.3 594.5,933.9 594.9,934.8 595.3,935.3 595.7,935.8 596.1,936.3 596.5,936.7 596.9,937.2 597.3,937.6 597.7,937.9 598.1,937.9 598.5,938 598.9,938 599.3,938 599.7,938.1 600.1,938 600.5,938.2 600.9,938.2 601.3,938.2 601.7,938.2 602.1,937.9 602.5,938.1 602.9,938.1 603.3,938.1 603.7,938.1 604.1,938 604.5,937.8 604.9,937.9 605.3,937.9 605.7,937.9 606.1,938 606.5,937.9 606.9,938 607.3,937.9 607.7,937.9 608.1,937.9 608.5,937.7 608.9,937.7 609.3,937.7 609.7,937.7 610.1,938 610.5,937.9 610.9,937.9 611.3,937.9 611.7,937.7 612.1,937.8 612.5,937.7 612.9,937.8 613.3,937.7 613.7,937.8 614.1,937.8 614.5,938 614.9,938.2 615.3,938.4 615.7,938.4 616.1,938.2 616.5,938.1 616.9,938.1 617.3,938.1 617.7,938.1 618.1,938.1 618.5,938.1 618.9,938.2 619.3,938.2 619.7,938.1 620.1,938.1 620.5,938.2 620.9,938.3 621.3,938.3 621.7,938.3 622.1,938.2 622.5,938.2 622.9,938.2 623.3,938.1 623.7,938 624.1,938.1 624.5,938.1 624.9,938 625.3,937.9 625.7,937.6 626.1,937.4 626.5,937.4 626.9,937.4 627.3,937.4 627.7,937.5 628.1,937.7 628.5,937.8 628.9,937.9 629.3,937.9 629.7,937.9 630.1,937.9 630.5,938 630.9,937.1 631.3,931.8 631.7,919.8 632.1,905.8 632.5,901.9 632.9,912.2 633.3,926.4 633.7,934.7 634.1,937.4 634.5,937.7 634.9,937.2 635.3,937.1 635.7,936.9 636.1,936.6 636.5,936.7 636.9,936.6 637.3,936.6 637.7,936.6 638.1,936.5 638.5,936.3 638.9,936.2 639.3,935.8 639.7,935.7 640.1,935.6 640.5,935.5 640.9,935.4 641.3,934.9 641.7,934.6 642.1,934.2 642.5,934 642.9,933.8 643.3,933.5 643.7,933.3 644.1,932.8 644.5,932.3 644.9,931.7 645.3,931.2 645.7,931 646.1,930.8 646.5,930.6 646.9,930.3 647.3,929.8 647.7,929.5 648.1,929 648.5,928.8 648.9,928.7 649.3,928.6 649.7,928.8 650.1,929.1 650.5,929.6 650.9,930.2 651.3,930.7 651.7,931.5 652.1,932.3 652.5,933 652.9,933.8 653.3,934.5 653.7,934.9 654.1,935.4 654.5,935.9 654.9,936.6 655.3,937.1 655.7,937.5 656.1,937.7 656.5,937.7 656.9,937.9 657.3,937.9 657.7,938.1 658.1,938.1 658.5,938 658.9,938 659.3,938 659.7,938 660.1,938.1 660.5,938.3 660.9,938.3 661.3,938.3 661.7,938.3 662.1,938.1 662.5,938 662.9,938 663.3,937.9 663.7,937.9 664.1,938 664.5,937.9 664.9,937.9 665.3,937.9 665.7,937.7 666.1,937.9 666.5,937.8 666.9,937.8 667.3,937.7 667.7,937.7 668.1,937.8 668.5,937.9 668.9,938.1 669.3,938 669.7,938.1 670.1,938 670.5,937.9 670.9,938 671.3,938 671.7,938 672.1,937.9 672.5,938.2 672.9,938.2 673.3,938.4 673.7,938.3 674.1,938.1 674.5,938.1 674.9,937.9 675.3,938 675.7,938.1 676.1,938 676.5,937.9 676.9,937.9 677.3,937.8 677.7,937.9 678.1,938.1 678.5,938.1 678.9,938.2 679.3,938.2 679.7,938.2 680.1,938.3 680.5,938.2 680.9,938.3 681.3,938.2 681.7,938 682.1,938.1 682.5,938.2 682.9,938.2 683.3,938.2 683.7,938 684.1,937.8 684.5,937.7 684.9,937.7 685.3,937.8 685.7,937.8 686.1,937.8 686.5,937.9 686.9,937.9 687.3,938.1 687.7,938.2 688.1,938.1 688.5,938 688.9,938 689.3,938 689.7,937 690.1,931.8 690.5,919.6 690.9,905.4 691.3,901.6 691.7,911.9 692.1,926.2 692.5,935.1 692.9,937.8 693.3,937.8 693.7,937.6 694.1,937.1 694.5,936.9 694.9,937 695.3,936.6 695.7,936.7 696.1,936.6 696.5,936.5 696.9,936.4 697.3,936.2 697.7,935.8 698.1,935.7 698.5,935.5 698.9,935.2 699.3,935.2 699.7,935 700.1,934.7 700.5,934.6 700.9,934.3 701.3,934 701.7,933.8 702.1,933.4 702.5,933 702.9,932.6 703.3,932.4 703.7,932 704.1,931.8 704.5,931.3 704.9,930.7 705.3,930.2 705.7,929.9 706.1,929.7 706.5,929.5 706.9,929.4 707.3,929.3 707.7,929 708.1,929.1 708.5,929 708.9,929.1 709.3,929.6 709.7,930.1 710.1,930.8 710.5,931.6 710.9,932.3 711.3,933.1 711.7,933.9 712.1,934.5 712.5,935.2 712.9,935.7 713.3,936.2 713.7,936.5 714.1,936.8 714.5,937.2 714.9,937.4 715.3,937.7 715.7,937.9 716.1,937.8 716.5,938.1 716.9,938 717.3,937.9 717.7,938.1 718.1,938.1 718.5,938.1 718.9,938.2 719.3,938.3 719.7,938.4 720.1,938.3 720.5,938.2 720.9,938.2 721.3,938 721.7,938 722.1,938 722.5,937.8 722.9,937.7 723.3,937.8 723.7,937.8 724.1,937.9 724.5,938.1 724.9,938 725.3,938 725.7,937.9 726.1,937.8 726.5,938 726.9,937.8 727.3,937.9 727.7,937.9 728.1,938 728.5,938.2 728.9,938.3 729.3,938.4 729.7,938.3 730.1,938.3 730.5,938.2 730.9,938.2 731.3,938.3 731.7,938.3 732.1,938.5 732.5,938.4 732.9,938.3 733.3,938.2 733.7,938.2 734.1,938.2 734.5,938 734.9,938.1 735.3,938.1 735.7,938.1 736.1,938.3 736.5,938.3 736.9,938.3 737.3,938.3 737.7,938.3 738.1,938.1 738.5,937.9 738.9,937.9 739.3,937.9 739.7,937.8 740.1,938 740.5,938.1 740.9,938.2 741.3,938.4 741.7,938.2 742.1,938.2 742.5,938.1 742.9,938.1 743.3,938.1 743.7,938.1 744.1,938.2 744.5,938.1 744.9,937.9 745.3,937.8 745.7,937.6 746.1,937.6 746.5,937.6 746.9,937.4 747.3,937.5 747.7,937.5 748.1,937.6 748.5,937.9 748.9,938 749.3,938 749.7,938.2 750.1,938.2 750.5,938.1 750.9,936.4 751.3,929.6 751.7,916.3 752.1,903.8 752.5,903.7 752.9,915.9 753.3,928.9 753.7,935.8 754.1,937.5 754.5,937.5 754.9,937.4 755.3,937.2 755.7,937.2 756.1,937.2 756.5,937.1 756.9,937.1 757.3,937 757.7,936.9 758.1,936.7 758.5,936.4 758.9,936.2 759.3,936 759.7,935.9 760.1,935.6 760.5,935.4 760.9,935.3 761.3,934.9 761.7,934.7 762.1,934.3 762.5,933.9 762.9,933.6 763.3,933.1 763.7,932.8 764.1,932.3 764.5,932.1 764.9,931.8 765.3,931.5 765.7,931.1 766.1,930.5 766.5,930.2 766.9,929.8 767.3,929.6 767.7,929.4 768.1,929.3 768.5,929.2 768.9,929.1 769.3,929 769.7,929.3 770.1,929.4 770.5,929.7 770.9,930.1 771.3,930.6 771.7,931.4 772.1,932.2 772.5,933.3 772.9,934.1 773.3,934.8 773.7,935.4 774.1,935.8 774.5,936.4 774.9,936.8 775.3,937.3 775.7,937.5 776.1,937.7 776.5,937.7 776.9,937.8 777.3,938 777.7,938.2 778.1,938.3 778.5,938.2 778.9,938.1 779.3,938 779.7,938 780.1,938.1 780.5,938 780.9,938 781.3,938 781.7,938.1 782.1,938.3 782.5,938.2 782.9,938.2 783.3,938.1 783.7,938 784.1,938.1 784.5,938 784.9,938 785.3,937.9 785.7,937.7 786.1,937.8 786.5,937.8 786.9,937.8 787.3,938 787.7,937.9 788.1,937.9 788.5,937.9 788.9,937.8 789.3,937.9 789.7,938.1 790.1,938 790.5,938.1 790.9,938.1 791.3,938 791.7,938.2 792.1,938.2 792.5,938.2 792.9,938.1 793.3,938.1 793.7,938 794.1,938 794.5,938 794.9,938.2 795.3,938.3 795.7,938.4 796.1,938.5 796.5,938.4 796.9,938.5 797.3,938.4 797.7,938.3 798.1,938.4 798.5,938.2 798.9,938.1 799.3,938.1 799.7,938.1 800.1,938.2 800.5,938.5 800.9,938.5 801.3,938.5 801.7,938.4 802.1,938.4 802.5,938.3 802.9,938.3 803.3,938.2 803.7,938.2 804.1,938 804.5,937.7 804.9,937.6 805.3,937.4 805.7,937.5 806.1,937.6 806.5,937.9 806.9,937.9 807.3,938.1 807.7,938.1 808.1,937.9 808.5,938 808.9,938 809.3,938.4 809.7,938.5 810.1,936.6 810.5,929.9 810.9,919 811.3,911.2 811.7,914 811.9,977" fill="#ff0000" stroke="none" stroke-width="1" />
<polyline points="492.1,938.5 492.5,938.4 492.9,938.3 493.3,938.2 493.7,938 494.1,938.2 494.5,938.2 494.9,938.3 495.3,938.3 495.7,938.3 496.1,938.3 496.5,938.1 496.9,938.2 497.3,938 497.7,938.2 498.1,938.3 498.5,938.3 498.9,938.4 499.3,938.4 499.7,938.3 500.1,938.3 500.5,938.3 500.9,938.2 501.3,938.2 501.7,938.3 502.1,938.2 502.5,938.1 502.9,938.1 503.3,938 503.7,938 504.1,938.1 504.5,938.1 504.9,938.4 505.3,938.5 505.7,938.5 506.1,938.5 506.5,938.3 506.9,938.1 507.3,938.1 507.7,937.8 508.1,937.6 508.5,937.7 508.9,937.6 509.3,937.6 509.7,937.6 510.1,937.6 510.5,937.6 510.9,937.8 511.3,937.9 511.7,938 512.1,938.2 512.5,937.8 512.9,935.2 513.3,926.5 513.7,912.2 514.1,901.8 514.5,905.5 514.9,919.4 515.3,931.3 515.7,936.7 516.1,937.8 516.5,937.7 516.9,937.5 517.3,937.3 517.7,937 518.1,936.9 518.5,936.8 518.9,936.8 519.3,936.7 519.7,936.6 520.1,936.3 520.5,936.2 520.9,936.1 521.3,936 521.7,936 522.1,935.7 522.5,935.5 522.9,935.1 523.3,934.8 523.7,934.7 524.1,934.4 524.5,934.2 524.9,933.7 525.3,933.3 525.7,932.8 526.1,932.5 526.5,932.1 526.9,931.9 527.3,931.4 527.7,930.9 528.1,930.6 528.5,930 528.9,929.7 529.3,929.4 529.7,929.3 530.1,929.1 530.5,929.1 530.9,929 531.3,928.9 531.7,929.1 532.1,929.4 532.5,930 532.9,930.5 533.3,931.4 533.7,932.1 534.1,932.9 534.5,933.7 534.9,934.3 535.3,935.1 535.7,935.7 536.1,936.3 536.5,936.7 536.9,936.9 537.3,937.3 537.7,937.3 538.1,937.5 538.5,937.7 538.9,937.9 539.3,938 539.7,938 540.1,938 540.5,937.9 540.9,938 541.3,938.3 541.7,938 542.1,938 542.5,937.9 542.9,937.8 543.3,938.1 543.7,938.1 544.1,937.9 544.5,937.8 544.9,937.7 545.3,937.8 545.7,937.9 546.1,938 546.5,938 546.9,937.9 547.3,937.9 547.7,937.9 548.1,937.9 548.5,937.8 548.9,937.9 549.3,938 549.7,938 550.1,938.2 550.5,938.3 550.9,938.1 551.3,937.9 551.7,937.7 552.1,937.9 552.5,938.1 552.9,938.2 553.3,938.2 553.7,938.1 554.1,938.1 554.5,938.1 554.9,938.2 555.3,938.1 555.7,938.2 556.1,938.3 556.5,938.3 556.9,938.5 557.3,938.3 557.7,938.2 558.1,938.2 558.5,938.1 558.9,938 559.3,938 559.7,937.9 560.1,937.9 560.5,938.2 560.9,938 561.3,937.9 561.7,938 562.1,937.9 562.5,938.2 562.9,938.3 563.3,938.3 563.7,938.3 564.1,938.2 564.5,938.1 564.9,938.2 565.3,938.1 565.7,938.1 566.1,938.2 566.5,938.1 566.9,937.9 567.3,937.9 567.7,937.7 568.1,937.6 568.5,937.9 568.9,937.9 569.3,938 569.7,938.1 570.1,938.1 570.5,938 570.9,938.1 571.3,938 571.7,938 572.1,938.1 572.5,937 572.9,932.4 573.3,921.4 573.7,908.4 574.1,904.9 574.5,914.3 574.9,927.2 575.3,935.2 575.7,937.6 576.1,937.6 576.5,937.5 576.9,937.4 577.3,937.4 577.7,937.2 578.1,937 578.5,936.7 578.9,936.5 579.3,936.5 579.7,936.2 580.1,936.1 580.5,936.2 580.9,935.9 581.3,935.9 581.7,935.8 582.1,935.4 582.5,935.3 582.9,935.1 583.3,934.8 583.7,934.5 584.1,934.1 584.5,933.8 584.9,933.4 585.3,933 585.7,932.6 586.1,932.2 586.5,931.8 586.9,931.4 587.3,931 587.7,930.6 588.1,930.2 588.5,929.9 588.9,929.6 589.3,929.4 589.7,929.3 590.1,929.2 590.5,929.2 590.9,929.2 591.3,929.1 591.7,929.5 592.1,929.8 592.5,930.3 592.9,931 593.3,931.6 593.7,932.5 594.1,933.3 594.5,933.9 594.9,934.8 595.3,935.3 595.7,935.8 596.1,936.3 596.5,936.7 596.9,937.2 597.3,937.6 597.7,937.9 598.1,937.9 598.5,938 598.9,938 599.3,938 599.7,938.1 600.1,938 600.5,938.2 600.9,938.2 601.3,938.2 601.7,938.2 602.1,937.9 602.5,938.1 602.9,938.1 603.3,938.1 603.7,938.1 604.1,938 604.5,937.8 604.9,937.9 605.3,937.9 605.7,937.9 606.1,938 606.5,937.9 606.9,938 607.3,937.9 607.7,937.9 608.1,937.9 608.5,937.7 608.9,937.7 609.3,937.7 609.7,937.7 610.1,938 610.5,937.9 610.9,937.9 611.3,937.9 611.7,937.7 612.1,937.8 612.5,937.7 612.9,937.8 613.3,937.7 613.7,937.8 614.1,937.8 614.5,938 614.9,938.2 615.3,938.4 615.7,938.4 616.1,938.2 616.5,938.1 616.9,938.1 617.3,938.1 617.7,938.1 618.1,938.1 618.5,938.1 618.9,938.2 619.3,938.2 619.7,938.1 620.1,938.1 620.5,938.2 620.9,938.3 621.3,938.3 621.7,938.3 622.1,938.2 622.5,938.2 622.9,938.2 623.3,938.1 623.7,938 624.1,938.1 624.5,938.1 624.9,938 625.3,937.9 625.7,937.6 626.1,937.4 626.5,937.4 626.9,937.4 627.3,937.4 627.7,937.5 628.1,937.7 628.5,937.8 628.9,937.9 629.3,937.9 629.7,937.9 630.1,937.9 630.5,938 630.9,937.1 631.3,931.8 631.7,919.8 632.1,905.8 632.5,901.9 632.9,912.2 633.3,926.4 633.7,934.7 634.1,937.4 634.5,937.7 634.9,937.2 635.3,937.1 635.7,936.9 636.1,936.6 636.5,936.7 636.9,936.6 637.3,936.6 637.7,936.6 638.1,936.5 638.5,936.3 638.9,936.2 639.3,935.8 639.7,935.7 640.1,935.6 640.5,935.5 640.9,935.4 641.3,934.9 641.7,934.6 642.1,934.2 642.5,934 642.9,933.8 643.3,933.5 643.7,933.3 644.1,932.8 644.5,932.3 644.9,931.7 645.3,931.2 645.7,931 646.1,930.8 646.5,930.6 646.9,930.3 647.3,929.8 647.7,929.5 648.1,929 648.5,928.8 648.9,928.7 649.3,928.6 649.7,928.8 650.1,929.1 650.5,929.6 650.9,930.2 651.3,930.7 651.7,931.5 652.1,932.3 652.5,933 652.9,933.8 653.3,934.5 653.7,934.9 654.1,935.4 654.5,935.9 654.9,936.6 655.3,937.1 655.7,937.5 656.1,937.7 656.5,937.7 656.9,937.9 657.3,937.9 657.7,938.1 658.1,938.1 658.5,938 658.9,938 659.3,938 659.7,938 660.1,938.1 660.5,938.3 660.9,938.3 661.3,938.3 661.7,938.3 662.1,938.1 662.5,938 662.9,938 663.3,937.9 663.7,937.9 664.1,938 664.5,937.9 664.9,937.9 665.3,937.9 665.7,937.7 666.1,937.9 666.5,937.8 666.9,937.8 667.3,937.7 667.7,937.7 668.1,937.8 668.5,937.9 668.9,938.1 669.3,938 669.7,938.1 670.1,938 670.5,937.9 670.9,938 671.3,938 671.7,938 672.1,937.9 672.5,938.2 672.9,938.2 673.3,938.4 673.7,938.3 674.1,938.1 674.5,938.1 674.9,937.9 675.3,938 675.7,938.1 676.1,938 676.5,937.9 676.9,937.9 677.3,937.8 677.7,937.9 678.1,938.1 678.5,938.1 678.9,938.2 679.3,938.2 679.7,938.2 680.1,938.3 680.5,938.2 680.9,938.3 681.3,938.2 681.7,938 682.1,938.1 682.5,938.2 682.9,938.2 683.3,938.2 683.7,938 684.1,937.8 684.5,937.7 684.9,937.7 685.3,937.8 685.7,937.8 686.1,937.8 686.5,937.9 686.9,937.9 687.3,938.1 687.7,938.2 688.1,938.1 688.5,938 688.9,938 689.3,938 689.7,937 690.1,931.8 690.5,919.6 690.9,905.4 691.3,901.6 691.7,911.9 692.1,926.2 692.5,935.1 692.9,937.8 693.3,937.8 693.7,937.6 694.1,937.1 694.5,936.9 694.9,937 695.3,936.6 695.7,936.7 696.1,936.6 696.5,936.5 696.9,936.4 697.3,936.2 697.7,935.8 698.1,935.7 698.5,935.5 698.9,935.2 699.3,935.2 699.7,935 700.1,934.7 700.5,934.6 700.9,934.3 701.3,934 701.7,933.8 702.1,933.4 702.5,933 702.9,932.6 703.3,932.4 703.7,932 704.1,931.8 704.5,931.3 704.9,930.7 705.3,930.2 705.7,929.9 706.1,929.7 706.5,929.5 706.9,929.4 707.3,929.3 707.7,929 708.1,929.1 708.5,929 708.9,929.1 709.3,929.6 709.7,930.1 710.1,930.8 710.5,931.6 710.9,932.3 711.3,933.1 711.7,933.9 712.1,934.5 712.5,935.2 712.9,935.7 713.3,936.2 713.7,936.5 714.1,936.8 714.5,937.2 714.9,937.4 715.3,937.7 715.7,937.9 716.1,937.8 716.5,938.1 716.9,938 717.3,937.9 717.7,938.1 718.1,938.1 718.5,938.1 718.9,938.2 719.3,938.3 719.7,938.4 720.1,938.3 720.5,938.2 720.9,938.2 721.3,938 721.7,938 722.1,938 722.5,937.8 722.9,937.7 723.3,937.8 723.7,937.8 724.1,937.9 724.5,938.1 724.9,938 725.3,938 725.7,937.9 726.1,937.8 726.5,938 726.9,937.8 727.3,937.9 727.7,937.9 728.1,938 728.5,938.2 728.9,938.3 729.3,938.4 729.7,938.3 730.1,938.3 730.5,938.2 730.9,938.2 731.3,938.3 731.7,938.3 732.1,938.5 732.5,938.4 732.9,938.3 733.3,938.2 733.7,938.2 734.1,938.2 734.5,938 734.9,938.1 735.3,938.1 735.7,938.1 736.1,938.3 736.5,938.3 736.9,938.3 737.3,938.3 737.7,938.3 738.1,938.1 738.5,937.9 738.9,937.9 739.3,937.9 739.7,937.8 740.1,938 740.5,938.1 740.9,938.2 741.3,938.4 741.7,938.2 742.1,938.2 742.5,938.1 742.9,938.1 743.3,938.1 743.7,938.1 744.1,938.2 744.5,938.1 744.9,937.9 745.3,937.8 745.7,937.6 746.1,937.6 746.5,937.6 746.9,937.4 747.3,937.5 747.7,937.5 748.1,937.6 748.5,937.9 748.9,938 749.3,938 749.7,938.2 750.1,938.2 750.5,938.1 750.9,936.4 751.3,929.6 751.7,916.3 752.1,903.8 752.5,903.7 752.9,915.9 753.3,928.9 753.7,935.8 754.1,937.5 754.5,937.5 754.9,937.4 755.3,937.2 755.7,937.2 756.1,937.2 756.5,937.1 756.9,937.1 757.3,937 757.7,936.9 758.1,936.7 758.5,936.4 758.9,936.2 759.3,936 759.7,935.9 760.1,935.6 760.5,935.4 760.9,935.3 761.3,934.9 761.7,934.7 762.1,934.3 762.5,933.9 762.9,933.6 763.3,933.1 763.7,932.8 764.1,932.3 764.5,932.1 764.9,931.8 765.3,931.5 765.7,931.1 766.1,930.5 766.5,930.2 766.9,929.8 767.3,929.6 767.7,929.4 768.1,929.3 768.5,929.2 768.9,929.1 769.3,929 769.7,929.3 770.1,929.4 770.5,929.7 770.9,930.1 771.3,930.6 771.7,931.4 772.1,932.2 772.5,933.3 772.9,934.1 773.3,934.8 773.7,935.4 774.1,935.8 774.5,936.4 774.9,936.8 775.3,937.3 775.7,937.5 776.1,937.7 776.5,937.7 776.9,937.8 777.3,938 777.7,938.2 778.1,938.3 778.5,938.2 778.9,938.1 779.3,938 779.7,938 780.1,938.1 780.5,938 780.9,938 781.3,938 781.7,938.1 782.1,938.3 782.5,938.2 782.9,938.2 783.3,938.1 783.7,938 784.1,938.1 784.5,938 784.9,938 785.3,937.9 785.7,937.7 786.1,937.8 786.5,937.8 786.9,937.8 787.3,938 787.7,937.9 788.1,937.9 788.5,937.9 788.9,937.8 789.3,937.9 789.7,938.1 790.1,938 790.5,938.1 790.9,938.1 791.3,938 791.7,938.2 792.1,938.2 792.5,938.2 792.9,938.1 793.3,938.1 793.7,938 794.1,938 794.5,938 794.9,938.2 795.3,938.3 795.7,938.4 796.1,938.5 796.5,938.4 796.9,938.5 797.3,938.4 797.7,938.3 798.1,938.4 798.5,938.2 798.9,938.1 799.3,938.1 799.7,938.1 800.1,938.2 800.5,938.5 800.9,938.5 801.3,938.5 801.7,938.4 802.1,938.4 802.5,938.3 802.9,938.3 803.3,938.2 803.7,938.2 804.1,938 804.5,937.7 804.9,937.6 805.3,937.4 805.7,937.5 806.1,937.6 806.5,937.9 806.9,937.9 807.3,938.1 807.7,938.1 808.1,937.9 808.5,938 808.9,938 809.3,938.4 809.7,938.5 810.1,936.6 810.5,929.9 810.9,919 811.3,911.2 811.7,914" fill="none" stroke="#101010" stroke-width="0.95" stroke-linejoin="round" />
<line x1="514.2" y1="934.7" x2="514.2" y2="903.5" stroke="#c01010" stroke-width="1.5" />
<line x1="574" y1="934.7" x2="574" y2="906.6" stroke="#c01010" stroke-width="1.5" />
<line x1="632.4" y1="934.7" x2="632.4" y2="903.6" stroke="#c01010" stroke-width="1.5" />
<line x1="691.2" y1="934.7" x2="691.2" y2="903.1" stroke="#c01010" stroke-width="1.5" />
<line x1="752.3" y1="934.7" x2="752.3" y2="903.8" stroke="#c01010" stroke-width="1.5" />
<line x1="811.4" y1="934.7" x2="811.4" y2="912.8" stroke="#c01010" stroke-width="1.5" />
<line x1="472.1" y1="906.6" x2="472.1" y2="1007.5" stroke="#111" stroke-width="1.5" />
<line x1="471.4" y1="1006.8" x2="807.6" y2="1006.8" stroke="#111" stroke-width="1.5" />
<line x1="807.3" y1="1006.8" x2="833.5" y2="832.2" stroke="#111" stroke-width="1.4" />
<line x1="468.2" y1="907.3" x2="472.1" y2="907.3" stroke="#111" stroke-width="1.3" />
<text x="466.4" y="912.7" font-size="16.6" text-anchor="end" fill="#000" stroke="#000" >2</text>
<line x1="468.2" y1="935.7" x2="472.1" y2="935.7" stroke="#111" stroke-width="1.3" />
<text x="466.4" y="941.1" font-size="16.6" text-anchor="end" fill="#000" stroke="#000" >1</text>
<line x1="468.2" y1="964.1" x2="472.1" y2="964.1" stroke="#111" stroke-width="1.3" />
<text x="466.4" y="969.5" font-size="16.6" text-anchor="end" fill="#000" stroke="#000" >0</text>
<line x1="468.2" y1="992.4" x2="472.1" y2="992.4" stroke="#111" stroke-width="1.3" />
<text x="466.4" y="997.8" font-size="16.6" text-anchor="end" fill="#000" stroke="#000" >−1</text>
<line x1="472.1" y1="1006.8" x2="472.1" y2="1010.4" stroke="#111" stroke-width="1.3" />
<text x="472.1" y="1027" font-size="16.6" text-anchor="middle" fill="#000" stroke="#000" >0</text>
<line x1="557.9" y1="1006.8" x2="557.9" y2="1010.4" stroke="#111" stroke-width="1.3" />
<text x="557.9" y="1027" font-size="16.6" text-anchor="middle" fill="#000" stroke="#000" >1</text>
<line x1="643.6" y1="1006.8" x2="643.6" y2="1010.4" stroke="#111" stroke-width="1.3" />
<text x="643.6" y="1027" font-size="16.6" text-anchor="middle" fill="#000" stroke="#000" >2</text>
<line x1="729.4" y1="1006.8" x2="729.4" y2="1010.4" stroke="#111" stroke-width="1.3" />
<text x="729.4" y="1027" font-size="16.6" text-anchor="middle" fill="#000" stroke="#000" >3</text>
<text x="644.8" y="1044.6" font-size="16.4" text-anchor="middle" fill="#000" stroke="#000" >Time (s)</text>
<text transform="translate(444.4 957.5) rotate(-90)" font-size="16.5" text-anchor="middle" fill="#000" stroke="#000" >ECG (mV)</text>
<line x1="831.1" y1="848.5" x2="834.1" y2="848.2" stroke="#111" stroke-width="1.0" />
<text transform="translate(835.2 852.9) scale(0.96 1)" font-size="12.6" text-anchor="start" fill="#000" stroke="#000" >48</text>
<line x1="825.7" y1="884.3" x2="828.7" y2="884" stroke="#111" stroke-width="1.0" />
<text transform="translate(830.4 889.1) scale(0.97 1)" font-size="13.2" text-anchor="start" fill="#000" stroke="#000" >24</text>
<line x1="819.3" y1="927" x2="822.3" y2="926.7" stroke="#111" stroke-width="1.0" />
<text transform="translate(825.6 931.8) scale(0.92 1)" font-size="14.2" text-anchor="start" fill="#000" stroke="#000" >12</text>
<line x1="811.7" y1="977.4" x2="814.7" y2="977.1" stroke="#111" stroke-width="1.0" />
<text transform="translate(817 982.8) scale(0.92 1)" font-size="16.2" text-anchor="start" fill="#000" stroke="#000" >0</text>
<text transform="matrix(0.09 -0.785 1 0 854.6 906.4)" font-size="13" text-anchor="middle">Time (h)</text>
</g>
</svg>
</body>
</html>
